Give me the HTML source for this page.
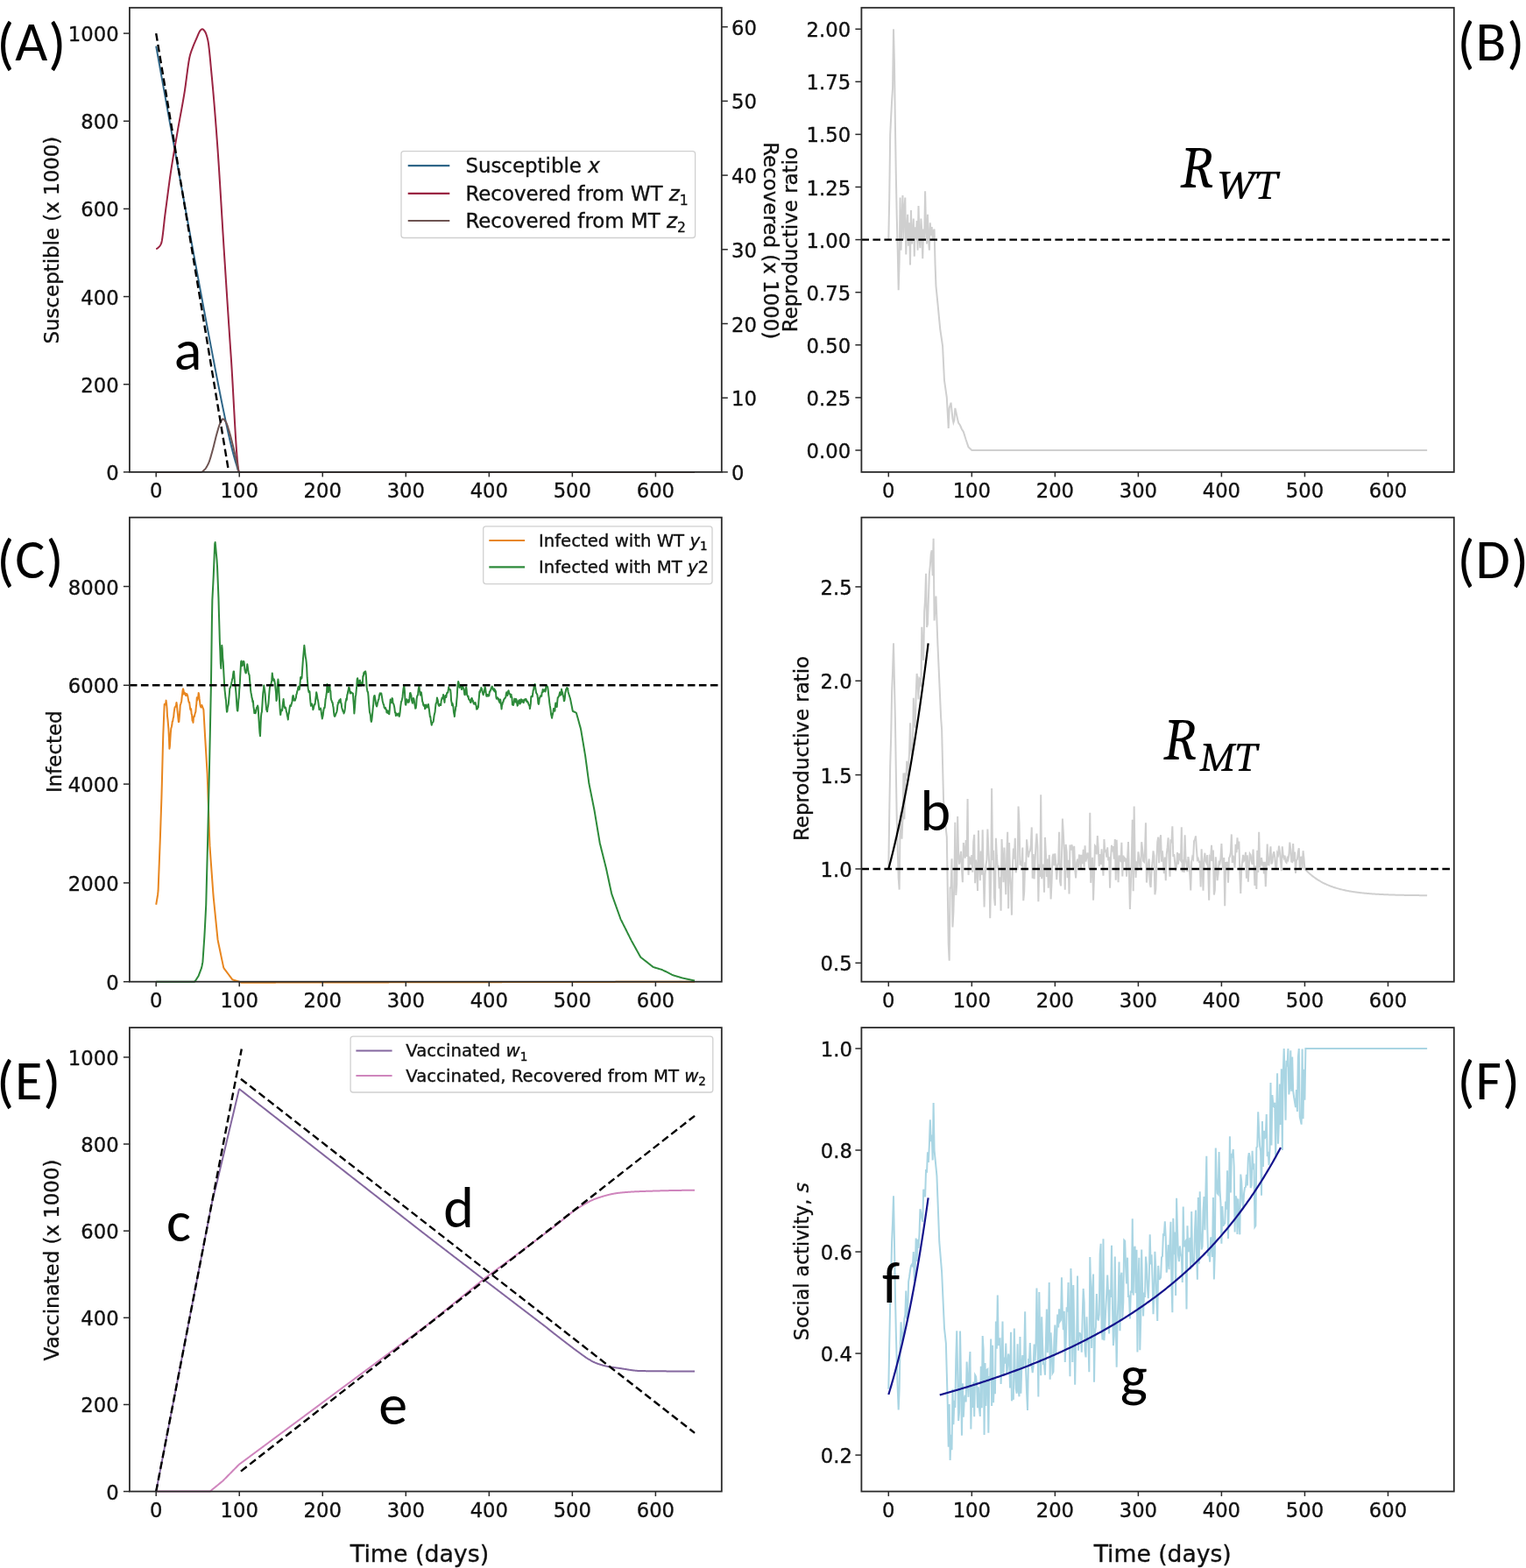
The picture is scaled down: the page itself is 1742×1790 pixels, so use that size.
<!DOCTYPE html>
<html><head><meta charset="utf-8"><title>Figure</title>
<style>html,body{margin:0;padding:0;background:#fff;}svg{display:block;}</style>
</head><body>
<svg width="1742" height="1790" viewBox="0 0 1742 1790">
<rect width="100%" height="100%" fill="#fff"/>
<polyline points="178.2,52.62 178.44,53.95 178.68,55.27 178.91,56.6 179.15,57.92 179.39,59.25 179.63,60.57 179.86,61.9 180.1,63.22 180.34,64.55 180.58,65.87 180.81,67.19 181.05,68.52 181.29,69.84 181.53,71.17 181.76,72.49 182,73.81 182.24,75.14 182.48,76.46 182.71,77.78 182.95,79.11 183.19,80.43 183.43,81.75 183.66,83.08 183.9,84.4 184.14,85.72 184.38,87.04 184.61,88.37 184.85,89.69 185.09,91.01 185.33,92.33 185.56,93.66 185.8,94.98 186.04,96.3 186.28,97.62 186.52,98.94 186.75,100.26 186.99,101.58 187.23,102.91 187.47,104.23 187.7,105.55 187.94,106.87 188.18,108.19 188.42,109.51 188.65,110.83 188.89,112.15 189.13,113.47 189.37,114.79 189.6,116.11 189.84,117.43 190.08,118.75 190.32,120.07 190.55,121.39 190.79,122.71 191.03,124.03 191.27,125.35 191.5,126.67 191.74,127.99 191.98,129.31 192.22,130.62 192.45,131.94 192.69,133.26 192.93,134.58 193.17,135.9 193.4,137.22 193.64,138.54 193.88,139.85 194.12,141.17 194.36,142.49 194.59,143.81 194.83,145.12 195.07,146.44 195.31,147.76 195.54,149.08 195.78,150.39 196.02,151.71 196.26,153.03 196.49,154.34 196.73,155.66 196.97,156.98 197.21,158.29 197.44,159.61 197.68,160.92 197.92,162.24 198.16,163.56 198.39,164.88 198.63,166.19 198.87,167.51 199.11,168.83 199.34,170.14 199.58,171.46 199.82,172.78 200.06,174.1 200.29,175.42 200.53,176.73 200.77,178.05 201.01,179.37 201.24,180.69 201.48,182.01 201.72,183.33 201.96,184.64 202.2,185.96 202.43,187.28 202.67,188.6 202.91,189.92 203.15,191.24 203.38,192.55 203.62,193.87 203.86,195.19 204.1,196.51 204.33,197.83 204.57,199.14 204.81,200.46 205.05,201.78 205.28,203.1 205.52,204.41 205.76,205.73 206,207.05 206.23,208.36 206.47,209.68 206.71,211 206.95,212.31 207.18,213.63 207.42,214.95 207.66,216.26 207.9,217.58 208.13,218.89 208.37,220.21 208.61,221.52 208.85,222.84 209.08,224.15 209.32,225.46 209.56,226.78 209.8,228.09 210.04,229.4 210.27,230.72 210.51,232.03 210.75,233.34 210.99,234.65 211.22,235.96 211.46,237.27 211.7,238.58 211.94,239.89 212.17,241.2 212.41,242.51 212.65,243.82 212.89,245.13 213.12,246.44 213.36,247.74 213.6,249.05 213.84,250.36 214.07,251.66 214.31,252.97 214.55,254.27 214.79,255.58 215.02,256.88 215.26,258.18 215.5,259.49 215.74,260.79 215.97,262.09 216.21,263.39 216.45,264.69 216.69,265.99 216.92,267.29 217.16,268.59 217.4,269.89 217.64,271.18 217.88,272.48 218.11,273.78 218.35,275.07 218.59,276.37 218.83,277.66 219.06,278.95 219.3,280.24 219.54,281.54 219.78,282.83 220.01,284.12 220.25,285.41 220.49,286.71 220.73,288 220.96,289.29 221.2,290.58 221.44,291.87 221.68,293.16 221.91,294.46 222.15,295.75 222.39,297.04 222.63,298.33 222.86,299.62 223.1,300.91 223.34,302.2 223.58,303.49 223.81,304.78 224.05,306.07 224.29,307.36 224.53,308.65 224.76,309.94 225,311.22 225.24,312.51 225.48,313.8 225.71,315.09 225.95,316.37 226.19,317.66 226.43,318.95 226.67,320.23 226.9,321.52 227.14,322.8 227.38,324.09 227.62,325.37 227.85,326.66 228.09,327.94 228.33,329.22 228.57,330.51 228.8,331.79 229.04,333.07 229.28,334.35 229.52,335.63 229.75,336.91 229.99,338.19 230.23,339.47 230.47,340.75 230.7,342.02 230.94,343.3 231.18,344.58 231.42,345.85 231.65,347.13 231.89,348.4 232.13,349.67 232.37,350.95 232.6,352.22 232.84,353.49 233.08,354.76 233.32,356.03 233.55,357.3 233.79,358.57 234.03,359.83 234.27,361.1 234.51,362.37 234.74,363.63 234.98,364.9 235.22,366.16 235.46,367.42 235.69,368.68 235.93,369.94 236.17,371.2 236.41,372.46 236.64,373.72 236.88,374.98 237.12,376.23 237.36,377.49 237.59,378.74 237.83,380 238.07,381.25 238.31,382.5 238.54,383.75 238.78,385 239.02,386.25 239.26,387.5 239.49,388.74 239.73,389.99 239.97,391.23 240.21,392.47 240.44,393.71 240.68,394.96 240.92,396.19 241.16,397.43 241.39,398.67 241.63,399.91 241.87,401.15 242.11,402.38 242.35,403.62 242.58,404.86 242.82,406.1 243.06,407.34 243.3,408.58 243.53,409.82 243.77,411.06 244.01,412.3 244.25,413.54 244.48,414.78 244.72,416.02 244.96,417.26 245.2,418.5 245.43,419.74 245.67,420.97 245.91,422.21 246.15,423.45 246.38,424.68 246.62,425.91 246.86,427.15 247.1,428.38 247.33,429.61 247.57,430.84 247.81,432.07 248.05,433.29 248.28,434.52 248.52,435.74 248.76,436.97 249,438.19 249.23,439.41 249.47,440.62 249.71,441.84 249.95,443.05 250.19,444.26 250.42,445.47 250.66,446.68 250.9,447.88 251.14,449.08 251.37,450.28 251.61,451.48 251.85,452.67 252.09,453.87 252.32,455.06 252.56,456.24 252.8,457.43 253.04,458.61 253.27,459.78 253.51,460.96 253.75,462.13 253.99,463.3 254.22,464.46 254.46,465.62 254.7,466.78 254.94,467.93 255.17,469.08 255.41,470.23 255.65,471.37 255.89,472.51 256.12,473.65 256.36,474.78 256.6,475.9 256.84,477.03 257.07,478.15 257.31,479.27 257.55,480.38 257.79,481.5 258.03,482.61 258.26,483.73 258.5,484.83 258.74,485.94 258.98,487.04 259.21,488.14 259.45,489.24 259.69,490.33 259.93,491.41 260.16,492.49 260.4,493.57 260.64,494.63 260.88,495.7 261.11,496.75 261.35,497.8 261.59,498.85 261.83,499.88 262.06,500.91 262.3,501.93 262.54,502.94 262.78,503.94 263.01,504.93 263.25,505.91 263.49,506.89 263.73,507.85 263.96,508.81 264.2,509.76 264.44,510.72 264.68,511.67 264.91,512.61 265.15,513.56 265.39,514.49 265.63,515.43 265.87,516.35 266.1,517.27 266.34,518.17 266.58,519.07 266.82,519.96 267.05,520.84 267.29,521.71 267.53,522.57 267.77,523.41 268,524.24 268.24,525.05 268.48,525.85 268.72,526.64 268.95,527.4 269.19,528.15 269.43,528.88 269.67,529.63 269.9,530.42 270.14,531.24 270.38,532.07 270.62,532.91 270.85,533.75 271.09,534.56 271.33,535.34 271.57,536.07 271.8,536.75 272.04,537.35 272.28,537.88 272.52,538.31 272.75,538.63 272.99,538.83 273.23,538.9" fill="none" stroke="#2f6688" stroke-width="2.0" stroke-linejoin="round" stroke-linecap="butt"/>
<polyline points="178.2,284.21 178.44,284.12 178.68,284.01 178.91,283.89 179.15,283.76 179.39,283.61 179.63,283.45 179.86,283.28 180.1,283.11 180.34,282.92 180.58,282.73 180.81,282.52 181.05,282.31 181.29,282.08 181.53,281.84 181.76,281.58 182,281.31 182.24,281.01 182.48,280.69 182.71,280.35 182.95,279.98 183.19,279.59 183.43,279.17 183.66,278.71 183.9,278.23 184.14,277.67 184.38,276.88 184.61,275.87 184.85,274.65 185.09,273.25 185.33,271.68 185.56,269.97 185.8,268.13 186.04,266.18 186.28,264.14 186.52,262.04 186.75,259.89 186.99,257.71 187.23,255.52 187.47,253.34 187.7,251.19 187.94,249.09 188.18,247.07 188.42,245.13 188.65,243.3 188.89,241.52 189.13,239.74 189.37,237.94 189.6,236.14 189.84,234.33 190.08,232.51 190.32,230.69 190.55,228.87 190.79,227.04 191.03,225.22 191.27,223.4 191.5,221.58 191.74,219.77 191.98,217.96 192.22,216.17 192.45,214.38 192.69,212.6 192.93,210.84 193.17,209.09 193.4,207.35 193.64,205.63 193.88,203.93 194.12,202.25 194.36,200.6 194.59,198.96 194.83,197.35 195.07,195.76 195.31,194.19 195.54,192.64 195.78,191.09 196.02,189.56 196.26,188.05 196.49,186.55 196.73,185.05 196.97,183.57 197.21,182.11 197.44,180.65 197.68,179.2 197.92,177.76 198.16,176.32 198.39,174.9 198.63,173.48 198.87,172.07 199.11,170.67 199.34,169.27 199.58,167.88 199.82,166.49 200.06,165.11 200.29,163.72 200.53,162.35 200.77,160.97 201.01,159.6 201.24,158.22 201.48,156.85 201.72,155.48 201.96,154.11 202.2,152.73 202.43,151.36 202.67,149.98 202.91,148.6 203.15,147.24 203.38,145.89 203.62,144.55 203.86,143.22 204.1,141.9 204.33,140.59 204.57,139.29 204.81,137.99 205.05,136.7 205.28,135.41 205.52,134.12 205.76,132.84 206,131.56 206.23,130.27 206.47,128.99 206.71,127.71 206.95,126.42 207.18,125.13 207.42,123.83 207.66,122.53 207.9,121.22 208.13,119.9 208.37,118.58 208.61,117.24 208.85,115.89 209.08,114.54 209.32,113.16 209.56,111.78 209.8,110.38 210.04,108.96 210.27,107.53 210.51,106.08 210.75,104.59 210.99,103.03 211.22,101.41 211.46,99.74 211.7,98.03 211.94,96.28 212.17,94.5 212.41,92.69 212.65,90.87 212.89,89.04 213.12,87.2 213.36,85.37 213.6,83.56 213.84,81.76 214.07,79.98 214.31,78.24 214.55,76.53 214.79,74.88 215.02,73.27 215.26,71.73 215.5,70.25 215.74,68.85 215.97,67.53 216.21,66.29 216.45,65.15 216.69,64.12 216.92,63.18 217.16,62.3 217.4,61.48 217.64,60.69 217.88,59.95 218.11,59.25 218.35,58.57 218.59,57.91 218.83,57.27 219.06,56.65 219.3,56.03 219.54,55.41 219.78,54.79 220.01,54.16 220.25,53.54 220.49,52.93 220.73,52.32 220.96,51.72 221.2,51.14 221.44,50.55 221.68,49.98 221.91,49.41 222.15,48.86 222.39,48.3 222.63,47.76 222.86,47.21 223.1,46.68 223.34,46.15 223.58,45.62 223.81,45.1 224.05,44.57 224.29,44.03 224.53,43.47 224.76,42.91 225,42.34 225.24,41.76 225.48,41.19 225.71,40.61 225.95,40.04 226.19,39.48 226.43,38.93 226.67,38.39 226.9,37.87 227.14,37.36 227.38,36.88 227.62,36.42 227.85,35.99 228.09,35.59 228.33,35.22 228.57,34.88 228.8,34.59 229.04,34.34 229.28,34.12 229.52,33.94 229.75,33.77 229.99,33.6 230.23,33.46 230.47,33.34 230.7,33.27 230.94,33.24 231.18,33.27 231.42,33.34 231.65,33.46 231.89,33.62 232.13,33.81 232.37,34.04 232.6,34.29 232.84,34.56 233.08,34.85 233.32,35.15 233.55,35.47 233.79,35.78 234.03,36.13 234.27,36.52 234.51,36.97 234.74,37.47 234.98,38.02 235.22,38.62 235.46,39.27 235.69,39.96 235.93,40.7 236.17,41.49 236.41,42.33 236.64,43.21 236.88,44.13 237.12,45.1 237.36,46.19 237.59,47.48 237.83,48.94 238.07,50.58 238.31,52.37 238.54,54.3 238.78,56.35 239.02,58.52 239.26,60.79 239.49,63.15 239.73,65.57 239.97,68.06 240.21,70.59 240.44,73.15 240.68,75.73 240.92,78.32 241.16,80.89 241.39,83.45 241.63,85.96 241.87,88.44 242.11,90.93 242.35,93.47 242.58,96.04 242.82,98.65 243.06,101.3 243.3,103.98 243.53,106.7 243.77,109.45 244.01,112.23 244.25,115.05 244.48,117.91 244.72,120.79 244.96,123.7 245.2,126.65 245.43,129.62 245.67,132.62 245.91,135.65 246.15,138.71 246.38,141.79 246.62,144.9 246.86,148.04 247.1,151.2 247.33,154.38 247.57,157.59 247.81,160.82 248.05,164.07 248.28,167.35 248.52,170.69 248.76,174.09 249,177.54 249.23,181.06 249.47,184.62 249.71,188.23 249.95,191.89 250.19,195.58 250.42,199.32 250.66,203.09 250.9,206.89 251.14,210.72 251.37,214.57 251.61,218.45 251.85,222.35 252.09,226.26 252.32,230.18 252.56,234.11 252.8,238.05 253.04,241.99 253.27,245.93 253.51,249.87 253.75,253.8 253.99,257.71 254.22,261.62 254.46,265.51 254.7,269.37 254.94,273.22 255.17,277.04 255.41,280.82 255.65,284.58 255.89,288.3 256.12,291.99 256.36,295.68 256.6,299.37 256.84,303.06 257.07,306.75 257.31,310.44 257.55,314.13 257.79,317.82 258.03,321.5 258.26,325.18 258.5,328.85 258.74,332.52 258.98,336.19 259.21,339.85 259.45,343.5 259.69,347.14 259.93,350.78 260.16,354.42 260.4,358.04 260.64,361.65 260.88,365.26 261.11,368.86 261.35,372.44 261.59,376.02 261.83,379.58 262.06,383.13 262.3,386.67 262.54,390.2 262.78,393.71 263.01,397.21 263.25,400.69 263.49,404.16 263.73,407.62 263.96,411.13 264.2,414.79 264.44,418.57 264.68,422.46 264.91,426.45 265.15,430.53 265.39,434.69 265.63,438.91 265.87,443.19 266.1,447.51 266.34,451.86 266.58,456.24 266.82,460.61 267.05,464.99 267.29,469.35 267.53,473.68 267.77,477.97 268,482.21 268.24,486.39 268.48,490.49 268.72,494.5 268.95,498.42 269.19,502.23 269.43,505.92 269.67,509.48 269.9,512.89 270.14,516.14 270.38,519.23 270.62,522.13 270.85,524.85 271.09,527.36 271.33,529.66 271.57,531.73 271.8,533.56 272.04,535.14 272.28,536.46 272.52,537.51 272.75,538.28 272.99,538.74 273.23,538.9" fill="none" stroke="#9a2442" stroke-width="2.0" stroke-linejoin="round" stroke-linecap="butt"/>
<polyline points="178.2,538.9 178.44,538.9 178.68,538.9 178.91,538.9 179.15,538.9 179.39,538.9 179.63,538.9 179.86,538.9 180.1,538.9 180.34,538.9 180.58,538.9 180.81,538.9 181.05,538.9 181.29,538.9 181.53,538.9 181.76,538.9 182,538.9 182.24,538.9 182.48,538.9 182.71,538.9 182.95,538.9 183.19,538.9 183.43,538.9 183.66,538.9 183.9,538.9 184.14,538.9 184.38,538.9 184.61,538.9 184.85,538.9 185.09,538.9 185.33,538.9 185.56,538.9 185.8,538.9 186.04,538.9 186.28,538.9 186.52,538.9 186.75,538.9 186.99,538.9 187.23,538.9 187.47,538.9 187.7,538.9 187.94,538.9 188.18,538.9 188.42,538.9 188.65,538.9 188.89,538.9 189.13,538.9 189.37,538.9 189.6,538.9 189.84,538.9 190.08,538.9 190.32,538.9 190.55,538.9 190.79,538.9 191.03,538.9 191.27,538.9 191.5,538.9 191.74,538.9 191.98,538.9 192.22,538.9 192.45,538.9 192.69,538.9 192.93,538.9 193.17,538.9 193.4,538.9 193.64,538.9 193.88,538.9 194.12,538.9 194.36,538.9 194.59,538.9 194.83,538.9 195.07,538.9 195.31,538.9 195.54,538.9 195.78,538.9 196.02,538.9 196.26,538.9 196.49,538.9 196.73,538.9 196.97,538.9 197.21,538.9 197.44,538.9 197.68,538.9 197.92,538.9 198.16,538.9 198.39,538.9 198.63,538.9 198.87,538.9 199.11,538.9 199.34,538.9 199.58,538.9 199.82,538.9 200.06,538.9 200.29,538.9 200.53,538.9 200.77,538.9 201.01,538.9 201.24,538.9 201.48,538.9 201.72,538.9 201.96,538.9 202.2,538.9 202.43,538.9 202.67,538.9 202.91,538.9 203.15,538.9 203.38,538.9 203.62,538.9 203.86,538.9 204.1,538.9 204.33,538.9 204.57,538.9 204.81,538.9 205.05,538.9 205.28,538.9 205.52,538.9 205.76,538.9 206,538.9 206.23,538.9 206.47,538.9 206.71,538.9 206.95,538.9 207.18,538.9 207.42,538.9 207.66,538.9 207.9,538.9 208.13,538.9 208.37,538.9 208.61,538.9 208.85,538.9 209.08,538.9 209.32,538.9 209.56,538.9 209.8,538.9 210.04,538.9 210.27,538.9 210.51,538.9 210.75,538.9 210.99,538.9 211.22,538.9 211.46,538.9 211.7,538.9 211.94,538.9 212.17,538.9 212.41,538.9 212.65,538.9 212.89,538.9 213.12,538.9 213.36,538.9 213.6,538.9 213.84,538.9 214.07,538.9 214.31,538.9 214.55,538.9 214.79,538.9 215.02,538.9 215.26,538.9 215.5,538.9 215.74,538.9 215.97,538.9 216.21,538.9 216.45,538.9 216.69,538.9 216.92,538.9 217.16,538.9 217.4,538.9 217.64,538.9 217.88,538.9 218.11,538.9 218.35,538.9 218.59,538.9 218.83,538.9 219.06,538.9 219.3,538.9 219.54,538.9 219.78,538.9 220.01,538.9 220.25,538.9 220.49,538.9 220.73,538.9 220.96,538.9 221.2,538.9 221.44,538.9 221.68,538.9 221.91,538.9 222.15,538.9 222.39,538.9 222.63,538.9 222.86,538.9 223.1,538.9 223.34,538.9 223.58,538.9 223.81,538.9 224.05,538.9 224.29,538.9 224.53,538.9 224.76,538.9 225,538.9 225.24,538.9 225.48,538.9 225.71,538.9 225.95,538.9 226.19,538.9 226.43,538.9 226.67,538.9 226.9,538.9 227.14,538.9 227.38,538.9 227.62,538.9 227.85,538.9 228.09,538.9 228.33,538.9 228.57,538.9 228.8,538.9 229.04,538.9 229.28,538.9 229.52,538.9 229.75,538.88 229.99,538.84 230.23,538.77 230.47,538.67 230.7,538.55 230.94,538.41 231.18,538.25 231.42,538.07 231.65,537.88 231.89,537.68 232.13,537.47 232.37,537.25 232.6,537.03 232.84,536.81 233.08,536.58 233.32,536.36 233.55,536.13 233.79,535.88 234.03,535.61 234.27,535.33 234.51,535.02 234.74,534.7 234.98,534.37 235.22,534.02 235.46,533.65 235.69,533.27 235.93,532.87 236.17,532.46 236.41,532.04 236.64,531.6 236.88,531.15 237.12,530.69 237.36,530.22 237.59,529.73 237.83,529.24 238.07,528.74 238.31,528.21 238.54,527.64 238.78,527.03 239.02,526.39 239.26,525.71 239.49,525.01 239.73,524.27 239.97,523.52 240.21,522.74 240.44,521.94 240.68,521.12 240.92,520.3 241.16,519.46 241.39,518.61 241.63,517.75 241.87,516.9 242.11,516.04 242.35,515.18 242.58,514.33 242.82,513.49 243.06,512.64 243.3,511.76 243.53,510.85 243.77,509.93 244.01,508.99 244.25,508.04 244.48,507.07 244.72,506.09 244.96,505.11 245.2,504.13 245.43,503.15 245.67,502.17 245.91,501.2 246.15,500.24 246.38,499.29 246.62,498.36 246.86,497.45 247.1,496.56 247.33,495.69 247.57,494.86 247.81,494.03 248.05,493.19 248.28,492.35 248.52,491.5 248.76,490.66 249,489.83 249.23,489.01 249.47,488.21 249.71,487.43 249.95,486.68 250.19,485.96 250.42,485.28 250.66,484.64 250.9,484.04 251.14,483.49 251.37,483 251.61,482.53 251.85,482.05 252.09,481.57 252.32,481.1 252.56,480.64 252.8,480.21 253.04,479.8 253.27,479.43 253.51,479.1 253.75,478.82 253.99,478.6 254.22,478.44 254.46,478.35 254.7,478.34 254.94,478.39 255.17,478.5 255.41,478.64 255.65,478.84 255.89,479.07 256.12,479.33 256.36,479.62 256.6,479.94 256.84,480.28 257.07,480.64 257.31,481.01 257.55,481.39 257.79,481.77 258.03,482.15 258.26,482.56 258.5,483.03 258.74,483.56 258.98,484.14 259.21,484.76 259.45,485.43 259.69,486.13 259.93,486.86 260.16,487.61 260.4,488.38 260.64,489.17 260.88,489.97 261.11,490.77 261.35,491.58 261.59,492.38 261.83,493.16 262.06,493.95 262.3,494.77 262.54,495.6 262.78,496.45 263.01,497.32 263.25,498.21 263.49,499.11 263.73,500.02 263.96,500.94 264.2,501.88 264.44,502.81 264.68,503.76 264.91,504.71 265.15,505.66 265.39,506.61 265.63,507.56 265.87,508.52 266.1,509.49 266.34,510.48 266.58,511.48 266.82,512.49 267.05,513.5 267.29,514.52 267.53,515.55 267.77,516.58 268,517.6 268.24,518.63 268.48,519.65 268.72,520.66 268.95,521.67 269.19,522.67 269.43,523.65 269.67,524.69 269.9,525.81 270.14,527 270.38,528.24 270.62,529.5 270.85,530.77 271.09,532.02 271.33,533.23 271.57,534.38 271.8,535.45 272.04,536.42 272.28,537.25 272.52,537.94 272.75,538.46 272.99,538.79 273.23,538.9" fill="none" stroke="#6e5452" stroke-width="2.0" stroke-linejoin="round" stroke-linecap="butt"/>
<polyline points="273.23,538.9 793.04,538.9" fill="none" stroke="#6e4a48" stroke-width="2.0" stroke-linejoin="round" stroke-linecap="butt"/>
<polyline points="178.2,538.9 229.52,538.9" fill="none" stroke="#6e4a48" stroke-width="2.0" stroke-linejoin="round" stroke-linecap="butt"/>
<polyline points="178.2,38.1 261.16,538.9" fill="none" stroke="#000" stroke-width="2.4" stroke-linejoin="round" stroke-linecap="butt" stroke-dasharray="8.6,4.4"/>
<polyline points="1014.3,273.6 1015.25,225.52 1016.2,153.4 1017.15,134.17 1018.1,114.94 1019.05,100.51 1020,33.2 1020.95,71.66 1021.9,141.38 1022.85,201.48 1023.8,249.56 1024.75,285.62 1025.7,331.3 1026.65,297.64 1027.6,225.52 1028.55,285.62 1029.5,249.56 1030.46,223.12 1031.41,273.6 1032.36,237.54 1033.31,225.52 1034.26,290.43 1035.21,261.58 1036.16,244.75 1037.11,280.81 1038.06,254.37 1039.01,302.45 1039.96,239.94 1040.91,278.41 1041.86,266.39 1042.81,249.56 1043.76,292.83 1044.71,259.18 1045.66,273.6 1046.61,251.96 1047.56,285.62 1048.51,235.14 1049.46,271.2 1050.41,283.22 1051.36,249.56 1052.31,263.98 1053.26,295.24 1054.21,261.58 1055.16,273.6 1056.11,218.31 1057.06,261.58 1058.01,278.41 1058.96,244.75 1059.91,273.6 1060.86,285.62 1061.82,254.37 1062.77,268.79 1063.72,259.18 1064.67,273.6 1065.62,263.98 1066.57,261.58 1067.52,301.25 1068.47,326.49 1069.42,336.1 1070.37,345.72 1071.32,355.66 1072.27,365.59 1073.22,375.53 1074.17,382.02 1075.12,388.51 1076.07,395 1077.02,414.59 1077.97,434.19 1078.92,440.76 1079.87,447.33 1080.82,453.9 1081.77,471.45 1082.72,489 1083.67,465.92 1084.62,462.79 1085.57,459.67 1086.52,468.8 1087.47,477.94 1088.42,482.45 1089.37,479.66 1090.32,465.92 1091.27,470.3 1092.22,474.6 1093.17,478.67 1094.13,482.75 1095.08,484.08 1096.03,485.59 1096.98,487.77 1097.93,489.96 1098.88,491.4 1099.83,492.84 1100.78,495.89 1101.73,498.93 1102.68,501.98 1103.63,504.78 1104.58,507.59 1105.53,510.39 1106.48,511.3 1107.43,512.2 1108.38,513.1 1109.33,514 1110.28,514 1111.23,514 1112.18,514 1113.13,514 1114.08,514 1115.03,514 1115.98,514 1116.93,514 1117.88,514 1118.83,514 1119.78,514 1120.73,514 1121.68,514 1122.63,514 1123.58,514 1124.53,514 1125.49,514 1126.44,514 1127.39,514 1128.34,514 1129.29,514 1130.24,514 1131.19,514 1132.14,514 1133.09,514 1134.04,514 1134.99,514 1135.94,514 1136.89,514 1137.84,514 1138.79,514 1139.74,514 1140.69,514 1141.64,514 1142.59,514 1143.54,514 1144.49,514 1145.44,514 1146.39,514 1147.34,514 1148.29,514 1149.24,514 1150.19,514 1151.14,514 1152.09,514 1153.04,514 1153.99,514 1154.94,514 1155.89,514 1156.85,514 1157.8,514 1158.75,514 1159.7,514 1160.65,514 1161.6,514 1162.55,514 1163.5,514 1164.45,514 1165.4,514 1166.35,514 1167.3,514 1168.25,514 1169.2,514 1170.15,514 1171.1,514 1172.05,514 1173,514 1173.95,514 1174.9,514 1175.85,514 1176.8,514 1177.75,514 1178.7,514 1179.65,514 1180.6,514 1181.55,514 1182.5,514 1183.45,514 1184.4,514 1185.35,514 1186.3,514 1187.25,514 1188.2,514 1189.16,514 1190.11,514 1191.06,514 1192.01,514 1192.96,514 1193.91,514 1194.86,514 1195.81,514 1196.76,514 1197.71,514 1198.66,514 1199.61,514 1200.56,514 1201.51,514 1202.46,514 1203.41,514 1204.36,514 1205.31,514 1206.26,514 1207.21,514 1208.16,514 1209.11,514 1210.06,514 1211.01,514 1211.96,514 1212.91,514 1213.86,514 1214.81,514 1215.76,514 1216.71,514 1217.66,514 1218.61,514 1219.56,514 1220.52,514 1221.47,514 1222.42,514 1223.37,514 1224.32,514 1225.27,514 1226.22,514 1227.17,514 1228.12,514 1229.07,514 1230.02,514 1230.97,514 1231.92,514 1232.87,514 1233.82,514 1234.77,514 1235.72,514 1236.67,514 1237.62,514 1238.57,514 1239.52,514 1240.47,514 1241.42,514 1242.37,514 1243.32,514 1244.27,514 1245.22,514 1246.17,514 1247.12,514 1248.07,514 1249.02,514 1249.97,514 1250.92,514 1251.88,514 1252.83,514 1253.78,514 1254.73,514 1255.68,514 1256.63,514 1257.58,514 1258.53,514 1259.48,514 1260.43,514 1261.38,514 1262.33,514 1263.28,514 1264.23,514 1265.18,514 1266.13,514 1267.08,514 1268.03,514 1268.98,514 1269.93,514 1270.88,514 1271.83,514 1272.78,514 1273.73,514 1274.68,514 1275.63,514 1276.58,514 1277.53,514 1278.48,514 1279.43,514 1280.38,514 1281.33,514 1282.28,514 1283.23,514 1284.19,514 1285.14,514 1286.09,514 1287.04,514 1287.99,514 1288.94,514 1289.89,514 1290.84,514 1291.79,514 1292.74,514 1293.69,514 1294.64,514 1295.59,514 1296.54,514 1297.49,514 1298.44,514 1299.39,514 1300.34,514 1301.29,514 1302.24,514 1303.19,514 1304.14,514 1305.09,514 1306.04,514 1306.99,514 1307.94,514 1308.89,514 1309.84,514 1310.79,514 1311.74,514 1312.69,514 1313.64,514 1314.59,514 1315.55,514 1316.5,514 1317.45,514 1318.4,514 1319.35,514 1320.3,514 1321.25,514 1322.2,514 1323.15,514 1324.1,514 1325.05,514 1326,514 1326.95,514 1327.9,514 1328.85,514 1329.8,514 1330.75,514 1331.7,514 1332.65,514 1333.6,514 1334.55,514 1335.5,514 1336.45,514 1337.4,514 1338.35,514 1339.3,514 1340.25,514 1341.2,514 1342.15,514 1343.1,514 1344.05,514 1345,514 1345.95,514 1346.9,514 1347.86,514 1348.81,514 1349.76,514 1350.71,514 1351.66,514 1352.61,514 1353.56,514 1354.51,514 1355.46,514 1356.41,514 1357.36,514 1358.31,514 1359.26,514 1360.21,514 1361.16,514 1362.11,514 1363.06,514 1364.01,514 1364.96,514 1365.91,514 1366.86,514 1367.81,514 1368.76,514 1369.71,514 1370.66,514 1371.61,514 1372.56,514 1373.51,514 1374.46,514 1375.41,514 1376.36,514 1377.31,514 1378.26,514 1379.22,514 1380.17,514 1381.12,514 1382.07,514 1383.02,514 1383.97,514 1384.92,514 1385.87,514 1386.82,514 1387.77,514 1388.72,514 1389.67,514 1390.62,514 1391.57,514 1392.52,514 1393.47,514 1394.42,514 1395.37,514 1396.32,514 1397.27,514 1398.22,514 1399.17,514 1400.12,514 1401.07,514 1402.02,514 1402.97,514 1403.92,514 1404.87,514 1405.82,514 1406.77,514 1407.72,514 1408.67,514 1409.62,514 1410.58,514 1411.53,514 1412.48,514 1413.43,514 1414.38,514 1415.33,514 1416.28,514 1417.23,514 1418.18,514 1419.13,514 1420.08,514 1421.03,514 1421.98,514 1422.93,514 1423.88,514 1424.83,514 1425.78,514 1426.73,514 1427.68,514 1428.63,514 1429.58,514 1430.53,514 1431.48,514 1432.43,514 1433.38,514 1434.33,514 1435.28,514 1436.23,514 1437.18,514 1438.13,514 1439.08,514 1440.03,514 1440.98,514 1441.93,514 1442.89,514 1443.84,514 1444.79,514 1445.74,514 1446.69,514 1447.64,514 1448.59,514 1449.54,514 1450.49,514 1451.44,514 1452.39,514 1453.34,514 1454.29,514 1455.24,514 1456.19,514 1457.14,514 1458.09,514 1459.04,514 1459.99,514 1460.94,514 1461.89,514 1462.84,514 1463.79,514 1464.74,514 1465.69,514 1466.64,514 1467.59,514 1468.54,514 1469.49,514 1470.44,514 1471.39,514 1472.34,514 1473.29,514 1474.25,514 1475.2,514 1476.15,514 1477.1,514 1478.05,514 1479,514 1479.95,514 1480.9,514 1481.85,514 1482.8,514 1483.75,514 1484.7,514 1485.65,514 1486.6,514 1487.55,514 1488.5,514 1489.45,514 1490.4,514 1491.35,514 1492.3,514 1493.25,514 1494.2,514 1495.15,514 1496.1,514 1497.05,514 1498,514 1498.95,514 1499.9,514 1500.85,514 1501.8,514 1502.75,514 1503.7,514 1504.65,514 1505.61,514 1506.56,514 1507.51,514 1508.46,514 1509.41,514 1510.36,514 1511.31,514 1512.26,514 1513.21,514 1514.16,514 1515.11,514 1516.06,514 1517.01,514 1517.96,514 1518.91,514 1519.86,514 1520.81,514 1521.76,514 1522.71,514 1523.66,514 1524.61,514 1525.56,514 1526.51,514 1527.46,514 1528.41,514 1529.36,514 1530.31,514 1531.26,514 1532.21,514 1533.16,514 1534.11,514 1535.06,514 1536.01,514 1536.96,514 1537.92,514 1538.87,514 1539.82,514 1540.77,514 1541.72,514 1542.67,514 1543.62,514 1544.57,514 1545.52,514 1546.47,514 1547.42,514 1548.37,514 1549.32,514 1550.27,514 1551.22,514 1552.17,514 1553.12,514 1554.07,514 1555.02,514 1555.97,514 1556.92,514 1557.87,514 1558.82,514 1559.77,514 1560.72,514 1561.67,514 1562.62,514 1563.57,514 1564.52,514 1565.47,514 1566.42,514 1567.37,514 1568.32,514 1569.28,514 1570.23,514 1571.18,514 1572.13,514 1573.08,514 1574.03,514 1574.98,514 1575.93,514 1576.88,514 1577.83,514 1578.78,514 1579.73,514 1580.68,514 1581.63,514 1582.58,514 1583.53,514 1584.48,514 1585.43,514 1586.38,514 1587.33,514 1588.28,514 1589.23,514 1590.18,514 1591.13,514 1592.08,514 1593.03,514 1593.98,514 1594.93,514 1595.88,514 1596.83,514 1597.78,514 1598.73,514 1599.68,514 1600.64,514 1601.59,514 1602.54,514 1603.49,514 1604.44,514 1605.39,514 1606.34,514 1607.29,514 1608.24,514 1609.19,514 1610.14,514 1611.09,514 1612.04,514 1612.99,514 1613.94,514 1614.89,514 1615.84,514 1616.79,514 1617.74,514 1618.69,514 1619.64,514 1620.59,514 1621.54,514 1622.49,514 1623.44,514 1624.39,514 1625.34,514 1626.29,514 1627.24,514 1628.19,514 1629.14,514" fill="none" stroke="#cfcfcf" stroke-width="2.0" stroke-linejoin="miter" stroke-linecap="butt"/>
<polyline points="983.4,273.6 1659.8,273.6" fill="none" stroke="#000" stroke-width="2.4" stroke-linejoin="round" stroke-linecap="butt" stroke-dasharray="8.6,4.4"/>
<polyline points="178.2,1032.72 178.68,1029.9 179.15,1027.08 179.63,1024.26 180.1,1021.44 180.58,1016.69 181.05,1004.21 181.53,991.74 182,979.27 182.48,966.79 182.95,954.32 183.43,940.05 183.9,925.79 184.38,911.52 184.85,894.37 185.33,875.29 185.8,856.22 186.28,838.67 186.75,827.22 187.23,814.29 187.7,804.06 188.18,803.64 188.65,804.53 189.13,803.55 189.6,799.62 190.08,803.45 190.55,808.61 191.03,817.72 191.5,821.42 191.98,827.03 192.45,832.79 192.93,842.62 193.4,854.78 193.88,851.76 194.36,843.64 194.83,836.28 195.31,831.5 195.78,830.06 196.26,828.03 196.73,823.65 197.21,823.44 197.68,819.88 198.16,818.73 198.63,813.4 199.11,810.03 199.58,807.35 200.06,806.97 200.53,806.67 201.01,804.55 201.48,801.94 201.96,804.85 202.43,810.84 202.91,814.79 203.38,819.75 203.86,824.1 204.33,823.94 204.81,818.13 205.28,812.69 205.76,804.76 206.23,803.83 206.71,802.13 207.18,800.44 207.66,795.62 208.13,792.02 208.61,787.84 209.08,786.34 209.56,787.99 210.04,792.54 210.51,792.22 210.99,790.85 211.46,791.49 211.94,793.79 212.41,794.05 212.89,792.05 213.36,792.16 213.84,793.33 214.31,794.77 214.79,797.69 215.26,800.35 215.74,801.98 216.21,801.81 216.69,805.64 217.16,809.1 217.64,810.69 218.11,809.12 218.59,814.95 219.06,815.83 219.54,822.72 220.01,821.9 220.49,824.94 220.96,819.31 221.44,817.52 221.91,817.83 222.39,815.44 222.86,813.73 223.34,812.67 223.81,807.04 224.29,803.58 224.76,796.29 225.24,799.62 225.71,797.04 226.19,795.76 226.67,790.93 227.14,792.84 227.62,797.63 228.09,801.03 228.57,805.02 229.04,806.79 229.52,807.56 229.99,807.14 230.47,804.99 230.94,806.25 231.42,807.52 231.89,808.79 232.37,810.05 232.84,818.4 233.32,826.95 233.79,835.5 234.27,843.83 234.74,851.75 235.22,859.67 235.69,867.59 236.17,875.51 236.64,883.43 237.12,897.05 237.59,911.22 238.07,925.4 238.54,939.58 239.02,953.76 239.49,965.91 239.97,972.56 240.44,979.21 240.92,985.86 241.39,992.52 241.87,999.17 242.35,1005.82 242.82,1012.47 243.3,1019.13 243.77,1024.92 244.25,1029.68 244.72,1034.43 245.2,1039.18 245.67,1043.93 246.15,1048.68 246.62,1053.43 247.1,1058.18 247.57,1062.94 248.05,1067.69 248.52,1072.44 249,1075.03 249.47,1077.29 249.95,1079.55 250.42,1081.81 250.9,1084.06 251.37,1086.32 251.85,1088.58 252.32,1090.83 252.8,1093.09 253.27,1095.35 253.75,1097.6 254.22,1099.86 254.7,1102.12 255.17,1104.38 255.65,1105.41 256.12,1106.05 256.6,1106.68 257.07,1107.31 257.55,1107.95 258.03,1108.58 258.5,1109.21 258.98,1109.85 259.45,1110.48 259.93,1111.11 260.4,1111.75 260.88,1112.38 261.35,1113.02 261.83,1113.65 262.3,1114.28 262.78,1114.92 263.25,1115.55 263.73,1116.18 264.2,1116.82 264.68,1117.45 265.15,1118.08 265.63,1118.43 266.1,1118.57 266.58,1118.71 267.05,1118.86 267.53,1119 268,1119.14 268.48,1119.28 268.95,1119.42 269.43,1119.57 269.9,1119.71 270.38,1119.85 270.85,1119.99 271.33,1120.13 271.8,1120.27 272.28,1120.42 272.75,1120.56 273.23,1120.7 273.71,1120.92 274.18,1121.14 274.66,1121.35 275.13,1121.57 275.61,1121.7 276.08,1121.7 276.56,1121.7 277.03,1121.7 277.51,1121.7 277.98,1121.7 278.46,1121.7 278.93,1121.69 279.41,1121.69 279.88,1121.69 280.36,1121.69 280.83,1121.69 281.31,1121.69 281.78,1121.69 282.26,1121.69 282.73,1121.69 283.21,1121.69 283.68,1121.69 284.16,1121.68 284.63,1121.68 285.11,1121.68 285.58,1121.68 286.06,1121.68 286.53,1121.68 287.01,1121.68 287.48,1121.68 287.96,1121.68 288.43,1121.68 288.91,1121.68 289.39,1121.67 289.86,1121.67 290.34,1121.67 290.81,1121.67 291.29,1121.67 291.76,1121.67 292.24,1121.67 292.71,1121.67 293.19,1121.67 293.66,1121.67 294.14,1121.67 294.61,1121.66 295.09,1121.66 295.56,1121.66 296.04,1121.66 296.51,1121.66 296.99,1121.66 297.46,1121.66 297.94,1121.66 298.41,1121.66 298.89,1121.66 299.36,1121.66 299.84,1121.65 300.31,1121.65 300.79,1121.65 301.26,1121.65 301.74,1121.65 302.21,1121.65 302.69,1121.65 303.16,1121.65 303.64,1121.65 304.11,1121.65 304.59,1121.65 305.07,1121.64 305.54,1121.64 306.02,1121.64 306.49,1121.64 306.97,1121.64 307.44,1121.64 307.92,1121.64 308.39,1121.64 308.87,1121.64 309.34,1121.64 309.82,1121.64 310.29,1121.63 310.77,1121.63 311.24,1121.63 311.72,1121.63 312.19,1121.63 312.67,1121.63 313.14,1121.63 313.62,1121.63 314.09,1121.63 314.57,1121.63 315.04,1121.62 315.52,1121.62 315.99,1121.62 316.47,1121.62 316.94,1121.62 317.42,1121.62 317.89,1121.62 318.37,1121.62 318.84,1121.62 319.32,1121.62 319.79,1121.62 320.27,1121.61 320.75,1121.61 321.22,1121.61 321.7,1121.61 322.17,1121.61 322.65,1121.61 323.12,1121.61 323.6,1121.61 324.07,1121.61 324.55,1121.61 325.02,1121.61 325.5,1121.6 325.97,1121.6 326.45,1121.6 326.92,1121.6 327.4,1121.6 327.87,1121.6 328.35,1121.6 328.82,1121.6 329.3,1121.6 329.77,1121.6 330.25,1121.6 330.72,1121.59 331.2,1121.59 331.67,1121.59 332.15,1121.59 332.62,1121.59 333.1,1121.59 333.57,1121.59 334.05,1121.59 334.52,1121.59 335,1121.59 335.47,1121.59 335.95,1121.58 336.42,1121.58 336.9,1121.58 337.38,1121.58 337.85,1121.58 338.33,1121.58 338.8,1121.58 339.28,1121.58 339.75,1121.58 340.23,1121.58 340.7,1121.58 341.18,1121.57 341.65,1121.57 342.13,1121.57 342.6,1121.57 343.08,1121.57 343.55,1121.57 344.03,1121.57 344.5,1121.57 344.98,1121.57 345.45,1121.57 345.93,1121.57 346.4,1121.56 346.88,1121.56 347.35,1121.56 347.83,1121.56 348.3,1121.56 348.78,1121.56 349.25,1121.56 349.73,1121.56 350.2,1121.56 350.68,1121.56 351.15,1121.56 351.63,1121.55 352.1,1121.55 352.58,1121.55 353.06,1121.55 353.53,1121.55 354.01,1121.55 354.48,1121.55 354.96,1121.55 355.43,1121.55 355.91,1121.55 356.38,1121.54 356.86,1121.54 357.33,1121.54 357.81,1121.54 358.28,1121.54 358.76,1121.54 359.23,1121.54 359.71,1121.54 360.18,1121.54 360.66,1121.54 361.13,1121.54 361.61,1121.53 362.08,1121.53 362.56,1121.53 363.03,1121.53 363.51,1121.53 363.98,1121.53 364.46,1121.53 364.93,1121.53 365.41,1121.53 365.88,1121.53 366.36,1121.53 366.83,1121.52 367.31,1121.52 367.78,1121.52 368.26,1121.52 368.74,1121.52 369.21,1121.52 369.69,1121.52 370.16,1121.52 370.64,1121.52 371.11,1121.52 371.59,1121.52 372.06,1121.51 372.54,1121.51 373.01,1121.51 373.49,1121.51 373.96,1121.51 374.44,1121.51 374.91,1121.51 375.39,1121.51 375.86,1121.51 376.34,1121.51 376.81,1121.51 377.29,1121.5 377.76,1121.5 378.24,1121.5 378.71,1121.5 379.19,1121.5 379.66,1121.5 380.14,1121.5 380.61,1121.5 381.09,1121.5 381.56,1121.5 382.04,1121.5 382.51,1121.49 382.99,1121.49 383.46,1121.49 383.94,1121.49 384.42,1121.49 384.89,1121.49 385.37,1121.49 385.84,1121.49 386.32,1121.49 386.79,1121.49 387.27,1121.49 387.74,1121.48 388.22,1121.48 388.69,1121.48 389.17,1121.48 389.64,1121.48 390.12,1121.48 390.59,1121.48 391.07,1121.48 391.54,1121.48 392.02,1121.48 392.49,1121.48 392.97,1121.47 393.44,1121.47 393.92,1121.47 394.39,1121.47 394.87,1121.47 395.34,1121.47 395.82,1121.47 396.29,1121.47 396.77,1121.47 397.24,1121.47 397.72,1121.46 398.19,1121.46 398.67,1121.46 399.14,1121.46 399.62,1121.46 400.1,1121.46 400.57,1121.46 401.05,1121.46 401.52,1121.46 402,1121.46 402.47,1121.46 402.95,1121.45 403.42,1121.45 403.9,1121.45 404.37,1121.45 404.85,1121.45 405.32,1121.45 405.8,1121.45 406.27,1121.45 406.75,1121.45 407.22,1121.45 407.7,1121.45 408.17,1121.44 408.65,1121.44 409.12,1121.44 409.6,1121.44 410.07,1121.44 410.55,1121.44 411.02,1121.44 411.5,1121.44 411.97,1121.44 412.45,1121.44 412.92,1121.44 413.4,1121.43 413.87,1121.43 414.35,1121.43 414.82,1121.43 415.3,1121.43 415.77,1121.43 416.25,1121.43 416.73,1121.43 417.2,1121.43 417.68,1121.43 418.15,1121.43 418.63,1121.42 419.1,1121.42 419.58,1121.42 420.05,1121.42 420.53,1121.42 421,1121.42 421.48,1121.42 421.95,1121.42 422.43,1121.42 422.9,1121.42 423.38,1121.42 423.85,1121.41 424.33,1121.41 424.8,1121.41 425.28,1121.41 425.75,1121.41 426.23,1121.41 426.7,1121.41 427.18,1121.41 427.65,1121.41 428.13,1121.41 428.6,1121.41 429.08,1121.4 429.55,1121.4 430.03,1121.4 430.5,1121.4 430.98,1121.4 431.45,1121.4 431.93,1121.4 432.41,1121.4 432.88,1121.4 433.36,1121.4 433.83,1121.4 434.31,1121.39 434.78,1121.39 435.26,1121.39 435.73,1121.39 436.21,1121.39 436.68,1121.39 437.16,1121.39 437.63,1121.39 438.11,1121.39 438.58,1121.39 439.06,1121.38 439.53,1121.38 440.01,1121.38 440.48,1121.38 440.96,1121.38 441.43,1121.38 441.91,1121.38 442.38,1121.38 442.86,1121.38 443.33,1121.38 443.81,1121.38 444.28,1121.37 444.76,1121.37 445.23,1121.37 445.71,1121.37 446.18,1121.37 446.66,1121.37 447.13,1121.37 447.61,1121.37 448.09,1121.37 448.56,1121.37 449.04,1121.37 449.51,1121.36 449.99,1121.36 450.46,1121.36 450.94,1121.36 451.41,1121.36 451.89,1121.36 452.36,1121.36 452.84,1121.36 453.31,1121.36 453.79,1121.36 454.26,1121.36 454.74,1121.35 455.21,1121.35 455.69,1121.35 456.16,1121.35 456.64,1121.35 457.11,1121.35 457.59,1121.35 458.06,1121.35 458.54,1121.35 459.01,1121.35 459.49,1121.35 459.96,1121.34 460.44,1121.34 460.91,1121.34 461.39,1121.34 461.86,1121.34 462.34,1121.34 462.81,1121.34 463.29,1121.34 463.77,1121.34 464.24,1121.34 464.72,1121.34 465.19,1121.33 465.67,1121.33 466.14,1121.33 466.62,1121.33 467.09,1121.33 467.57,1121.33 468.04,1121.33 468.52,1121.33 468.99,1121.33 469.47,1121.33 469.94,1121.33 470.42,1121.32 470.89,1121.32 471.37,1121.32 471.84,1121.32 472.32,1121.32 472.79,1121.32 473.27,1121.32 473.74,1121.32 474.22,1121.32 474.69,1121.32 475.17,1121.32 475.64,1121.31 476.12,1121.31 476.59,1121.31 477.07,1121.31 477.54,1121.31 478.02,1121.31 478.49,1121.31 478.97,1121.31 479.45,1121.31 479.92,1121.31 480.4,1121.3 480.87,1121.3 481.35,1121.3 481.82,1121.3 482.3,1121.3 482.77,1121.3 483.25,1121.3 483.72,1121.3 484.2,1121.3 484.67,1121.3 485.15,1121.3 485.62,1121.29 486.1,1121.29 486.57,1121.29 487.05,1121.29 487.52,1121.29 488,1121.29 488.47,1121.29 488.95,1121.29 489.42,1121.29 489.9,1121.29 490.37,1121.29 490.85,1121.28 491.32,1121.28 491.8,1121.28 492.27,1121.28 492.75,1121.28 493.22,1121.28 493.7,1121.28 494.17,1121.28 494.65,1121.28 495.13,1121.28 495.6,1121.28 496.08,1121.27 496.55,1121.27 497.03,1121.27 497.5,1121.27 497.98,1121.27 498.45,1121.27 498.93,1121.27 499.4,1121.27 499.88,1121.27 500.35,1121.27 500.83,1121.27 501.3,1121.26 501.78,1121.26 502.25,1121.26 502.73,1121.26 503.2,1121.26 503.68,1121.26 504.15,1121.26 504.63,1121.26 505.1,1121.26 505.58,1121.26 506.05,1121.26 506.53,1121.25 507,1121.25 507.48,1121.25 507.95,1121.25 508.43,1121.25 508.9,1121.25 509.38,1121.25 509.85,1121.25 510.33,1121.25 510.81,1121.25 511.28,1121.25 511.76,1121.24 512.23,1121.24 512.71,1121.24 513.18,1121.24 513.66,1121.24 514.13,1121.24 514.61,1121.24 515.08,1121.24 515.56,1121.24 516.03,1121.24 516.51,1121.24 516.98,1121.23 517.46,1121.23 517.93,1121.23 518.41,1121.23 518.88,1121.23 519.36,1121.23 519.83,1121.23 520.31,1121.23 520.78,1121.23 521.26,1121.23 521.73,1121.22 522.21,1121.22 522.68,1121.22 523.16,1121.22 523.63,1121.22 524.11,1121.22 524.58,1121.22 525.06,1121.22 525.53,1121.22 526.01,1121.22 526.48,1121.22 526.96,1121.21 527.44,1121.21 527.91,1121.21 528.39,1121.21 528.86,1121.21 529.34,1121.21 529.81,1121.21 530.29,1121.21 530.76,1121.21 531.24,1121.21 531.71,1121.21 532.19,1121.2 532.66,1121.2 533.14,1121.2 533.61,1121.2 534.09,1121.2 534.56,1121.2 535.04,1121.2 535.51,1121.2 535.99,1121.2 536.46,1121.2 536.94,1121.2 537.41,1121.19 537.89,1121.19 538.36,1121.19 538.84,1121.19 539.31,1121.19 539.79,1121.19 540.26,1121.19 540.74,1121.19 541.21,1121.19 541.69,1121.19 542.16,1121.19 542.64,1121.18 543.12,1121.18 543.59,1121.18 544.07,1121.18 544.54,1121.18 545.02,1121.18 545.49,1121.18 545.97,1121.18 546.44,1121.18 546.92,1121.18 547.39,1121.18 547.87,1121.17 548.34,1121.17 548.82,1121.17 549.29,1121.17 549.77,1121.17 550.24,1121.17 550.72,1121.17 551.19,1121.17 551.67,1121.17 552.14,1121.17 552.62,1121.17 553.09,1121.16 553.57,1121.16 554.04,1121.16 554.52,1121.16 554.99,1121.16 555.47,1121.16 555.94,1121.16 556.42,1121.16 556.89,1121.16 557.37,1121.16 557.84,1121.16 558.32,1121.15 558.8,1121.15 559.27,1121.15 559.75,1121.15 560.22,1121.15 560.7,1121.15 561.17,1121.15 561.65,1121.15 562.12,1121.15 562.6,1121.15 563.07,1121.14 563.55,1121.14 564.02,1121.14 564.5,1121.14 564.97,1121.14 565.45,1121.14 565.92,1121.14 566.4,1121.14 566.87,1121.14 567.35,1121.14 567.82,1121.14 568.3,1121.13 568.77,1121.13 569.25,1121.13 569.72,1121.13 570.2,1121.13 570.67,1121.13 571.15,1121.13 571.62,1121.13 572.1,1121.13 572.57,1121.13 573.05,1121.13 573.52,1121.12 574,1121.12 574.48,1121.12 574.95,1121.12 575.43,1121.12 575.9,1121.12 576.38,1121.12 576.85,1121.12 577.33,1121.12 577.8,1121.12 578.28,1121.12 578.75,1121.11 579.23,1121.11 579.7,1121.11 580.18,1121.11 580.65,1121.11 581.13,1121.11 581.6,1121.11 582.08,1121.11 582.55,1121.11 583.03,1121.11 583.5,1121.11 583.98,1121.1 584.45,1121.1 584.93,1121.1 585.4,1121.1 585.88,1121.1 586.35,1121.1 586.83,1121.1 587.3,1121.1 587.78,1121.1 588.25,1121.1 588.73,1121.1 589.2,1121.09 589.68,1121.09 590.16,1121.09 590.63,1121.09 591.11,1121.09 591.58,1121.09 592.06,1121.09 592.53,1121.09 593.01,1121.09 593.48,1121.09 593.96,1121.09 594.43,1121.08 594.91,1121.08 595.38,1121.08 595.86,1121.08 596.33,1121.08 596.81,1121.08 597.28,1121.08 597.76,1121.08 598.23,1121.08 598.71,1121.08 599.18,1121.08 599.66,1121.07 600.13,1121.07 600.61,1121.07 601.08,1121.07 601.56,1121.07 602.03,1121.07 602.51,1121.07 602.98,1121.07 603.46,1121.07 603.93,1121.07 604.41,1121.06 604.88,1121.06 605.36,1121.06 605.84,1121.06 606.31,1121.06 606.79,1121.06 607.26,1121.06 607.74,1121.06 608.21,1121.06 608.69,1121.06 609.16,1121.06 609.64,1121.05 610.11,1121.05 610.59,1121.05 611.06,1121.05 611.54,1121.05 612.01,1121.05 612.49,1121.05 612.96,1121.05 613.44,1121.05 613.91,1121.05 614.39,1121.05 614.86,1121.04 615.34,1121.04 615.81,1121.04 616.29,1121.04 616.76,1121.04 617.24,1121.04 617.71,1121.04 618.19,1121.04 618.66,1121.04 619.14,1121.04 619.61,1121.04 620.09,1121.03 620.56,1121.03 621.04,1121.03 621.51,1121.03 621.99,1121.03 622.47,1121.03 622.94,1121.03 623.42,1121.03 623.89,1121.03 624.37,1121.03 624.84,1121.03 625.32,1121.02 625.79,1121.02 626.27,1121.02 626.74,1121.02 627.22,1121.02 627.69,1121.02 628.17,1121.02 628.64,1121.02 629.12,1121.02 629.59,1121.02 630.07,1121.02 630.54,1121.01 631.02,1121.01 631.49,1121.01 631.97,1121.01 632.44,1121.01 632.92,1121.01 633.39,1121.01 633.87,1121.01 634.34,1121.01 634.82,1121.01 635.29,1121.01 635.77,1121 636.24,1121 636.72,1121 637.19,1121 637.67,1121 638.15,1121 638.62,1121 639.1,1121 639.57,1121 640.05,1121 640.52,1121 641,1120.99 641.47,1120.99 641.95,1120.99 642.42,1120.99 642.9,1120.99 643.37,1120.99 643.85,1120.99 644.32,1120.99 644.8,1120.99 645.27,1120.99 645.75,1120.99 646.22,1120.98 646.7,1120.98 647.17,1120.98 647.65,1120.98 648.12,1120.98 648.6,1120.98 649.07,1120.98 649.55,1120.98 650.02,1120.98 650.5,1120.98 650.97,1120.97 651.45,1120.97 651.92,1120.97 652.4,1120.97 652.87,1120.97 653.35,1120.97 653.83,1120.97 654.3,1120.97 654.78,1120.97 655.25,1120.97 655.73,1120.97 656.2,1120.96 656.68,1120.96 657.15,1120.96 657.63,1120.96 658.1,1120.96 658.58,1120.96 659.05,1120.96 659.53,1120.96 660,1120.96 660.48,1120.96 660.95,1120.96 661.43,1120.95 661.9,1120.95 662.38,1120.95 662.85,1120.95 663.33,1120.95 663.8,1120.95 664.28,1120.95 664.75,1120.95 665.23,1120.95 665.7,1120.95 666.18,1120.95 666.65,1120.94 667.13,1120.94 667.6,1120.94 668.08,1120.94 668.55,1120.94 669.03,1120.94 669.51,1120.94 669.98,1120.94 670.46,1120.94 670.93,1120.94 671.41,1120.94 671.88,1120.93 672.36,1120.93 672.83,1120.93 673.31,1120.93 673.78,1120.93 674.26,1120.93 674.73,1120.93 675.21,1120.93 675.68,1120.93 676.16,1120.93 676.63,1120.93 677.11,1120.92 677.58,1120.92 678.06,1120.92 678.53,1120.92 679.01,1120.92 679.48,1120.92 679.96,1120.92 680.43,1120.92 680.91,1120.92 681.38,1120.92 681.86,1120.92 682.33,1120.91 682.81,1120.91 683.28,1120.91 683.76,1120.91 684.23,1120.91 684.71,1120.91 685.19,1120.91 685.66,1120.91 686.14,1120.91 686.61,1120.91 687.09,1120.91 687.56,1120.9 688.04,1120.9 688.51,1120.9 688.99,1120.9 689.46,1120.9 689.94,1120.9 690.41,1120.9 690.89,1120.9 691.36,1120.9 691.84,1120.9 692.31,1120.89 692.79,1120.89 693.26,1120.89 693.74,1120.89 694.21,1120.89 694.69,1120.89 695.16,1120.89 695.64,1120.89 696.11,1120.89 696.59,1120.89 697.06,1120.89 697.54,1120.88 698.01,1120.88 698.49,1120.88 698.96,1120.88 699.44,1120.88 699.91,1120.88 700.39,1120.88 700.87,1120.88 701.34,1120.88 701.82,1120.88 702.29,1120.88 702.77,1120.87 703.24,1120.87 703.72,1120.87 704.19,1120.87 704.67,1120.87 705.14,1120.87 705.62,1120.87 706.09,1120.87 706.57,1120.87 707.04,1120.87 707.52,1120.87 707.99,1120.86 708.47,1120.86 708.94,1120.86 709.42,1120.86 709.89,1120.86 710.37,1120.86 710.84,1120.86 711.32,1120.86 711.79,1120.86 712.27,1120.86 712.74,1120.86 713.22,1120.85 713.69,1120.85 714.17,1120.85 714.64,1120.85 715.12,1120.85 715.59,1120.85 716.07,1120.85 716.54,1120.85 717.02,1120.85 717.5,1120.85 717.97,1120.85 718.45,1120.84 718.92,1120.84 719.4,1120.84 719.87,1120.84 720.35,1120.84 720.82,1120.84 721.3,1120.84 721.77,1120.84 722.25,1120.84 722.72,1120.84 723.2,1120.84 723.67,1120.83 724.15,1120.83 724.62,1120.83 725.1,1120.83 725.57,1120.83 726.05,1120.83 726.52,1120.83 727,1120.83 727.47,1120.83 727.95,1120.83 728.42,1120.83 728.9,1120.82 729.37,1120.82 729.85,1120.82 730.32,1120.82 730.8,1120.82 731.27,1120.82 731.75,1120.82 732.22,1120.82 732.7,1120.82 733.18,1120.82 733.65,1120.81 734.13,1120.81 734.6,1120.81 735.08,1120.81 735.55,1120.81 736.03,1120.81 736.5,1120.81 736.98,1120.81 737.45,1120.81 737.93,1120.81 738.4,1120.81 738.88,1120.8 739.35,1120.8 739.83,1120.8 740.3,1120.8 740.78,1120.8 741.25,1120.8 741.73,1120.8 742.2,1120.8 742.68,1120.8 743.15,1120.8 743.63,1120.8 744.1,1120.79 744.58,1120.79 745.05,1120.79 745.53,1120.79 746,1120.79 746.48,1120.79 746.95,1120.79 747.43,1120.79 747.9,1120.79 748.38,1120.79 748.86,1120.79 749.33,1120.78 749.81,1120.78 750.28,1120.78 750.76,1120.78 751.23,1120.78 751.71,1120.78 752.18,1120.78 752.66,1120.78 753.13,1120.78 753.61,1120.78 754.08,1120.78 754.56,1120.77 755.03,1120.77 755.51,1120.77 755.98,1120.77 756.46,1120.77 756.93,1120.77 757.41,1120.77 757.88,1120.77 758.36,1120.77 758.83,1120.77 759.31,1120.77 759.78,1120.76 760.26,1120.76 760.73,1120.76 761.21,1120.76 761.68,1120.76 762.16,1120.76 762.63,1120.76 763.11,1120.76 763.58,1120.76 764.06,1120.76 764.54,1120.76 765.01,1120.75 765.49,1120.75 765.96,1120.75 766.44,1120.75 766.91,1120.75 767.39,1120.75 767.86,1120.75 768.34,1120.75 768.81,1120.75 769.29,1120.75 769.76,1120.75 770.24,1120.74 770.71,1120.74 771.19,1120.74 771.66,1120.74 772.14,1120.74 772.61,1120.74 773.09,1120.74 773.56,1120.74 774.04,1120.74 774.51,1120.74 774.99,1120.73 775.46,1120.73 775.94,1120.73 776.41,1120.73 776.89,1120.73 777.36,1120.73 777.84,1120.73 778.31,1120.73 778.79,1120.73 779.26,1120.73 779.74,1120.73 780.22,1120.72 780.69,1120.72 781.17,1120.72 781.64,1120.72 782.12,1120.72 782.59,1120.72 783.07,1120.72 783.54,1120.72 784.02,1120.72 784.49,1120.72 784.97,1120.72 785.44,1120.71 785.92,1120.71 786.39,1120.71 786.87,1120.71 787.34,1120.71 787.82,1120.71 788.29,1120.71 788.77,1120.71 789.24,1120.71 789.72,1120.71 790.19,1120.71 790.67,1120.7 791.14,1120.7 791.62,1120.7 792.09,1120.7 792.57,1120.7 793.04,1120.7" fill="none" stroke="#e8861f" stroke-width="2.0" stroke-linejoin="round" stroke-linecap="butt"/>
<polyline points="178.2,1120.7 178.68,1120.7 179.15,1120.7 179.63,1120.7 180.1,1120.7 180.58,1120.7 181.05,1120.7 181.53,1120.7 182,1120.7 182.48,1120.7 182.95,1120.7 183.43,1120.7 183.9,1120.7 184.38,1120.7 184.85,1120.7 185.33,1120.7 185.8,1120.7 186.28,1120.7 186.75,1120.7 187.23,1120.7 187.7,1120.7 188.18,1120.7 188.65,1120.7 189.13,1120.7 189.6,1120.7 190.08,1120.7 190.55,1120.7 191.03,1120.7 191.5,1120.7 191.98,1120.7 192.45,1120.7 192.93,1120.7 193.4,1120.7 193.88,1120.7 194.36,1120.7 194.83,1120.7 195.31,1120.7 195.78,1120.7 196.26,1120.7 196.73,1120.7 197.21,1120.7 197.68,1120.7 198.16,1120.7 198.63,1120.7 199.11,1120.7 199.58,1120.7 200.06,1120.7 200.53,1120.7 201.01,1120.7 201.48,1120.7 201.96,1120.7 202.43,1120.7 202.91,1120.7 203.38,1120.7 203.86,1120.7 204.33,1120.7 204.81,1120.7 205.28,1120.7 205.76,1120.7 206.23,1120.7 206.71,1120.7 207.18,1120.7 207.66,1120.7 208.13,1120.7 208.61,1120.7 209.08,1120.7 209.56,1120.7 210.04,1120.7 210.51,1120.7 210.99,1120.7 211.46,1120.7 211.94,1120.7 212.41,1120.7 212.89,1120.7 213.36,1120.7 213.84,1120.7 214.31,1120.7 214.79,1120.7 215.26,1120.7 215.74,1120.7 216.21,1120.7 216.69,1120.7 217.16,1120.7 217.64,1120.7 218.11,1120.7 218.59,1120.7 219.06,1120.7 219.54,1120.7 220.01,1120.7 220.49,1120.7 220.96,1120.7 221.44,1120.7 221.91,1120.7 222.39,1120.22 222.86,1119.75 223.34,1119.27 223.81,1118.56 224.29,1117.79 224.76,1117.02 225.24,1116.25 225.71,1115.47 226.19,1114.7 226.67,1113.93 227.14,1112.68 227.62,1111.43 228.09,1110.17 228.57,1108.92 229.04,1107.67 229.52,1106.41 229.99,1105.16 230.47,1102.97 230.94,1100.56 231.42,1098.14 231.89,1091.09 232.37,1084.04 232.84,1076.99 233.32,1069.94 233.79,1061.48 234.27,1052.08 234.74,1042.68 235.22,1033.28 235.69,1014.71 236.17,996.14 236.64,977.56 237.12,958.99 237.59,938.37 238.07,917.23 238.54,896.1 239.02,874.96 239.49,852.48 239.97,829.1 240.44,805.73 240.92,782.35 241.39,748.07 241.87,711.05 242.35,685.14 242.82,675.89 243.3,666.64 243.77,656.83 244.25,644.8 244.72,632.76 245.2,620.73 245.67,619.02 246.15,624.19 246.62,629.36 247.1,634.53 247.57,639.7 248.05,647.24 248.52,659.12 249,671 249.47,682.88 249.95,700.89 250.42,716.34 250.9,733.05 251.37,744.45 251.85,757.66 252.32,762.91 252.8,748.74 253.27,736.68 253.75,740.51 254.22,750.78 254.7,755.31 255.17,764.02 255.65,772.89 256.12,782.04 256.6,788.26 257.07,792.37 257.55,797.04 258.03,799.64 258.5,807.86 258.98,812.75 259.45,811.93 259.93,807.1 260.4,805.94 260.88,803.28 261.35,796.98 261.83,792.16 262.3,785.81 262.78,785.37 263.25,783.35 263.73,782.81 264.2,779.78 264.68,777.65 265.15,775.14 265.63,774.27 266.1,769.87 266.58,766.56 267.05,766.59 267.53,772.86 268,779.68 268.48,782.04 268.95,785.92 269.43,790.79 269.9,798.45 270.38,805.73 270.85,811.05 271.33,811.58 271.8,807.03 272.28,799.22 272.75,796.23 273.23,787.35 273.71,782.43 274.18,772.19 274.66,763.81 275.13,755.49 275.61,754.42 276.08,759.74 276.56,760.16 277.03,759.22 277.51,755.67 277.98,754.92 278.46,755.27 278.93,758.75 279.41,764.48 279.88,766.38 280.36,767.97 280.83,768.42 281.31,765.2 281.78,762.59 282.26,758.19 282.73,761.05 283.21,765.07 283.68,767.73 284.16,769.99 284.63,770.33 285.11,776.66 285.58,781.47 286.06,787.53 286.53,790.97 287.01,793.14 287.48,796.38 287.96,797.89 288.43,801.26 288.91,800.12 289.39,806.69 289.86,809.37 290.34,814.12 290.81,811.02 291.29,814.22 291.76,814.09 292.24,812.04 292.71,808.97 293.19,807.29 293.66,808.28 294.14,805.43 294.61,807.43 295.09,815.1 295.56,822.66 296.04,830.39 296.51,836.6 296.99,840.16 297.46,829.25 297.94,818.34 298.41,814.11 298.89,812.64 299.36,805.48 299.84,797.91 300.31,790.91 300.79,787.6 301.26,782.49 301.74,785.48 302.21,788.73 302.69,792.71 303.16,800.11 303.64,804.46 304.11,810.26 304.59,810.92 305.07,812.34 305.54,807.88 306.02,806.22 306.49,802.78 306.97,796.1 307.44,790.09 307.92,785.1 308.39,783.18 308.87,781.48 309.34,781.59 309.82,778.94 310.29,776.15 310.77,768.43 311.24,772.58 311.72,774.83 312.19,777.17 312.67,775.24 313.14,776.12 313.62,778.73 314.09,781.64 314.57,786.63 315.04,790.76 315.52,799.9 315.99,798 316.47,790.01 316.94,779.68 317.42,775.5 317.89,778.84 318.37,787.63 318.84,796.79 319.32,804.93 319.79,812.8 320.27,816.08 320.75,812.42 321.22,810.23 321.7,811.39 322.17,811.03 322.65,805.85 323.12,801.63 323.6,798.07 324.07,802.36 324.55,806.52 325.02,808.17 325.5,807.53 325.97,807.74 326.45,809.44 326.92,812.72 327.4,813.3 327.87,817.03 328.35,818.48 328.82,821.5 329.3,815.56 329.77,814.72 330.25,810.56 330.72,807.74 331.2,805.22 331.67,805.47 332.15,805.99 332.62,803.72 333.1,802.64 333.57,800.44 334.05,795.48 334.52,793.92 335,794.73 335.47,799.59 335.95,798.3 336.42,799.75 336.9,799.53 337.38,797.59 337.85,796.7 338.33,792.68 338.8,791.95 339.28,789.19 339.75,788.03 340.23,785.25 340.7,783.96 341.18,783.84 341.65,787.37 342.13,784.91 342.6,779.34 343.08,773.37 343.55,772.98 344.03,774.87 344.5,773.91 344.98,766.28 345.45,759.64 345.93,752.88 346.4,747.32 346.88,741.94 347.35,736.83 347.83,740.78 348.3,745.6 348.78,749.87 349.25,752.23 349.73,756.27 350.2,762.22 350.68,773.42 351.15,778.95 351.63,785.56 352.1,788.11 352.58,790.33 353.06,788.85 353.53,789.72 354.01,797.07 354.48,801.91 354.96,805.81 355.43,804.85 355.91,803.41 356.38,804.79 356.86,805.76 357.33,810.14 357.81,809.17 358.28,806.73 358.76,805.27 359.23,803.55 359.71,803.78 360.18,798.52 360.66,795.49 361.13,790.29 361.61,792.02 362.08,794.61 362.56,798.33 363.03,799.85 363.51,802.95 363.98,806.59 364.46,810.04 364.93,809.79 365.41,809.57 365.88,808.43 366.36,809.74 366.83,814.01 367.31,817.37 367.78,820.43 368.26,818.5 368.74,816.41 369.21,811.95 369.69,809.25 370.16,807.66 370.64,807.96 371.11,803.95 371.59,798.1 372.06,796.73 372.54,792.8 373.01,789.57 373.49,781.07 373.96,783.72 374.44,785.71 374.91,790.36 375.39,785.89 375.86,786.17 376.34,782.05 376.81,787.91 377.29,788.91 377.76,796.96 378.24,799.05 378.71,800.19 379.19,802.02 379.66,802.09 380.14,805.72 380.61,807.9 381.09,813.1 381.56,816.98 382.04,817.83 382.51,817.49 382.99,816.21 383.46,814.74 383.94,813.67 384.42,812.55 384.89,810.22 385.37,805.09 385.84,803.59 386.32,801.61 386.79,802.3 387.27,799.46 387.74,799 388.22,800.52 388.69,798.07 389.17,802.58 389.64,802.79 390.12,807.45 390.59,809.15 391.07,810.55 391.54,812.17 392.02,811.62 392.49,814.43 392.97,813.4 393.44,811.58 393.92,808.4 394.39,801.94 394.87,800.29 395.34,797.43 395.82,798.96 396.29,793.31 396.77,792.07 397.24,789.2 397.72,787.56 398.19,784.65 398.67,784.97 399.14,787.5 399.62,791.42 400.1,791.54 400.57,789.85 401.05,790.75 401.52,790.85 402,791.3 402.47,792 402.95,791.6 403.42,799.46 403.9,805.46 404.37,814.52 404.85,809.5 405.32,803.24 405.8,794.97 406.27,793.42 406.75,787.86 407.22,783.43 407.7,775.4 408.17,774.19 408.65,777.23 409.12,782.48 409.6,783.3 410.07,779.72 410.55,776.93 411.02,776.62 411.5,780.55 411.97,782.86 412.45,779.19 412.92,781.93 413.4,779.5 413.87,781.03 414.35,771.86 414.82,771.94 415.3,767.96 415.77,769.63 416.25,766.82 416.73,766.85 417.2,766.37 417.68,768.85 418.15,776.12 418.63,784.17 419.1,787.61 419.58,789.65 420.05,790.04 420.53,794.85 421,802.16 421.48,807.6 421.95,812.97 422.43,814.35 422.9,816.54 423.38,822.17 423.85,824.01 424.33,822.29 424.8,818.1 425.28,813.07 425.75,808.07 426.23,803.82 426.7,796.55 427.18,794.5 427.65,793.98 428.13,796.98 428.6,799.69 429.08,803.38 429.55,805.14 430.03,806.5 430.5,805.38 430.98,802.37 431.45,801.14 431.93,798.81 432.41,798.46 432.88,794.58 433.36,792.58 433.83,791.21 434.31,791.61 434.78,792.76 435.26,791.42 435.73,794.19 436.21,796.98 436.68,800.26 437.16,801.9 437.63,804.11 438.11,804.2 438.58,807.68 439.06,808.18 439.53,808.88 440.01,807.88 440.48,809.81 440.96,809.91 441.43,813.28 441.91,812.55 442.38,813.87 442.86,811.36 443.33,812.28 443.81,814.59 444.28,815.29 444.76,810.28 445.23,803.87 445.71,798.51 446.18,802.15 446.66,802.28 447.13,800.97 447.61,797.02 448.09,797.85 448.56,802.78 449.04,803.21 449.51,804.17 449.99,806.14 450.46,808.93 450.94,813.27 451.41,813.23 451.89,817.01 452.36,814.39 452.84,814.88 453.31,815.41 453.79,816.66 454.26,815.39 454.74,814.48 455.21,815.48 455.69,817.93 456.16,816.55 456.64,813.05 457.11,807.87 457.59,804.13 458.06,800.79 458.54,800.4 459.01,798.12 459.49,795.96 459.96,791.05 460.44,786.53 460.91,784.48 461.39,783.38 461.86,787.87 462.34,795.94 462.81,803.89 463.29,804.72 463.77,802.28 464.24,798.15 464.72,801.18 465.19,800.87 465.67,801.58 466.14,799.33 466.62,801.7 467.09,800.42 467.57,796.61 468.04,791.32 468.52,790.94 468.99,793.09 469.47,794 469.94,799.2 470.42,800.93 470.89,802.84 471.37,798.56 471.84,797.01 472.32,797.55 472.79,799.72 473.27,803.63 473.74,805.77 474.22,808.75 474.69,808.46 475.17,805.22 475.64,797.95 476.12,795.11 476.59,793.69 477.07,793.62 477.54,788.04 478.02,784.97 478.49,783.67 478.97,788.53 479.45,789.74 479.92,793.52 480.4,791.5 480.87,790.37 481.35,793.54 481.82,797.85 482.3,801.14 482.77,801.79 483.25,804.91 483.72,805.81 484.2,805.95 484.67,804.63 485.15,809.28 485.62,807.81 486.1,808.1 486.57,804.49 487.05,806.83 487.52,806.91 488,807.47 488.47,806.17 488.95,803.9 489.42,806.8 489.9,810.16 490.37,814.16 490.85,818.18 491.32,818.06 491.8,822.24 492.27,825.37 492.75,827.86 493.22,825.99 493.7,824.85 494.17,824.47 494.65,823.82 495.13,820.53 495.6,816.78 496.08,814.73 496.55,813.05 497.03,808 497.5,803.68 497.98,802.59 498.45,801.71 498.93,796.48 499.4,798.46 499.88,799.75 500.35,804 500.83,805.16 501.3,805.82 501.78,803.98 502.25,805.17 502.73,803.86 503.2,805.08 503.68,800.3 504.15,798.38 504.63,796.54 505.1,797.69 505.58,796.66 506.05,793.07 506.53,796.36 507,798.93 507.48,801.94 507.95,796.15 508.43,793.96 508.9,794.59 509.38,795.96 509.85,792.38 510.33,790.88 510.81,790.99 511.28,790.71 511.76,787.77 512.23,784.31 512.71,787.32 513.18,786.9 513.66,787.15 514.13,787.34 514.61,791.45 515.08,799.77 515.56,801.66 516.03,805.15 516.51,802.99 516.98,804.92 517.46,807.18 517.93,812.78 518.41,815.32 518.88,818 519.36,812.75 519.83,810.86 520.31,806.66 520.78,806.48 521.26,799.87 521.73,795.33 522.21,786.01 522.68,781.19 523.16,778.05 523.63,779.45 524.11,782.15 524.58,784.91 525.06,783.39 525.53,782.42 526.01,784.44 526.48,783.69 526.96,787.06 527.44,783.85 527.91,785.29 528.39,783.95 528.86,785.25 529.34,787.1 529.81,788.87 530.29,792.87 530.76,793.27 531.24,790.38 531.71,785.45 532.19,784.43 532.66,787.62 533.14,793.39 533.61,793.83 534.09,795.5 534.56,794.86 535.04,798.17 535.51,798.3 535.99,799.3 536.46,799.33 536.94,801.7 537.41,801.97 537.89,798.35 538.36,797.02 538.84,797.17 539.31,800.51 539.79,799.57 540.26,801.43 540.74,803.31 541.21,803.74 541.69,802.19 542.16,802.43 542.64,802.14 543.12,804.54 543.59,805.4 544.07,809.7 544.54,806.82 545.02,809.22 545.49,806.78 545.97,807.5 546.44,800.38 546.92,795.53 547.39,789.58 547.87,790.68 548.34,787.74 548.82,787.9 549.29,785.1 549.77,785.81 550.24,787.23 550.72,789.97 551.19,791.87 551.67,793.2 552.14,791.14 552.62,790.25 553.09,787.54 553.57,784.11 554.04,785.44 554.52,788.91 554.99,793.24 555.47,794.84 555.94,794.69 556.42,793.05 556.89,792.97 557.37,794.63 557.84,794.57 558.32,794.05 558.8,789.6 559.27,789.92 559.75,787.98 560.22,787.84 560.7,785.25 561.17,784.92 561.65,783.64 562.12,784.36 562.6,786.87 563.07,787.13 563.55,788.04 564.02,786.3 564.5,789.39 564.97,787.25 565.45,788.5 565.92,789.32 566.4,796.04 566.87,797.76 567.35,796.93 567.82,796.33 568.3,796.76 568.77,798.77 569.25,797.8 569.72,800.84 570.2,801.48 570.67,802.42 571.15,798.51 571.62,801.81 572.1,805.43 572.57,809.44 573.05,804.64 573.52,804.04 574,801.67 574.48,801.28 574.95,799.23 575.43,798.27 575.9,797.26 576.38,797.39 576.85,796.45 577.33,795.71 577.8,792.11 578.28,790.19 578.75,792.71 579.23,793.95 579.7,792.5 580.18,788.77 580.65,788.33 581.13,791.39 581.6,791.47 582.08,792.53 582.55,793.22 583.03,795.86 583.5,792.64 583.98,794.94 584.45,796.37 584.93,804.39 585.4,802.76 585.88,805.11 586.35,803.93 586.83,800.68 587.3,797.73 587.78,797.68 588.25,801.39 588.73,801.51 589.2,797.98 589.68,798.91 590.16,802.77 590.63,805.65 591.11,805.15 591.58,802.37 592.06,800.03 592.53,799.88 593.01,799.04 593.48,803.49 593.96,802.91 594.43,801.1 594.91,798.28 595.38,798.9 595.86,801.6 596.33,799.29 596.81,800.69 597.28,800.55 597.76,802.2 598.23,798.78 598.71,798.73 599.18,798.4 599.66,799.53 600.13,798 600.61,798.15 601.08,800.15 601.56,801.34 602.03,800.58 602.51,801.23 602.98,802.56 603.46,803.87 603.93,804.99 604.41,805.22 604.88,809.09 605.36,806.31 605.84,803.07 606.31,795.16 606.79,794.76 607.26,794.72 607.74,795.25 608.21,792.01 608.69,787.95 609.16,787.7 609.64,783.39 610.11,783.85 610.59,781 611.06,784.24 611.54,787.06 612.01,790.74 612.49,791.57 612.96,792.14 613.44,793.55 613.91,797.44 614.39,802.88 614.86,803.94 615.34,801.95 615.81,796.66 616.29,796.65 616.76,794.65 617.24,794.25 617.71,794.14 618.19,794.78 618.66,790.57 619.14,790.3 619.61,787.04 620.09,789.77 620.56,788.93 621.04,788.46 621.51,787.19 621.99,787.17 622.47,789.55 622.94,787.46 623.42,782.88 623.89,782.64 624.37,783.17 624.84,783.63 625.32,785.14 625.79,788.76 626.27,793.55 626.74,796.9 627.22,801.86 627.69,805.22 628.17,807.8 628.64,811.45 629.12,815.81 629.59,817.51 630.07,819.72 630.54,816.86 631.02,815.12 631.49,812.91 631.97,808.98 632.44,810.82 632.92,808.87 633.39,811.67 633.87,805.55 634.34,802.45 634.82,803.64 635.29,806.83 635.77,807 636.24,800.77 636.72,796.34 637.19,796.16 637.67,795.3 638.15,794.02 638.62,792.6 639.1,790.21 639.57,793.71 640.05,791.08 640.52,793.14 641,786.69 641.47,789.29 641.95,790.19 642.42,792.32 642.9,794.61 643.37,795.79 643.85,800.22 644.32,799.86 644.8,796.9 645.27,790.85 645.75,789.39 646.22,786.79 646.7,786.83 647.17,785.08 647.65,786.04 648.12,785.8 648.6,789.93 649.07,791.45 649.55,792.97 650.02,794.49 650.5,796.01 650.97,797.55 651.45,799.92 651.92,802.3 652.4,804.67 652.87,807.05 653.35,809.43 653.83,811.8 654.3,812.06 654.78,812.28 655.25,812.5 655.73,812.72 656.2,812.94 656.68,813.16 657.15,813.38 657.63,813.6 658.1,814.47 658.58,816.18 659.05,817.89 659.53,819.6 660,821.31 660.48,823.02 660.95,824.73 661.43,826.44 661.9,828.16 662.38,829.87 662.85,831.58 663.33,833.94 663.8,836.79 664.28,839.64 664.75,842.49 665.23,845.34 665.7,848.19 666.18,851.04 666.65,853.89 667.13,856.74 667.6,859.59 668.08,862.44 668.55,865.79 669.03,869.36 669.51,872.92 669.98,876.48 670.46,880.05 670.93,883.61 671.41,887.17 671.88,890.74 672.36,894.3 672.83,896.68 673.31,899.05 673.78,901.43 674.26,903.8 674.73,906.18 675.21,908.56 675.68,910.93 676.16,913.31 676.63,915.68 677.11,918.06 677.58,920.43 678.06,922.81 678.53,925.19 679.01,928.02 679.48,930.87 679.96,933.72 680.43,936.57 680.91,939.42 681.38,942.27 681.86,945.12 682.33,947.97 682.81,950.82 683.28,953.67 683.76,956.52 684.23,959.38 684.71,962.23 685.19,964.21 685.66,966.11 686.14,968.01 686.61,969.91 687.09,971.81 687.56,973.71 688.04,975.61 688.51,977.52 688.99,979.42 689.46,981.32 689.94,983.22 690.41,985.12 690.89,987.02 691.36,988.92 691.84,990.82 692.31,992.94 692.79,995.16 693.26,997.37 693.74,999.59 694.21,1001.81 694.69,1004.03 695.16,1006.24 695.64,1008.46 696.11,1010.68 696.59,1012.9 697.06,1015.11 697.54,1017.33 698.01,1019.55 698.49,1021.19 698.96,1022.52 699.44,1023.85 699.91,1025.18 700.39,1026.51 700.87,1027.84 701.34,1029.17 701.82,1030.5 702.29,1031.83 702.77,1033.17 703.24,1034.5 703.72,1035.83 704.19,1037.16 704.67,1038.49 705.14,1039.82 705.62,1041.15 706.09,1042.48 706.57,1043.81 707.04,1045.14 707.52,1046.47 707.99,1047.8 708.47,1049.13 708.94,1050.12 709.42,1051.07 709.89,1052.02 710.37,1052.97 710.84,1053.92 711.32,1054.87 711.79,1055.82 712.27,1056.77 712.74,1057.72 713.22,1058.67 713.69,1059.62 714.17,1060.57 714.64,1061.52 715.12,1062.47 715.59,1063.42 716.07,1064.37 716.54,1065.32 717.02,1066.27 717.5,1067.22 717.97,1068.17 718.45,1069.12 718.92,1070.07 719.4,1071.02 719.87,1071.97 720.35,1072.92 720.82,1073.87 721.3,1074.75 721.77,1075.6 722.25,1076.46 722.72,1077.31 723.2,1078.17 723.67,1079.02 724.15,1079.88 724.62,1080.73 725.1,1081.59 725.57,1082.44 726.05,1083.3 726.52,1084.15 727,1085.01 727.47,1085.87 727.95,1086.72 728.42,1087.58 728.9,1088.43 729.37,1089.29 729.85,1090.14 730.32,1091 730.8,1091.85 731.27,1092.67 731.75,1093.05 732.22,1093.42 732.7,1093.79 733.18,1094.17 733.65,1094.54 734.13,1094.91 734.6,1095.29 735.08,1095.66 735.55,1096.03 736.03,1096.41 736.5,1096.78 736.98,1097.15 737.45,1097.53 737.93,1097.9 738.4,1098.27 738.88,1098.65 739.35,1099.02 739.83,1099.39 740.3,1099.77 740.78,1100.14 741.25,1100.51 741.73,1100.89 742.2,1101.26 742.68,1101.63 743.15,1102.01 743.63,1102.38 744.1,1102.75 744.58,1103.13 745.05,1103.5 745.53,1103.87 746,1104.1 746.48,1104.24 746.95,1104.38 747.43,1104.53 747.9,1104.67 748.38,1104.81 748.86,1104.95 749.33,1105.1 749.81,1105.24 750.28,1105.38 750.76,1105.52 751.23,1105.67 751.71,1105.81 752.18,1105.95 752.66,1106.09 753.13,1106.24 753.61,1106.38 754.08,1106.52 754.56,1106.66 755.03,1106.81 755.51,1106.95 755.98,1107.09 756.46,1107.32 756.93,1107.56 757.41,1107.79 757.88,1108.03 758.36,1108.27 758.83,1108.51 759.31,1108.75 759.78,1108.98 760.26,1109.22 760.73,1109.46 761.21,1109.7 761.68,1109.93 762.16,1110.17 762.63,1110.41 763.11,1110.65 763.58,1110.88 764.06,1111.12 764.54,1111.36 765.01,1111.6 765.49,1111.83 765.96,1112.07 766.44,1112.31 766.91,1112.55 767.39,1112.78 767.86,1113.02 768.34,1113.26 768.81,1113.42 769.29,1113.56 769.76,1113.71 770.24,1113.85 770.71,1113.99 771.19,1114.13 771.66,1114.28 772.14,1114.42 772.61,1114.56 773.09,1114.7 773.56,1114.85 774.04,1114.99 774.51,1115.13 774.99,1115.27 775.46,1115.42 775.94,1115.56 776.41,1115.7 776.89,1115.84 777.36,1115.99 777.84,1116.13 778.31,1116.27 778.79,1116.41 779.26,1116.52 779.74,1116.62 780.22,1116.72 780.69,1116.83 781.17,1116.93 781.64,1117.04 782.12,1117.14 782.59,1117.24 783.07,1117.35 783.54,1117.45 784.02,1117.56 784.49,1117.66 784.97,1117.76 785.44,1117.87 785.92,1117.97 786.39,1118.08 786.87,1118.18 787.34,1118.28 787.82,1118.39 788.29,1118.49 788.77,1118.6 789.24,1118.7 789.72,1118.8 790.19,1118.91 790.67,1119.01 791.14,1119.12 791.62,1119.22 792.09,1119.32 792.57,1119.43 793.04,1119.53" fill="none" stroke="#2d8a3a" stroke-width="2.0" stroke-linejoin="round" stroke-linecap="butt"/>
<polyline points="147.9,782.3 823.8,782.3" fill="none" stroke="#000" stroke-width="2.4" stroke-linejoin="round" stroke-linecap="butt" stroke-dasharray="8.6,4.4"/>
<polyline points="1014.3,991.95 1015.25,927.54 1016.2,873.87 1017.15,841.66 1018.1,790.13 1019.05,766.52 1020,734.31 1020.95,777.25 1021.9,820.19 1022.85,882.45 1023.8,938.28 1024.75,970.48 1025.7,1002.69 1026.65,1015.57 1027.6,940.42 1028.55,927.54 1029.5,957.63 1030.46,934.97 1031.41,882.63 1032.36,935.25 1033.31,882.15 1034.26,891.17 1035.21,868.75 1036.16,885.29 1037.11,875.28 1038.06,858.26 1039.01,825.38 1039.96,855.24 1040.91,863.28 1041.86,858.77 1042.81,796.88 1043.76,825.87 1044.71,830.8 1045.66,792.51 1046.61,768.93 1047.56,777.15 1048.51,798.42 1049.46,774.48 1050.41,775.87 1051.36,784.39 1052.31,715.68 1053.26,740.73 1054.21,754.05 1055.16,698.15 1056.11,684.12 1057.06,654.87 1058.01,716.08 1058.96,712.57 1059.91,683.44 1060.86,654.87 1061.82,645.53 1062.77,632.23 1063.72,628.31 1064.67,657.34 1065.62,614.72 1066.57,708.55 1067.52,694.59 1068.47,680.63 1069.42,707.47 1070.37,734.31 1071.32,755.78 1072.27,777.25 1073.22,798.72 1074.17,820.19 1075.12,833.07 1076.07,872.79 1077.02,912.51 1077.97,925.39 1078.92,938.28 1079.87,946.86 1080.82,955.45 1081.77,1016.64 1082.72,1077.83 1083.67,1096.72 1084.62,1013.42 1085.57,1013.42 1086.52,980.18 1087.47,1058.51 1088.42,1041.26 1089.37,1006.16 1090.32,938.77 1091.27,1021.9 1092.22,1008.84 1093.17,931.96 1094.13,974.24 1095.08,986.6 1096.03,979.68 1096.98,971.85 1097.93,992.76 1098.88,1007.29 1099.83,962.13 1100.78,971.43 1101.73,979.66 1102.68,959.17 1103.63,978.03 1104.58,911.99 1105.53,998.84 1106.48,977.83 1107.43,980.89 1108.38,987.42 1109.33,976.01 1110.28,995.82 1111.23,961.03 1112.18,952.81 1113.13,1008.19 1114.08,981.62 1115.03,992.35 1115.98,1017.06 1116.93,948.04 1117.88,983.32 1118.83,1005.16 1119.78,971.54 1120.73,998.69 1121.68,947.18 1122.63,997.19 1123.58,1035.37 1124.53,998.74 1125.49,987.71 1126.44,981.55 1127.39,946.5 1128.34,970.14 1129.29,988.06 1130.24,1048.35 1131.19,1003.15 1132.14,900.13 1133.09,981.95 1134.04,970.65 1134.99,1024.42 1135.94,1033.79 1136.89,956.87 1137.84,976.44 1138.79,989.84 1139.74,989.28 1140.69,1014.36 1141.64,1001.28 1142.59,1039.67 1143.54,957.98 1144.49,981.67 1145.44,1007.16 1146.39,967.55 1147.34,998.66 1148.29,1021.11 1149.24,976.04 1150.19,949.77 1151.14,1037.12 1152.09,962.02 1153.04,999.06 1153.99,1012.91 1154.94,1044.63 1155.89,990.65 1156.85,968.66 1157.8,980.6 1158.75,956.83 1159.7,996.33 1160.65,989.18 1161.6,992.99 1162.55,920.43 1163.5,939.6 1164.45,987.66 1165.4,982.96 1166.35,989.17 1167.3,967.49 1168.25,1028.14 1169.2,1018.21 1170.15,984.39 1171.1,993.8 1172.05,958.32 1173,967.97 1173.95,978.58 1174.9,973.08 1175.85,971.31 1176.8,964.98 1177.75,944.42 1178.7,1002.81 1179.65,974.99 1180.6,1003.52 1181.55,982.63 1182.5,964.69 1183.45,951.66 1184.4,966.94 1185.35,1029.11 1186.3,986.47 1187.25,1000.96 1188.2,907.19 1189.16,1003.17 1190.11,993.49 1191.06,986.55 1192.01,1018.72 1192.96,955.91 1193.91,974.66 1194.86,1001.08 1195.81,980.5 1196.76,1013.8 1197.71,975.92 1198.66,994.28 1199.61,1026.41 1200.56,1006.75 1201.51,978.35 1202.46,974.73 1203.41,988.15 1204.36,974.44 1205.31,986.7 1206.26,1004.28 1207.21,988.64 1208.16,984.63 1209.11,949.66 1210.06,1006.28 1211.01,1011.43 1211.96,978.17 1212.91,934.61 1213.86,950.97 1214.81,971.54 1215.76,1015.64 1216.71,963.96 1217.66,972.54 1218.61,1002.12 1219.56,981.76 1220.52,1020.59 1221.47,964.51 1222.42,970.59 1223.37,964.32 1224.32,967.86 1225.27,991.26 1226.22,965.67 1227.17,992.43 1228.12,1002.51 1229.07,984.74 1230.02,980.6 1230.97,990.03 1231.92,976.5 1232.87,976.65 1233.82,992.95 1234.77,975.79 1235.72,986.2 1236.67,969.89 1237.62,989.66 1238.57,965.3 1239.52,983.66 1240.47,978.67 1241.42,973.46 1242.37,979.94 1243.32,991.57 1244.27,927.71 1245.22,1007.86 1246.17,987.69 1247.12,978.87 1248.07,1027.61 1249.02,999.83 1249.97,965.61 1250.92,966.85 1251.88,975.35 1252.83,954.03 1253.78,968.94 1254.73,988.96 1255.68,975.04 1256.63,986.84 1257.58,969.4 1258.53,984.83 1259.48,999.65 1260.43,958.13 1261.38,972.92 1262.33,969.84 1263.28,978.58 1264.23,967.3 1265.18,982.37 1266.13,978.38 1267.08,1013.62 1268.03,978.78 1268.98,964.94 1269.93,972.27 1270.88,965.95 1271.83,980.76 1272.78,958.06 1273.73,1004.61 1274.68,958.88 1275.63,985.29 1276.58,1007.2 1277.53,976.41 1278.48,982.12 1279.43,983.05 1280.38,961.83 1281.33,1000.55 1282.28,976.56 1283.23,983.58 1284.19,979.78 1285.14,980.69 1286.09,1000.79 1287.04,980.31 1287.99,961.06 1288.94,996.97 1289.89,1037.95 1290.84,1010.99 1291.79,981.96 1292.74,935.84 1293.69,1017.2 1294.64,920.6 1295.59,979.58 1296.54,1002.04 1297.49,983.36 1298.44,993.83 1299.39,972.39 1300.34,979.43 1301.29,988.89 1302.24,990.65 1303.19,961.18 1304.14,969.52 1305.09,982.73 1306.04,983.8 1306.99,971.3 1307.94,939.26 1308.89,1007.54 1309.84,997.41 1310.79,985.42 1311.74,980.52 1312.69,1008.9 1313.64,1013.02 1314.59,992.61 1315.55,984.48 1316.5,971.41 1317.45,977.2 1318.4,1021.35 1319.35,1015.1 1320.3,982.2 1321.25,961.09 1322.2,955.65 1323.15,985.22 1324.1,959.74 1325.05,953.26 1326,983.69 1326.95,971.28 1327.9,985.18 1328.85,997.28 1329.8,978.52 1330.75,1005.21 1331.7,975.3 1332.65,967.45 1333.6,956.24 1334.55,982.32 1335.5,1000.75 1336.45,958.36 1337.4,962.31 1338.35,943.39 1339.3,977.97 1340.25,975.02 1341.2,984.79 1342.15,994.44 1343.1,988.12 1344.05,972.97 1345,986.63 1345.95,974.34 1346.9,980.78 1347.86,982.28 1348.81,944.29 1349.76,995.53 1350.71,981.19 1351.66,995.99 1352.61,953.34 1353.56,981.16 1354.51,986.25 1355.46,995.17 1356.41,978.13 1357.36,983.82 1358.31,998.75 1359.26,1016.54 1360.21,984.06 1361.16,978.51 1362.11,980.38 1363.06,960.09 1364.01,958.55 1364.96,954.4 1365.91,969.15 1366.86,981.48 1367.81,980.27 1368.76,983.82 1369.71,983.75 1370.66,1012.43 1371.61,969.38 1372.56,989.86 1373.51,1016.61 1374.46,981.78 1375.41,973.74 1376.36,982.63 1377.31,984.87 1378.26,976.17 1379.22,994.85 1380.17,1027.83 1381.12,978.4 1382.07,980.15 1383.02,964.75 1383.97,983.2 1384.92,970.54 1385.87,1021.58 1386.82,1016.37 1387.77,978.28 1388.72,990.56 1389.67,1005.21 1390.62,997.41 1391.57,984.43 1392.52,985.69 1393.47,979.33 1394.42,963.13 1395.37,984.69 1396.32,992.84 1397.27,978.96 1398.22,1034.21 1399.17,984.06 1400.12,986.33 1401.07,983.98 1402.02,1007.77 1402.97,979.64 1403.92,977.66 1404.87,972.96 1405.82,952.42 1406.77,984.97 1407.72,976.67 1408.67,982.42 1409.62,990.69 1410.58,963.74 1411.53,973.28 1412.48,956.32 1413.43,969.31 1414.38,960.6 1415.33,996.41 1416.28,1020.03 1417.23,991.41 1418.18,983.19 1419.13,975.77 1420.08,982.5 1421.03,980.73 1421.98,972.84 1422.93,1002.7 1423.88,976.17 1424.83,1006.68 1425.78,988.72 1426.73,974.61 1427.68,976.07 1428.63,983.34 1429.58,986.8 1430.53,969.49 1431.48,987.53 1432.43,1010.95 1433.38,988.63 1434.33,1014.94 1435.28,970.69 1436.23,996.08 1437.18,949.66 1438.13,990.12 1439.08,986.27 1440.03,979.11 1440.98,986.17 1441.93,983.98 1442.89,997.48 1443.84,983.71 1444.79,1012.14 1445.74,989.42 1446.69,963.44 1447.64,987.05 1448.59,987.4 1449.54,976.56 1450.49,966.28 1451.44,986.46 1452.39,984 1453.34,975.44 1454.29,972.25 1455.24,978.52 1456.19,991.44 1457.14,991.32 1458.09,973.89 1459.04,975.82 1459.99,965.52 1460.94,973.02 1461.89,982.83 1462.84,994.15 1463.79,966.25 1464.74,976.3 1465.69,979.54 1466.64,976.76 1467.59,983.69 1468.54,984.79 1469.49,979.59 1470.44,981.5 1471.39,975.99 1472.34,961.53 1473.29,969.89 1474.25,983.59 1475.2,983.96 1476.15,963.06 1477.1,983.41 1478.05,972.59 1479,996.92 1479.95,982.15 1480.9,980.89 1481.85,972.3 1482.8,968.22 1483.75,992.11 1484.7,978.76 1485.65,978.48 1486.6,992.08 1487.55,971.23 1488.5,980.19 1489.45,991.95 1490.4,992.95 1491.35,993.92 1492.3,994.85 1493.25,995.76 1494.2,996.63 1495.15,997.48 1496.1,998.29 1497.05,999.09 1498,999.85 1498.95,1000.59 1499.9,1001.31 1500.85,1002 1501.8,1002.67 1502.75,1003.32 1503.7,1003.95 1504.65,1004.55 1505.61,1005.14 1506.56,1005.71 1507.51,1006.25 1508.46,1006.78 1509.41,1007.3 1510.36,1007.79 1511.31,1008.27 1512.26,1008.74 1513.21,1009.19 1514.16,1009.62 1515.11,1010.04 1516.06,1010.45 1517.01,1010.84 1517.96,1011.22 1518.91,1011.59 1519.86,1011.95 1520.81,1012.29 1521.76,1012.62 1522.71,1012.94 1523.66,1013.25 1524.61,1013.56 1525.56,1013.85 1526.51,1014.13 1527.46,1014.4 1528.41,1014.66 1529.36,1014.92 1530.31,1015.17 1531.26,1015.4 1532.21,1015.63 1533.16,1015.86 1534.11,1016.07 1535.06,1016.28 1536.01,1016.48 1536.96,1016.68 1537.92,1016.87 1538.87,1017.05 1539.82,1017.23 1540.77,1017.4 1541.72,1017.56 1542.67,1017.72 1543.62,1017.88 1544.57,1018.03 1545.52,1018.17 1546.47,1018.31 1547.42,1018.45 1548.37,1018.58 1549.32,1018.7 1550.27,1018.83 1551.22,1018.94 1552.17,1019.06 1553.12,1019.17 1554.07,1019.28 1555.02,1019.38 1555.97,1019.48 1556.92,1019.58 1557.87,1019.67 1558.82,1019.76 1559.77,1019.85 1560.72,1019.93 1561.67,1020.02 1562.62,1020.1 1563.57,1020.17 1564.52,1020.25 1565.47,1020.32 1566.42,1020.39 1567.37,1020.46 1568.32,1020.52 1569.28,1020.58 1570.23,1020.64 1571.18,1020.7 1572.13,1020.76 1573.08,1020.81 1574.03,1020.87 1574.98,1020.92 1575.93,1020.97 1576.88,1021.02 1577.83,1021.06 1578.78,1021.11 1579.73,1021.15 1580.68,1021.19 1581.63,1021.24 1582.58,1021.27 1583.53,1021.31 1584.48,1021.35 1585.43,1021.39 1586.38,1021.42 1587.33,1021.45 1588.28,1021.49 1589.23,1021.52 1590.18,1021.55 1591.13,1021.58 1592.08,1021.6 1593.03,1021.63 1593.98,1021.66 1594.93,1021.68 1595.88,1021.71 1596.83,1021.73 1597.78,1021.76 1598.73,1021.78 1599.68,1021.8 1600.64,1021.82 1601.59,1021.84 1602.54,1021.86 1603.49,1021.88 1604.44,1021.9 1605.39,1021.92 1606.34,1021.93 1607.29,1021.95 1608.24,1021.96 1609.19,1021.98 1610.14,1022 1611.09,1022.01 1612.04,1022.02 1612.99,1022.04 1613.94,1022.05 1614.89,1022.06 1615.84,1022.08 1616.79,1022.09 1617.74,1022.1 1618.69,1022.11 1619.64,1022.12 1620.59,1022.13 1621.54,1022.14 1622.49,1022.15 1623.44,1022.16 1624.39,1022.17 1625.34,1022.18 1626.29,1022.19 1627.24,1022.19 1628.19,1022.2 1629.14,1022.21" fill="none" stroke="#cfcfcf" stroke-width="2.0" stroke-linejoin="miter" stroke-linecap="butt"/>
<polyline points="1014.3,991.95 1014.76,990.23 1015.22,988.5 1015.67,986.76 1016.13,985 1016.59,983.23 1017.05,981.44 1017.51,979.64 1017.96,977.83 1018.42,976 1018.88,974.15 1019.34,972.29 1019.79,970.42 1020.25,968.53 1020.71,966.62 1021.17,964.71 1021.63,962.77 1022.08,960.82 1022.54,958.85 1023,956.87 1023.46,954.88 1023.92,952.86 1024.37,950.83 1024.83,948.79 1025.29,946.73 1025.75,944.65 1026.2,942.55 1026.66,940.44 1027.12,938.31 1027.58,936.17 1028.04,934 1028.49,931.82 1028.95,929.63 1029.41,927.41 1029.87,925.18 1030.33,922.93 1030.78,920.66 1031.24,918.37 1031.7,916.07 1032.16,913.74 1032.61,911.4 1033.07,909.04 1033.53,906.66 1033.99,904.26 1034.45,901.84 1034.9,899.41 1035.36,896.95 1035.82,894.47 1036.28,891.98 1036.74,889.46 1037.19,886.92 1037.65,884.37 1038.11,881.79 1038.57,879.19 1039.03,876.57 1039.48,873.93 1039.94,871.27 1040.4,868.59 1040.86,865.89 1041.31,863.16 1041.77,860.42 1042.23,857.65 1042.69,854.86 1043.15,852.05 1043.6,849.21 1044.06,846.35 1044.52,843.47 1044.98,840.57 1045.44,837.64 1045.89,834.69 1046.35,831.71 1046.81,828.72 1047.27,825.69 1047.72,822.65 1048.18,819.58 1048.64,816.48 1049.1,813.36 1049.56,810.22 1050.01,807.05 1050.47,803.85 1050.93,800.63 1051.39,797.39 1051.85,794.11 1052.3,790.81 1052.76,787.49 1053.22,784.14 1053.68,780.76 1054.13,777.35 1054.59,773.92 1055.05,770.46 1055.51,766.97 1055.97,763.46 1056.42,759.91 1056.88,756.34 1057.34,752.74 1057.8,749.11 1058.26,745.45 1058.71,741.76 1059.17,738.05 1059.63,734.3" fill="none" stroke="#000" stroke-width="2.2" stroke-linejoin="round" stroke-linecap="butt"/>
<polyline points="983.4,991.95 1659.8,991.95" fill="none" stroke="#000" stroke-width="2.4" stroke-linejoin="round" stroke-linecap="butt" stroke-dasharray="8.6,4.4"/>
<polyline points="178.2,1702.6 178.67,1700.15 179.15,1697.7 179.62,1695.25 180.09,1692.8 180.57,1690.35 181.04,1687.9 181.51,1685.45 181.99,1683 182.46,1680.55 182.93,1678.1 183.41,1675.65 183.88,1673.2 184.35,1670.75 184.83,1668.3 185.3,1665.85 185.77,1663.4 186.25,1660.95 186.72,1658.5 187.19,1656.05 187.67,1653.59 188.14,1651.14 188.61,1648.69 189.09,1646.24 189.56,1643.79 190.03,1641.34 190.51,1638.89 190.98,1636.44 191.45,1633.99 191.93,1631.54 192.4,1629.09 192.87,1626.64 193.35,1624.19 193.82,1621.74 194.29,1619.29 194.77,1616.84 195.24,1614.39 195.71,1611.94 196.19,1609.49 196.66,1607.04 197.13,1604.59 197.61,1602.14 198.08,1599.69 198.55,1597.24 199.03,1594.79 199.5,1592.34 199.97,1589.89 200.45,1587.44 200.92,1584.99 201.39,1582.54 201.87,1580.09 202.34,1577.64 202.81,1575.19 203.29,1572.74 203.76,1570.29 204.23,1567.84 204.71,1565.39 205.18,1562.94 205.65,1560.49 206.13,1558.03 206.6,1555.58 207.07,1553.13 207.55,1550.68 208.02,1548.23 208.49,1545.78 208.97,1543.33 209.44,1540.88 209.91,1538.43 210.39,1535.98 210.86,1533.53 211.33,1531.08 211.81,1528.63 212.28,1526.18 212.75,1523.73 213.23,1521.28 213.7,1518.83 214.17,1516.38 214.65,1513.93 215.12,1511.48 215.59,1509.03 216.07,1506.58 216.54,1504.13 217.01,1501.68 217.49,1499.23 217.96,1496.78 218.43,1494.33 218.91,1491.88 219.38,1489.43 219.85,1486.98 220.33,1484.53 220.8,1482.08 221.27,1479.63 221.75,1477.18 222.22,1474.73 222.69,1472.28 223.17,1469.83 223.64,1467.38 224.11,1464.93 224.59,1462.47 225.06,1460.02 225.53,1457.57 226.01,1455.12 226.48,1452.67 226.95,1450.22 227.43,1447.77 227.9,1445.32 228.37,1442.87 228.85,1440.42 229.32,1437.97 229.79,1435.52 230.27,1433.07 230.74,1430.62 231.21,1428.17 231.69,1425.72 232.16,1423.27 232.63,1420.82 233.11,1418.37 233.58,1415.92 234.05,1413.47 234.53,1411.02 235,1408.57 235.47,1406.12 235.95,1403.67 236.42,1401.22 236.89,1398.77 237.37,1396.32 237.84,1393.87 238.31,1391.42 238.79,1388.97 239.26,1386.52 239.73,1384.07 240.21,1381.62 240.68,1379.17 241.15,1376.85 241.63,1374.66 242.1,1372.48 242.57,1370.29 243.04,1368.11 243.52,1366.03 243.99,1364.21 244.46,1362.39 244.94,1360.58 245.41,1358.76 245.88,1356.95 246.36,1355.13 246.83,1353.24 247.3,1351.25 247.78,1349.26 248.25,1347.27 248.72,1345.28 249.2,1343.29 249.67,1341.3 250.14,1339.31 250.62,1337.33 251.09,1335.34 251.56,1333.35 252.04,1331.36 252.51,1329.37 252.98,1327.38 253.46,1325.39 253.93,1323.4 254.4,1321.41 254.88,1319.42 255.35,1317.43 255.82,1315.44 256.3,1313.45 256.77,1311.46 257.24,1309.47 257.72,1307.48 258.19,1305.5 258.66,1303.51 259.14,1301.52 259.61,1299.53 260.08,1297.54 260.56,1295.55 261.03,1293.56 261.5,1291.57 261.98,1289.58 262.45,1287.59 262.92,1285.6 263.4,1283.61 263.87,1281.62 264.34,1279.63 264.82,1277.64 265.29,1275.65 265.76,1273.67 266.24,1271.68 266.71,1269.69 267.18,1267.7 267.66,1265.71 268.13,1263.72 268.6,1261.73 269.08,1259.74 269.55,1257.75 270.02,1255.76 270.5,1253.77 270.97,1251.78 271.44,1249.79 271.92,1247.8 272.39,1245.81 272.86,1243.82 273.34,1243.32 273.81,1243.69 274.28,1244.06 274.76,1244.43 275.23,1244.8 275.7,1245.17 276.18,1245.54 276.65,1245.91 277.12,1246.28 277.6,1246.65 278.07,1247.02 278.54,1247.39 279.02,1247.76 279.49,1248.13 279.96,1248.5 280.44,1248.87 280.91,1249.24 281.38,1249.61 281.86,1249.99 282.33,1250.36 282.8,1250.73 283.28,1251.1 283.75,1251.47 284.22,1251.84 284.7,1252.21 285.17,1252.58 285.64,1252.95 286.12,1253.32 286.59,1253.69 287.06,1254.06 287.54,1254.43 288.01,1254.8 288.48,1255.17 288.96,1255.54 289.43,1255.91 289.9,1256.28 290.38,1256.65 290.85,1257.02 291.32,1257.39 291.8,1257.76 292.27,1258.13 292.74,1258.5 293.22,1258.87 293.69,1259.24 294.16,1259.61 294.64,1259.98 295.11,1260.35 295.58,1260.73 296.06,1261.1 296.53,1261.47 297,1261.84 297.48,1262.21 297.95,1262.58 298.42,1262.95 298.9,1263.32 299.37,1263.69 299.84,1264.06 300.32,1264.43 300.79,1264.8 301.26,1265.17 301.74,1265.54 302.21,1265.91 302.68,1266.28 303.16,1266.65 303.63,1267.02 304.1,1267.39 304.58,1267.76 305.05,1268.13 305.52,1268.5 306,1268.87 306.47,1269.24 306.94,1269.61 307.42,1269.98 307.89,1270.35 308.36,1270.72 308.84,1271.09 309.31,1271.47 309.78,1271.84 310.26,1272.21 310.73,1272.58 311.2,1272.95 311.68,1273.32 312.15,1273.69 312.62,1274.06 313.1,1274.43 313.57,1274.8 314.04,1275.17 314.52,1275.54 314.99,1275.91 315.46,1276.28 315.94,1276.65 316.41,1277.02 316.88,1277.39 317.36,1277.76 317.83,1278.13 318.3,1278.5 318.78,1278.87 319.25,1279.24 319.72,1279.61 320.2,1279.98 320.67,1280.35 321.14,1280.72 321.62,1281.09 322.09,1281.46 322.56,1281.83 323.04,1282.21 323.51,1282.58 323.98,1282.95 324.46,1283.32 324.93,1283.69 325.4,1284.06 325.88,1284.43 326.35,1284.8 326.82,1285.17 327.3,1285.54 327.77,1285.91 328.24,1286.28 328.72,1286.65 329.19,1287.02 329.66,1287.39 330.14,1287.76 330.61,1288.13 331.08,1288.5 331.56,1288.87 332.03,1289.24 332.5,1289.61 332.98,1289.98 333.45,1290.35 333.92,1290.72 334.4,1291.09 334.87,1291.46 335.34,1291.83 335.82,1292.2 336.29,1292.57 336.76,1292.95 337.24,1293.32 337.71,1293.69 338.18,1294.06 338.66,1294.43 339.13,1294.8 339.6,1295.17 340.08,1295.54 340.55,1295.91 341.02,1296.28 341.5,1296.65 341.97,1297.02 342.44,1297.39 342.92,1297.76 343.39,1298.13 343.86,1298.5 344.34,1298.87 344.81,1299.24 345.28,1299.61 345.76,1299.98 346.23,1300.35 346.7,1300.72 347.18,1301.09 347.65,1301.46 348.12,1301.83 348.6,1302.2 349.07,1302.57 349.54,1302.94 350.02,1303.31 350.49,1303.69 350.96,1304.06 351.44,1304.43 351.91,1304.8 352.38,1305.17 352.86,1305.54 353.33,1305.91 353.8,1306.28 354.28,1306.65 354.75,1307.02 355.22,1307.39 355.7,1307.76 356.17,1308.13 356.64,1308.5 357.12,1308.87 357.59,1309.24 358.06,1309.61 358.54,1309.98 359.01,1310.35 359.48,1310.72 359.96,1311.09 360.43,1311.46 360.9,1311.83 361.38,1312.2 361.85,1312.57 362.32,1312.94 362.8,1313.31 363.27,1313.68 363.74,1314.05 364.22,1314.43 364.69,1314.8 365.16,1315.17 365.64,1315.54 366.11,1315.91 366.58,1316.28 367.06,1316.65 367.53,1317.02 368,1317.39 368.48,1317.76 368.95,1318.13 369.42,1318.5 369.9,1318.87 370.37,1319.24 370.84,1319.61 371.32,1319.98 371.79,1320.35 372.26,1320.72 372.73,1321.09 373.21,1321.46 373.68,1321.83 374.15,1322.2 374.63,1322.57 375.1,1322.94 375.57,1323.31 376.05,1323.68 376.52,1324.05 376.99,1324.42 377.47,1324.79 377.94,1325.16 378.41,1325.54 378.89,1325.91 379.36,1326.28 379.83,1326.65 380.31,1327.02 380.78,1327.39 381.25,1327.76 381.73,1328.13 382.2,1328.5 382.67,1328.87 383.15,1329.24 383.62,1329.61 384.09,1329.98 384.57,1330.35 385.04,1330.72 385.51,1331.09 385.99,1331.46 386.46,1331.83 386.93,1332.2 387.41,1332.57 387.88,1332.94 388.35,1333.31 388.83,1333.68 389.3,1334.05 389.77,1334.42 390.25,1334.79 390.72,1335.16 391.19,1335.53 391.67,1335.9 392.14,1336.28 392.61,1336.65 393.09,1337.02 393.56,1337.39 394.03,1337.76 394.51,1338.13 394.98,1338.5 395.45,1338.87 395.93,1339.24 396.4,1339.61 396.87,1339.98 397.35,1340.35 397.82,1340.72 398.29,1341.09 398.77,1341.46 399.24,1341.83 399.71,1342.2 400.19,1342.57 400.66,1342.94 401.13,1343.31 401.61,1343.68 402.08,1344.05 402.55,1344.42 403.03,1344.79 403.5,1345.16 403.97,1345.53 404.45,1345.9 404.92,1346.27 405.39,1346.64 405.87,1347.02 406.34,1347.39 406.81,1347.76 407.29,1348.13 407.76,1348.5 408.23,1348.87 408.71,1349.24 409.18,1349.61 409.65,1349.98 410.13,1350.35 410.6,1350.72 411.07,1351.09 411.55,1351.46 412.02,1351.83 412.49,1352.2 412.97,1352.57 413.44,1352.94 413.91,1353.31 414.39,1353.68 414.86,1354.05 415.33,1354.42 415.81,1354.79 416.28,1355.16 416.75,1355.53 417.23,1355.9 417.7,1356.27 418.17,1356.64 418.65,1357.01 419.12,1357.38 419.59,1357.76 420.07,1358.13 420.54,1358.5 421.01,1358.87 421.49,1359.24 421.96,1359.61 422.43,1359.98 422.91,1360.35 423.38,1360.72 423.85,1361.09 424.33,1361.46 424.8,1361.83 425.27,1362.2 425.75,1362.57 426.22,1362.94 426.69,1363.31 427.17,1363.68 427.64,1364.05 428.11,1364.42 428.59,1364.79 429.06,1365.16 429.53,1365.53 430.01,1365.9 430.48,1366.27 430.95,1366.64 431.43,1367.01 431.9,1367.38 432.37,1367.75 432.85,1368.12 433.32,1368.5 433.79,1368.87 434.27,1369.24 434.74,1369.61 435.21,1369.98 435.69,1370.35 436.16,1370.72 436.63,1371.09 437.11,1371.46 437.58,1371.83 438.05,1372.2 438.53,1372.57 439,1372.94 439.47,1373.31 439.95,1373.68 440.42,1374.05 440.89,1374.42 441.37,1374.79 441.84,1375.16 442.31,1375.53 442.79,1375.9 443.26,1376.27 443.73,1376.64 444.21,1377.01 444.68,1377.38 445.15,1377.75 445.63,1378.12 446.1,1378.49 446.57,1378.86 447.05,1379.24 447.52,1379.61 447.99,1379.98 448.47,1380.35 448.94,1380.72 449.41,1381.09 449.89,1381.46 450.36,1381.83 450.83,1382.2 451.31,1382.57 451.78,1382.94 452.25,1383.31 452.73,1383.68 453.2,1384.05 453.67,1384.42 454.15,1384.79 454.62,1385.16 455.09,1385.53 455.57,1385.9 456.04,1386.27 456.51,1386.64 456.99,1387.01 457.46,1387.38 457.93,1387.75 458.41,1388.12 458.88,1388.49 459.35,1388.86 459.83,1389.23 460.3,1389.6 460.77,1389.98 461.25,1390.35 461.72,1390.72 462.19,1391.09 462.67,1391.46 463.14,1391.83 463.61,1392.2 464.09,1392.57 464.56,1392.94 465.03,1393.31 465.51,1393.68 465.98,1394.05 466.45,1394.42 466.93,1394.79 467.4,1395.16 467.87,1395.53 468.35,1395.9 468.82,1396.27 469.29,1396.64 469.77,1397.01 470.24,1397.38 470.71,1397.75 471.19,1398.12 471.66,1398.49 472.13,1398.86 472.61,1399.23 473.08,1399.6 473.55,1399.97 474.03,1400.34 474.5,1400.72 474.97,1401.09 475.45,1401.46 475.92,1401.83 476.39,1402.2 476.87,1402.57 477.34,1402.94 477.81,1403.31 478.29,1403.68 478.76,1404.05 479.23,1404.42 479.71,1404.79 480.18,1405.16 480.65,1405.52 481.13,1405.89 481.6,1406.25 482.07,1406.62 482.55,1406.98 483.02,1407.35 483.49,1407.71 483.97,1408.08 484.44,1408.44 484.91,1408.81 485.39,1409.17 485.86,1409.54 486.33,1409.9 486.81,1410.27 487.28,1410.63 487.75,1410.99 488.23,1411.36 488.7,1411.72 489.17,1412.09 489.65,1412.45 490.12,1412.82 490.59,1413.18 491.07,1413.55 491.54,1413.91 492.01,1414.28 492.49,1414.64 492.96,1415.01 493.43,1415.37 493.91,1415.74 494.38,1416.1 494.85,1416.47 495.33,1416.83 495.8,1417.19 496.27,1417.56 496.75,1417.92 497.22,1418.29 497.69,1418.65 498.17,1419.02 498.64,1419.38 499.11,1419.75 499.59,1420.11 500.06,1420.48 500.53,1420.84 501,1421.21 501.48,1421.57 501.95,1421.94 502.42,1422.3 502.9,1422.67 503.37,1423.03 503.84,1423.39 504.32,1423.76 504.79,1424.12 505.26,1424.49 505.74,1424.85 506.21,1425.22 506.68,1425.58 507.16,1425.95 507.63,1426.31 508.1,1426.68 508.58,1427.04 509.05,1427.41 509.52,1427.77 510,1428.14 510.47,1428.5 510.94,1428.86 511.42,1429.23 511.89,1429.59 512.36,1429.96 512.84,1430.32 513.31,1430.69 513.78,1431.05 514.26,1431.42 514.73,1431.78 515.2,1432.15 515.68,1432.51 516.15,1432.88 516.62,1433.24 517.1,1433.61 517.57,1433.97 518.04,1434.34 518.52,1434.7 518.99,1435.06 519.46,1435.43 519.94,1435.79 520.41,1436.16 520.88,1436.52 521.36,1436.89 521.83,1437.25 522.3,1437.62 522.78,1437.98 523.25,1438.35 523.72,1438.71 524.2,1439.08 524.67,1439.44 525.14,1439.81 525.62,1440.17 526.09,1440.54 526.56,1440.9 527.04,1441.26 527.51,1441.63 527.98,1441.99 528.46,1442.36 528.93,1442.72 529.4,1443.09 529.88,1443.45 530.35,1443.82 530.82,1444.18 531.3,1444.55 531.77,1444.91 532.24,1445.28 532.72,1445.64 533.19,1446.01 533.66,1446.37 534.14,1446.73 534.61,1447.1 535.08,1447.46 535.56,1447.83 536.03,1448.19 536.5,1448.56 536.98,1448.92 537.45,1449.29 537.92,1449.65 538.4,1450.02 538.87,1450.38 539.34,1450.75 539.82,1451.11 540.29,1451.48 540.76,1451.84 541.24,1452.21 541.71,1452.57 542.18,1452.93 542.66,1453.3 543.13,1453.66 543.6,1454.03 544.08,1454.39 544.55,1454.76 545.02,1455.12 545.5,1455.49 545.97,1455.85 546.44,1456.22 546.92,1456.58 547.39,1456.95 547.86,1457.31 548.34,1457.68 548.81,1458.04 549.28,1458.41 549.76,1458.77 550.23,1459.13 550.7,1459.5 551.18,1459.86 551.65,1460.23 552.12,1460.59 552.6,1460.96 553.07,1461.32 553.54,1461.68 554.02,1462.04 554.49,1462.41 554.96,1462.77 555.44,1463.13 555.91,1463.49 556.38,1463.85 556.86,1464.21 557.33,1464.57 557.8,1464.93 558.28,1465.3 558.75,1465.66 559.22,1466.02 559.7,1466.38 560.17,1466.74 560.64,1467.1 561.12,1467.46 561.59,1467.83 562.06,1468.19 562.54,1468.55 563.01,1468.91 563.48,1469.27 563.96,1469.63 564.43,1469.99 564.9,1470.35 565.38,1470.72 565.85,1471.08 566.32,1471.44 566.8,1471.8 567.27,1472.16 567.74,1472.52 568.22,1472.88 568.69,1473.24 569.16,1473.61 569.64,1473.97 570.11,1474.33 570.58,1474.69 571.06,1475.05 571.53,1475.41 572,1475.77 572.48,1476.14 572.95,1476.5 573.42,1476.86 573.9,1477.22 574.37,1477.58 574.84,1477.94 575.32,1478.3 575.79,1478.66 576.26,1479.03 576.74,1479.39 577.21,1479.75 577.68,1480.11 578.16,1480.47 578.63,1480.83 579.1,1481.19 579.58,1481.56 580.05,1481.92 580.52,1482.28 581,1482.64 581.47,1483 581.94,1483.36 582.42,1483.72 582.89,1484.08 583.36,1484.45 583.84,1484.81 584.31,1485.17 584.78,1485.53 585.26,1485.89 585.73,1486.25 586.2,1486.61 586.68,1486.97 587.15,1487.34 587.62,1487.7 588.1,1488.06 588.57,1488.42 589.04,1488.78 589.52,1489.14 589.99,1489.5 590.46,1489.87 590.94,1490.23 591.41,1490.59 591.88,1490.95 592.36,1491.31 592.83,1491.67 593.3,1492.03 593.78,1492.39 594.25,1492.76 594.72,1493.12 595.2,1493.48 595.67,1493.84 596.14,1494.2 596.62,1494.56 597.09,1494.92 597.56,1495.28 598.04,1495.65 598.51,1496.01 598.98,1496.37 599.46,1496.73 599.93,1497.09 600.4,1497.45 600.88,1497.81 601.35,1498.18 601.82,1498.54 602.3,1498.9 602.77,1499.26 603.24,1499.62 603.72,1499.98 604.19,1500.34 604.66,1500.7 605.14,1501.07 605.61,1501.43 606.08,1501.79 606.56,1502.15 607.03,1502.51 607.5,1502.87 607.98,1503.23 608.45,1503.6 608.92,1503.96 609.4,1504.32 609.87,1504.68 610.34,1505.04 610.82,1505.4 611.29,1505.76 611.76,1506.12 612.24,1506.49 612.71,1506.85 613.18,1507.21 613.66,1507.57 614.13,1507.93 614.6,1508.29 615.08,1508.65 615.55,1509.01 616.02,1509.38 616.5,1509.74 616.97,1510.1 617.44,1510.46 617.92,1510.82 618.39,1511.18 618.86,1511.54 619.34,1511.91 619.81,1512.27 620.28,1512.63 620.76,1512.99 621.23,1513.35 621.7,1513.71 622.18,1514.07 622.65,1514.43 623.12,1514.8 623.6,1515.16 624.07,1515.52 624.54,1515.88 625.02,1516.36 625.49,1516.73 625.96,1517.11 626.44,1517.49 626.91,1517.86 627.38,1518.24 627.86,1518.61 628.33,1518.99 628.8,1519.36 629.28,1519.74 629.75,1520.11 630.22,1520.49 630.69,1520.86 631.17,1521.23 631.64,1521.6 632.11,1521.98 632.59,1522.35 633.06,1522.72 633.53,1523.09 634.01,1523.46 634.48,1523.83 634.95,1524.2 635.43,1524.57 635.9,1524.94 636.37,1525.31 636.85,1525.68 637.32,1526.05 637.79,1526.41 638.27,1526.78 638.74,1527.15 639.21,1527.52 639.69,1527.88 640.16,1528.25 640.63,1528.61 641.11,1528.98 641.58,1529.35 642.05,1529.71 642.53,1530.07 643,1530.44 643.47,1530.8 643.95,1531.17 644.42,1531.53 644.89,1531.89 645.37,1532.26 645.84,1532.62 646.31,1532.98 646.79,1533.35 647.26,1533.71 647.73,1534.07 648.21,1534.43 648.68,1534.8 649.15,1535.16 649.63,1535.52 650.1,1535.88 650.57,1536.24 651.05,1536.6 651.52,1536.96 651.99,1537.32 652.47,1537.68 652.94,1538.04 653.41,1538.4 653.89,1538.76 654.36,1539.11 654.83,1539.47 655.31,1539.82 655.78,1540.18 656.25,1540.53 656.73,1540.88 657.2,1541.23 657.67,1541.58 658.15,1541.93 658.62,1542.28 659.09,1542.63 659.57,1542.97 660.04,1543.32 660.51,1543.66 660.99,1544 661.46,1544.34 661.93,1544.69 662.41,1545.04 662.88,1545.38 663.35,1545.73 663.83,1546.08 664.3,1546.43 664.77,1546.78 665.25,1547.12 665.72,1547.47 666.19,1547.81 666.67,1548.15 667.14,1548.49 667.61,1548.82 668.09,1549.16 668.56,1549.48 669.03,1549.81 669.51,1550.12 669.98,1550.44 670.45,1550.74 670.93,1551.04 671.4,1551.34 671.87,1551.62 672.35,1551.9 672.82,1552.18 673.29,1552.45 673.77,1552.72 674.24,1552.99 674.71,1553.26 675.19,1553.52 675.66,1553.78 676.13,1554.03 676.61,1554.28 677.08,1554.53 677.55,1554.77 678.03,1555 678.5,1555.23 678.97,1555.45 679.45,1555.66 679.92,1555.86 680.39,1556.06 680.87,1556.24 681.34,1556.42 681.81,1556.6 682.29,1556.77 682.76,1556.93 683.23,1557.1 683.71,1557.26 684.18,1557.42 684.65,1557.57 685.13,1557.73 685.6,1557.88 686.07,1558.02 686.55,1558.16 687.02,1558.3 687.49,1558.44 687.97,1558.57 688.44,1558.7 688.91,1558.83 689.39,1558.95 689.86,1559.07 690.33,1559.19 690.81,1559.3 691.28,1559.41 691.75,1559.52 692.23,1559.62 692.7,1559.72 693.17,1559.82 693.65,1559.91 694.12,1560 694.59,1560.09 695.07,1560.18 695.54,1560.26 696.01,1560.34 696.49,1560.42 696.96,1560.5 697.43,1560.57 697.91,1560.64 698.38,1560.72 698.85,1560.79 699.33,1560.86 699.8,1560.92 700.27,1560.99 700.75,1561.06 701.22,1561.12 701.69,1561.19 702.17,1561.25 702.64,1561.31 703.11,1561.38 703.59,1561.44 704.06,1561.5 704.53,1561.57 705.01,1561.63 705.48,1561.7 705.95,1561.76 706.43,1561.83 706.9,1561.9 707.37,1561.96 707.85,1562.04 708.32,1562.11 708.79,1562.18 709.27,1562.25 709.74,1562.33 710.21,1562.41 710.69,1562.48 711.16,1562.56 711.63,1562.64 712.11,1562.72 712.58,1562.79 713.05,1562.87 713.53,1562.95 714,1563.03 714.47,1563.11 714.95,1563.19 715.42,1563.27 715.89,1563.35 716.37,1563.43 716.84,1563.5 717.31,1563.58 717.79,1563.66 718.26,1563.73 718.73,1563.81 719.21,1563.88 719.68,1563.95 720.15,1564.02 720.63,1564.09 721.1,1564.16 721.57,1564.22 722.05,1564.29 722.52,1564.35 722.99,1564.41 723.47,1564.47 723.94,1564.53 724.41,1564.58 724.89,1564.63 725.36,1564.68 725.83,1564.73 726.31,1564.77 726.78,1564.81 727.25,1564.85 727.73,1564.89 728.2,1564.92 728.67,1564.95 729.15,1564.97 729.62,1564.99 730.09,1565.01 730.57,1565.03 731.04,1565.04 731.51,1565.05 731.99,1565.05 732.46,1565.06 732.93,1565.07 733.41,1565.08 733.88,1565.08 734.35,1565.09 734.83,1565.1 735.3,1565.1 735.77,1565.11 736.25,1565.12 736.72,1565.12 737.19,1565.13 737.67,1565.14 738.14,1565.14 738.61,1565.15 739.09,1565.16 739.56,1565.16 740.03,1565.17 740.51,1565.17 740.98,1565.18 741.45,1565.19 741.93,1565.19 742.4,1565.2 742.87,1565.2 743.35,1565.21 743.82,1565.22 744.29,1565.22 744.77,1565.23 745.24,1565.23 745.71,1565.24 746.19,1565.24 746.66,1565.25 747.13,1565.25 747.61,1565.26 748.08,1565.26 748.55,1565.27 749.03,1565.27 749.5,1565.28 749.97,1565.28 750.45,1565.29 750.92,1565.29 751.39,1565.3 751.87,1565.3 752.34,1565.31 752.81,1565.31 753.29,1565.32 753.76,1565.32 754.23,1565.32 754.71,1565.33 755.18,1565.33 755.65,1565.34 756.13,1565.34 756.6,1565.34 757.07,1565.35 757.55,1565.35 758.02,1565.36 758.49,1565.36 758.96,1565.36 759.44,1565.37 759.91,1565.37 760.38,1565.37 760.86,1565.38 761.33,1565.38 761.8,1565.38 762.28,1565.39 762.75,1565.39 763.22,1565.39 763.7,1565.4 764.17,1565.4 764.64,1565.4 765.12,1565.41 765.59,1565.41 766.06,1565.41 766.54,1565.42 767.01,1565.42 767.48,1565.42 767.96,1565.42 768.43,1565.43 768.9,1565.43 769.38,1565.43 769.85,1565.43 770.32,1565.44 770.8,1565.44 771.27,1565.44 771.74,1565.44 772.22,1565.44 772.69,1565.45 773.16,1565.45 773.64,1565.45 774.11,1565.45 774.58,1565.45 775.06,1565.46 775.53,1565.46 776,1565.46 776.48,1565.46 776.95,1565.46 777.42,1565.46 777.9,1565.47 778.37,1565.47 778.84,1565.47 779.32,1565.47 779.79,1565.47 780.26,1565.47 780.74,1565.47 781.21,1565.48 781.68,1565.48 782.16,1565.48 782.63,1565.48 783.1,1565.48 783.58,1565.48 784.05,1565.48 784.52,1565.48 785,1565.48 785.47,1565.48 785.94,1565.48 786.42,1565.49 786.89,1565.49 787.36,1565.49 787.84,1565.49 788.31,1565.49 788.78,1565.49 789.26,1565.49 789.73,1565.49 790.2,1565.49 790.68,1565.49 791.15,1565.49 791.62,1565.49 792.1,1565.49 792.57,1565.49 793.04,1565.49" fill="none" stroke="#84679f" stroke-width="2.0" stroke-linejoin="round" stroke-linecap="butt"/>
<polyline points="178.2,1702.6 178.67,1702.6 179.15,1702.6 179.62,1702.6 180.09,1702.6 180.57,1702.6 181.04,1702.6 181.51,1702.6 181.99,1702.6 182.46,1702.6 182.93,1702.6 183.41,1702.6 183.88,1702.6 184.35,1702.6 184.83,1702.6 185.3,1702.6 185.77,1702.6 186.25,1702.6 186.72,1702.6 187.19,1702.6 187.67,1702.6 188.14,1702.6 188.61,1702.6 189.09,1702.6 189.56,1702.6 190.03,1702.6 190.51,1702.6 190.98,1702.6 191.45,1702.6 191.93,1702.6 192.4,1702.6 192.87,1702.6 193.35,1702.6 193.82,1702.6 194.29,1702.6 194.77,1702.6 195.24,1702.6 195.71,1702.6 196.19,1702.6 196.66,1702.6 197.13,1702.6 197.61,1702.6 198.08,1702.6 198.55,1702.6 199.03,1702.6 199.5,1702.6 199.97,1702.6 200.45,1702.6 200.92,1702.6 201.39,1702.6 201.87,1702.6 202.34,1702.6 202.81,1702.6 203.29,1702.6 203.76,1702.6 204.23,1702.6 204.71,1702.6 205.18,1702.6 205.65,1702.6 206.13,1702.6 206.6,1702.6 207.07,1702.6 207.55,1702.6 208.02,1702.6 208.49,1702.6 208.97,1702.6 209.44,1702.6 209.91,1702.6 210.39,1702.6 210.86,1702.6 211.33,1702.6 211.81,1702.6 212.28,1702.6 212.75,1702.6 213.23,1702.6 213.7,1702.6 214.17,1702.6 214.65,1702.6 215.12,1702.6 215.59,1702.6 216.07,1702.6 216.54,1702.6 217.01,1702.6 217.49,1702.6 217.96,1702.6 218.43,1702.6 218.91,1702.6 219.38,1702.6 219.85,1702.6 220.33,1702.6 220.8,1702.6 221.27,1702.6 221.75,1702.6 222.22,1702.6 222.69,1702.6 223.17,1702.6 223.64,1702.6 224.11,1702.6 224.59,1702.6 225.06,1702.6 225.53,1702.6 226.01,1702.6 226.48,1702.6 226.95,1702.6 227.43,1702.6 227.9,1702.6 228.37,1702.6 228.85,1702.6 229.32,1702.6 229.79,1702.6 230.27,1702.6 230.74,1702.6 231.21,1702.6 231.69,1702.6 232.16,1702.6 232.63,1702.6 233.11,1702.6 233.58,1702.6 234.05,1702.6 234.53,1702.6 235,1702.6 235.47,1702.6 235.95,1702.6 236.42,1702.6 236.89,1702.6 237.37,1702.6 237.84,1702.6 238.31,1702.6 238.79,1702.6 239.26,1702.6 239.73,1702.56 240.21,1702.17 240.68,1701.79 241.15,1701.4 241.63,1701.01 242.1,1700.62 242.57,1700.24 243.04,1699.85 243.52,1699.46 243.99,1699.08 244.46,1698.69 244.94,1698.3 245.41,1697.91 245.88,1697.53 246.36,1697.14 246.83,1696.75 247.3,1696.36 247.78,1695.98 248.25,1695.59 248.72,1695.2 249.2,1694.82 249.67,1694.43 250.14,1694.04 250.62,1693.65 251.09,1693.27 251.56,1692.88 252.04,1692.49 252.51,1692.1 252.98,1691.72 253.46,1691.33 253.93,1690.94 254.4,1690.52 254.88,1690.04 255.35,1689.56 255.82,1689.08 256.3,1688.61 256.77,1688.13 257.24,1687.65 257.72,1687.17 258.19,1686.69 258.66,1686.21 259.14,1685.73 259.61,1685.26 260.08,1684.78 260.56,1684.3 261.03,1683.82 261.5,1683.34 261.98,1682.86 262.45,1682.38 262.92,1681.9 263.4,1681.43 263.87,1680.95 264.34,1680.47 264.82,1679.99 265.29,1679.51 265.76,1679.03 266.24,1678.55 266.71,1678.07 267.18,1677.6 267.66,1677.12 268.13,1676.64 268.6,1676.16 269.08,1675.68 269.55,1675.2 270.02,1674.72 270.5,1674.25 270.97,1673.77 271.44,1673.29 271.92,1672.81 272.39,1672.33 272.86,1671.86 273.34,1671.5 273.81,1671.15 274.28,1670.8 274.76,1670.45 275.23,1670.1 275.7,1669.75 276.18,1669.4 276.65,1669.05 277.12,1668.7 277.6,1668.34 278.07,1667.99 278.54,1667.64 279.02,1667.29 279.49,1666.94 279.96,1666.59 280.44,1666.24 280.91,1665.89 281.38,1665.54 281.86,1665.18 282.33,1664.83 282.8,1664.48 283.28,1664.13 283.75,1663.78 284.22,1663.43 284.7,1663.08 285.17,1662.73 285.64,1662.37 286.12,1662.02 286.59,1661.67 287.06,1661.32 287.54,1660.97 288.01,1660.62 288.48,1660.27 288.96,1659.92 289.43,1659.57 289.9,1659.21 290.38,1658.86 290.85,1658.51 291.32,1658.16 291.8,1657.81 292.27,1657.46 292.74,1657.11 293.22,1656.76 293.69,1656.41 294.16,1656.05 294.64,1655.7 295.11,1655.35 295.58,1655 296.06,1654.65 296.53,1654.3 297,1653.95 297.48,1653.6 297.95,1653.24 298.42,1652.89 298.9,1652.54 299.37,1652.19 299.84,1651.84 300.32,1651.49 300.79,1651.14 301.26,1650.79 301.74,1650.44 302.21,1650.08 302.68,1649.73 303.16,1649.38 303.63,1649.03 304.1,1648.68 304.58,1648.33 305.05,1647.98 305.52,1647.63 306,1647.28 306.47,1646.92 306.94,1646.57 307.42,1646.22 307.89,1645.87 308.36,1645.52 308.84,1645.17 309.31,1644.82 309.78,1644.47 310.26,1644.12 310.73,1643.76 311.2,1643.41 311.68,1643.06 312.15,1642.71 312.62,1642.36 313.1,1642.01 313.57,1641.66 314.04,1641.31 314.52,1640.95 314.99,1640.6 315.46,1640.25 315.94,1639.9 316.41,1639.55 316.88,1639.2 317.36,1638.85 317.83,1638.5 318.3,1638.15 318.78,1637.79 319.25,1637.44 319.72,1637.09 320.2,1636.74 320.67,1636.39 321.14,1636.04 321.62,1635.69 322.09,1635.34 322.56,1634.99 323.04,1634.63 323.51,1634.28 323.98,1633.93 324.46,1633.58 324.93,1633.23 325.4,1632.88 325.88,1632.53 326.35,1632.18 326.82,1631.82 327.3,1631.47 327.77,1631.12 328.24,1630.77 328.72,1630.42 329.19,1630.07 329.66,1629.72 330.14,1629.37 330.61,1629.02 331.08,1628.66 331.56,1628.31 332.03,1627.96 332.5,1627.61 332.98,1627.26 333.45,1626.91 333.92,1626.56 334.4,1626.21 334.87,1625.86 335.34,1625.5 335.82,1625.15 336.29,1624.8 336.76,1624.45 337.24,1624.1 337.71,1623.75 338.18,1623.4 338.66,1623.05 339.13,1622.69 339.6,1622.34 340.08,1621.99 340.55,1621.64 341.02,1621.29 341.5,1620.94 341.97,1620.59 342.44,1620.24 342.92,1619.89 343.39,1619.53 343.86,1619.18 344.34,1618.83 344.81,1618.48 345.28,1618.13 345.76,1617.78 346.23,1617.43 346.7,1617.08 347.18,1616.73 347.65,1616.37 348.12,1616.02 348.6,1615.67 349.07,1615.32 349.54,1614.97 350.02,1614.62 350.49,1614.27 350.96,1613.92 351.44,1613.56 351.91,1613.21 352.38,1612.86 352.86,1612.51 353.33,1612.16 353.8,1611.81 354.28,1611.46 354.75,1611.11 355.22,1610.76 355.7,1610.4 356.17,1610.05 356.64,1609.7 357.12,1609.35 357.59,1609 358.06,1608.65 358.54,1608.3 359.01,1607.95 359.48,1607.6 359.96,1607.24 360.43,1606.89 360.9,1606.54 361.38,1606.19 361.85,1605.84 362.32,1605.49 362.8,1605.14 363.27,1604.79 363.74,1604.44 364.22,1604.08 364.69,1603.73 365.16,1603.38 365.64,1603.03 366.11,1602.68 366.58,1602.33 367.06,1601.98 367.53,1601.63 368,1601.27 368.48,1600.92 368.95,1600.57 369.42,1600.22 369.9,1599.87 370.37,1599.52 370.84,1599.17 371.32,1598.82 371.79,1598.47 372.26,1598.11 372.73,1597.76 373.21,1597.41 373.68,1597.06 374.15,1596.71 374.63,1596.36 375.1,1596.01 375.57,1595.66 376.05,1595.31 376.52,1594.95 376.99,1594.6 377.47,1594.25 377.94,1593.9 378.41,1593.55 378.89,1593.2 379.36,1592.85 379.83,1592.5 380.31,1592.14 380.78,1591.79 381.25,1591.44 381.73,1591.09 382.2,1590.74 382.67,1590.39 383.15,1590.04 383.62,1589.69 384.09,1589.34 384.57,1588.98 385.04,1588.63 385.51,1588.28 385.99,1587.93 386.46,1587.58 386.93,1587.23 387.41,1586.88 387.88,1586.53 388.35,1586.18 388.83,1585.82 389.3,1585.47 389.77,1585.12 390.25,1584.77 390.72,1584.42 391.19,1584.07 391.67,1583.72 392.14,1583.37 392.61,1583.01 393.09,1582.66 393.56,1582.31 394.03,1581.96 394.51,1581.61 394.98,1581.26 395.45,1580.91 395.93,1580.56 396.4,1580.21 396.87,1579.85 397.35,1579.5 397.82,1579.15 398.29,1578.8 398.77,1578.45 399.24,1578.1 399.71,1577.75 400.19,1577.4 400.66,1577.05 401.13,1576.69 401.61,1576.34 402.08,1575.99 402.55,1575.64 403.03,1575.29 403.5,1574.94 403.97,1574.59 404.45,1574.24 404.92,1573.88 405.39,1573.53 405.87,1573.18 406.34,1572.83 406.81,1572.48 407.29,1572.13 407.76,1571.78 408.23,1571.43 408.71,1571.08 409.18,1570.72 409.65,1570.37 410.13,1570.02 410.6,1569.67 411.07,1569.32 411.55,1568.97 412.02,1568.62 412.49,1568.27 412.97,1567.92 413.44,1567.56 413.91,1567.21 414.39,1566.86 414.86,1566.51 415.33,1566.16 415.81,1565.81 416.28,1565.46 416.75,1565.11 417.23,1564.76 417.7,1564.4 418.17,1564.05 418.65,1563.7 419.12,1563.35 419.59,1563 420.07,1562.65 420.54,1562.3 421.01,1561.95 421.49,1561.59 421.96,1561.24 422.43,1560.89 422.91,1560.54 423.38,1560.19 423.85,1559.84 424.33,1559.49 424.8,1559.14 425.27,1558.79 425.75,1558.43 426.22,1558.08 426.69,1557.73 427.17,1557.38 427.64,1557.03 428.11,1556.68 428.59,1556.33 429.06,1555.98 429.53,1555.63 430.01,1555.27 430.48,1554.92 430.95,1554.57 431.43,1554.22 431.9,1553.87 432.37,1553.52 432.85,1553.17 433.32,1552.82 433.79,1552.46 434.27,1552.11 434.74,1551.76 435.21,1551.41 435.69,1551.06 436.16,1550.71 436.63,1550.36 437.11,1550.01 437.58,1549.66 438.05,1549.3 438.53,1548.95 439,1548.6 439.47,1548.25 439.95,1547.9 440.42,1547.55 440.89,1547.2 441.37,1546.85 441.84,1546.5 442.31,1546.14 442.79,1545.79 443.26,1545.44 443.73,1545.09 444.21,1544.74 444.68,1544.39 445.15,1544.04 445.63,1543.69 446.1,1543.33 446.57,1542.98 447.05,1542.63 447.52,1542.28 447.99,1541.93 448.47,1541.58 448.94,1541.23 449.41,1540.88 449.89,1540.53 450.36,1540.17 450.83,1539.82 451.31,1539.47 451.78,1539.12 452.25,1538.77 452.73,1538.42 453.2,1538.07 453.67,1537.72 454.15,1537.37 454.62,1537.01 455.09,1536.66 455.57,1536.31 456.04,1535.96 456.51,1535.61 456.99,1535.26 457.46,1534.91 457.93,1534.56 458.41,1534.2 458.88,1533.85 459.35,1533.5 459.83,1533.15 460.3,1532.8 460.77,1532.45 461.25,1532.1 461.72,1531.75 462.19,1531.4 462.67,1531.04 463.14,1530.69 463.61,1530.34 464.09,1529.99 464.56,1529.64 465.03,1529.29 465.51,1528.94 465.98,1528.59 466.45,1528.24 466.93,1527.88 467.4,1527.53 467.87,1527.18 468.35,1526.83 468.82,1526.48 469.29,1526.13 469.77,1525.78 470.24,1525.43 470.71,1525.07 471.19,1524.72 471.66,1524.37 472.13,1524.02 472.61,1523.67 473.08,1523.32 473.55,1522.97 474.03,1522.62 474.5,1522.27 474.97,1521.91 475.45,1521.56 475.92,1521.21 476.39,1520.86 476.87,1520.51 477.34,1520.16 477.81,1519.81 478.29,1519.46 478.76,1519.11 479.23,1518.75 479.71,1518.4 480.18,1518.05 480.65,1517.7 481.13,1517.35 481.6,1517 482.07,1516.65 482.55,1516.3 483.02,1515.95 483.49,1515.59 483.97,1515.24 484.44,1514.89 484.91,1514.54 485.39,1514.19 485.86,1513.84 486.33,1513.49 486.81,1513.14 487.28,1512.78 487.75,1512.43 488.23,1512.07 488.7,1511.68 489.17,1511.3 489.65,1510.92 490.12,1510.53 490.59,1510.15 491.07,1509.77 491.54,1509.38 492.01,1509 492.49,1508.62 492.96,1508.24 493.43,1507.85 493.91,1507.47 494.38,1507.09 494.85,1506.7 495.33,1506.32 495.8,1505.94 496.27,1505.55 496.75,1505.17 497.22,1504.79 497.69,1504.4 498.17,1504.02 498.64,1503.64 499.11,1503.25 499.59,1502.87 500.06,1502.49 500.53,1502.1 501,1501.72 501.48,1501.34 501.95,1500.95 502.42,1500.57 502.9,1500.19 503.37,1499.81 503.84,1499.42 504.32,1499.04 504.79,1498.66 505.26,1498.27 505.74,1497.89 506.21,1497.51 506.68,1497.12 507.16,1496.74 507.63,1496.36 508.1,1495.97 508.58,1495.59 509.05,1495.21 509.52,1494.82 510,1494.44 510.47,1494.06 510.94,1493.67 511.42,1493.29 511.89,1492.91 512.36,1492.52 512.84,1492.14 513.31,1491.76 513.78,1491.38 514.26,1490.99 514.73,1490.61 515.2,1490.23 515.68,1489.84 516.15,1489.46 516.62,1489.08 517.1,1488.69 517.57,1488.31 518.04,1487.93 518.52,1487.54 518.99,1487.16 519.46,1486.78 519.94,1486.39 520.41,1486.01 520.88,1485.63 521.36,1485.24 521.83,1484.86 522.3,1484.48 522.78,1484.1 523.25,1483.71 523.72,1483.33 524.2,1482.95 524.67,1482.56 525.14,1482.18 525.62,1481.8 526.09,1481.41 526.56,1481.03 527.04,1480.65 527.51,1480.26 527.98,1479.88 528.46,1479.5 528.93,1479.11 529.4,1478.73 529.88,1478.35 530.35,1477.96 530.82,1477.58 531.3,1477.2 531.77,1476.81 532.24,1476.43 532.72,1476.05 533.19,1475.67 533.66,1475.28 534.14,1474.9 534.61,1474.52 535.08,1474.13 535.56,1473.75 536.03,1473.37 536.5,1472.98 536.98,1472.6 537.45,1472.22 537.92,1471.83 538.4,1471.45 538.87,1471.07 539.34,1470.68 539.82,1470.3 540.29,1469.92 540.76,1469.53 541.24,1469.15 541.71,1468.77 542.18,1468.38 542.66,1468 543.13,1467.62 543.6,1467.24 544.08,1466.85 544.55,1466.47 545.02,1466.09 545.5,1465.7 545.97,1465.32 546.44,1464.94 546.92,1464.55 547.39,1464.17 547.86,1463.79 548.34,1463.4 548.81,1463.02 549.28,1462.64 549.76,1462.25 550.23,1461.87 550.7,1461.49 551.18,1461.1 551.65,1460.72 552.12,1460.34 552.6,1459.95 553.07,1459.58 553.54,1459.23 554.02,1458.88 554.49,1458.53 554.96,1458.17 555.44,1457.82 555.91,1457.47 556.38,1457.12 556.86,1456.76 557.33,1456.41 557.8,1456.06 558.28,1455.71 558.75,1455.36 559.22,1455 559.7,1454.65 560.17,1454.3 560.64,1453.95 561.12,1453.59 561.59,1453.24 562.06,1452.89 562.54,1452.54 563.01,1452.18 563.48,1451.83 563.96,1451.48 564.43,1451.13 564.9,1450.78 565.38,1450.42 565.85,1450.07 566.32,1449.72 566.8,1449.37 567.27,1449.01 567.74,1448.66 568.22,1448.31 568.69,1447.96 569.16,1447.61 569.64,1447.25 570.11,1446.9 570.58,1446.55 571.06,1446.2 571.53,1445.84 572,1445.49 572.48,1445.14 572.95,1444.79 573.42,1444.43 573.9,1444.08 574.37,1443.73 574.84,1443.38 575.32,1443.03 575.79,1442.67 576.26,1442.32 576.74,1441.97 577.21,1441.62 577.68,1441.26 578.16,1440.91 578.63,1440.56 579.1,1440.21 579.58,1439.86 580.05,1439.5 580.52,1439.15 581,1438.8 581.47,1438.45 581.94,1438.09 582.42,1437.74 582.89,1437.39 583.36,1437.04 583.84,1436.68 584.31,1436.33 584.78,1435.98 585.26,1435.63 585.73,1435.28 586.2,1434.92 586.68,1434.57 587.15,1434.22 587.62,1433.87 588.1,1433.51 588.57,1433.16 589.04,1432.81 589.52,1432.46 589.99,1432.1 590.46,1431.75 590.94,1431.4 591.41,1431.05 591.88,1430.7 592.36,1430.34 592.83,1429.99 593.3,1429.64 593.78,1429.29 594.25,1428.93 594.72,1428.58 595.2,1428.23 595.67,1427.88 596.14,1427.53 596.62,1427.17 597.09,1426.82 597.56,1426.47 598.04,1426.12 598.51,1425.76 598.98,1425.41 599.46,1425.06 599.93,1424.71 600.4,1424.35 600.88,1424 601.35,1423.65 601.82,1423.3 602.3,1422.95 602.77,1422.59 603.24,1422.24 603.72,1421.89 604.19,1421.54 604.66,1421.18 605.14,1420.83 605.61,1420.48 606.08,1420.13 606.56,1419.78 607.03,1419.42 607.5,1419.07 607.98,1418.72 608.45,1418.37 608.92,1418.01 609.4,1417.66 609.87,1417.31 610.34,1416.96 610.82,1416.6 611.29,1416.25 611.76,1415.9 612.24,1415.55 612.71,1415.2 613.18,1414.84 613.66,1414.49 614.13,1414.14 614.6,1413.79 615.08,1413.43 615.55,1413.08 616.02,1412.73 616.5,1412.38 616.97,1412.03 617.44,1411.67 617.92,1411.32 618.39,1410.97 618.86,1410.62 619.34,1410.26 619.81,1409.91 620.28,1409.56 620.76,1409.21 621.23,1408.85 621.7,1408.5 622.18,1408.15 622.65,1407.8 623.12,1407.45 623.6,1407.09 624.07,1406.74 624.54,1406.39 625.02,1406.04 625.49,1405.69 625.96,1405.34 626.44,1404.99 626.91,1404.64 627.38,1404.29 627.86,1403.94 628.33,1403.58 628.8,1403.23 629.28,1402.88 629.75,1402.52 630.22,1402.17 630.69,1401.81 631.17,1401.45 631.64,1401.09 632.11,1400.73 632.59,1400.36 633.06,1399.99 633.53,1399.62 634.01,1399.25 634.48,1398.87 634.95,1398.49 635.43,1398.11 635.9,1397.73 636.37,1397.35 636.85,1396.96 637.32,1396.58 637.79,1396.19 638.27,1395.8 638.74,1395.41 639.21,1395.02 639.69,1394.63 640.16,1394.24 640.63,1393.85 641.11,1393.46 641.58,1393.07 642.05,1392.68 642.53,1392.28 643,1391.89 643.47,1391.5 643.95,1391.11 644.42,1390.72 644.89,1390.33 645.37,1389.94 645.84,1389.55 646.31,1389.16 646.79,1388.78 647.26,1388.39 647.73,1388.01 648.21,1387.63 648.68,1387.25 649.15,1386.87 649.63,1386.5 650.1,1386.12 650.57,1385.75 651.05,1385.38 651.52,1385.01 651.99,1384.65 652.47,1384.29 652.94,1383.93 653.41,1383.57 653.89,1383.22 654.36,1382.87 654.83,1382.53 655.31,1382.18 655.78,1381.84 656.25,1381.51 656.73,1381.18 657.2,1380.85 657.67,1380.53 658.15,1380.21 658.62,1379.89 659.09,1379.58 659.57,1379.28 660.04,1378.98 660.51,1378.68 660.99,1378.39 661.46,1378.1 661.93,1377.81 662.41,1377.53 662.88,1377.24 663.35,1376.95 663.83,1376.67 664.3,1376.39 664.77,1376.1 665.25,1375.82 665.72,1375.54 666.19,1375.26 666.67,1374.99 667.14,1374.71 667.61,1374.44 668.09,1374.17 668.56,1373.9 669.03,1373.63 669.51,1373.37 669.98,1373.11 670.45,1372.85 670.93,1372.6 671.4,1372.34 671.87,1372.09 672.35,1371.85 672.82,1371.6 673.29,1371.37 673.77,1371.13 674.24,1370.9 674.71,1370.67 675.19,1370.45 675.66,1370.23 676.13,1370.01 676.61,1369.8 677.08,1369.59 677.55,1369.39 678.03,1369.19 678.5,1369 678.97,1368.81 679.45,1368.63 679.92,1368.45 680.39,1368.28 680.87,1368.11 681.34,1367.95 681.81,1367.79 682.29,1367.64 682.76,1367.48 683.23,1367.32 683.71,1367.17 684.18,1367.01 684.65,1366.86 685.13,1366.71 685.6,1366.56 686.07,1366.41 686.55,1366.26 687.02,1366.11 687.49,1365.97 687.97,1365.82 688.44,1365.68 688.91,1365.54 689.39,1365.4 689.86,1365.26 690.33,1365.13 690.81,1364.99 691.28,1364.86 691.75,1364.73 692.23,1364.6 692.7,1364.47 693.17,1364.34 693.65,1364.22 694.12,1364.1 694.59,1363.98 695.07,1363.86 695.54,1363.75 696.01,1363.63 696.49,1363.52 696.96,1363.41 697.43,1363.31 697.91,1363.2 698.38,1363.1 698.85,1363 699.33,1362.91 699.8,1362.82 700.27,1362.72 700.75,1362.64 701.22,1362.55 701.69,1362.47 702.17,1362.39 702.64,1362.31 703.11,1362.24 703.59,1362.16 704.06,1362.1 704.53,1362.03 705.01,1361.97 705.48,1361.91 705.95,1361.85 706.43,1361.8 706.9,1361.75 707.37,1361.7 707.85,1361.65 708.32,1361.6 708.79,1361.55 709.27,1361.51 709.74,1361.46 710.21,1361.41 710.69,1361.37 711.16,1361.33 711.63,1361.28 712.11,1361.24 712.58,1361.2 713.05,1361.16 713.53,1361.12 714,1361.08 714.47,1361.04 714.95,1361 715.42,1360.96 715.89,1360.92 716.37,1360.89 716.84,1360.85 717.31,1360.82 717.79,1360.78 718.26,1360.75 718.73,1360.72 719.21,1360.68 719.68,1360.65 720.15,1360.62 720.63,1360.59 721.1,1360.56 721.57,1360.53 722.05,1360.5 722.52,1360.48 722.99,1360.45 723.47,1360.42 723.94,1360.4 724.41,1360.37 724.89,1360.35 725.36,1360.32 725.83,1360.3 726.31,1360.28 726.78,1360.25 727.25,1360.23 727.73,1360.21 728.2,1360.19 728.67,1360.17 729.15,1360.15 729.62,1360.13 730.09,1360.11 730.57,1360.1 731.04,1360.08 731.51,1360.06 731.99,1360.05 732.46,1360.03 732.93,1360.01 733.41,1360 733.88,1359.98 734.35,1359.97 734.83,1359.95 735.3,1359.93 735.77,1359.92 736.25,1359.9 736.72,1359.89 737.19,1359.87 737.67,1359.85 738.14,1359.84 738.61,1359.82 739.09,1359.81 739.56,1359.79 740.03,1359.78 740.51,1359.76 740.98,1359.75 741.45,1359.73 741.93,1359.72 742.4,1359.7 742.87,1359.69 743.35,1359.67 743.82,1359.66 744.29,1359.64 744.77,1359.63 745.24,1359.61 745.71,1359.6 746.19,1359.58 746.66,1359.57 747.13,1359.56 747.61,1359.54 748.08,1359.53 748.55,1359.51 749.03,1359.5 749.5,1359.49 749.97,1359.47 750.45,1359.46 750.92,1359.45 751.39,1359.43 751.87,1359.42 752.34,1359.41 752.81,1359.39 753.29,1359.38 753.76,1359.37 754.23,1359.35 754.71,1359.34 755.18,1359.33 755.65,1359.32 756.13,1359.3 756.6,1359.29 757.07,1359.28 757.55,1359.27 758.02,1359.26 758.49,1359.25 758.96,1359.23 759.44,1359.22 759.91,1359.21 760.38,1359.2 760.86,1359.19 761.33,1359.18 761.8,1359.17 762.28,1359.16 762.75,1359.15 763.22,1359.13 763.7,1359.12 764.17,1359.11 764.64,1359.1 765.12,1359.09 765.59,1359.08 766.06,1359.07 766.54,1359.06 767.01,1359.06 767.48,1359.05 767.96,1359.04 768.43,1359.03 768.9,1359.02 769.38,1359.01 769.85,1359 770.32,1358.99 770.8,1358.99 771.27,1358.98 771.74,1358.97 772.22,1358.96 772.69,1358.95 773.16,1358.95 773.64,1358.94 774.11,1358.93 774.58,1358.92 775.06,1358.92 775.53,1358.91 776,1358.9 776.48,1358.9 776.95,1358.89 777.42,1358.89 777.9,1358.88 778.37,1358.87 778.84,1358.87 779.32,1358.86 779.79,1358.86 780.26,1358.85 780.74,1358.85 781.21,1358.84 781.68,1358.84 782.16,1358.83 782.63,1358.83 783.1,1358.83 783.58,1358.82 784.05,1358.82 784.52,1358.81 785,1358.81 785.47,1358.81 785.94,1358.8 786.42,1358.8 786.89,1358.8 787.36,1358.8 787.84,1358.79 788.31,1358.79 788.78,1358.79 789.26,1358.79 789.73,1358.79 790.2,1358.79 790.68,1358.78 791.15,1358.78 791.62,1358.78 792.1,1358.78 792.57,1358.78 793.04,1358.78" fill="none" stroke="#cf85bd" stroke-width="2.0" stroke-linejoin="round" stroke-linecap="butt"/>
<polyline points="178.2,1702.6 275.8,1197.48" fill="none" stroke="#000" stroke-width="2.4" stroke-linejoin="round" stroke-linecap="butt" stroke-dasharray="8.6,4.4"/>
<polyline points="274.94,1231.68 793.04,1635.88" fill="none" stroke="#000" stroke-width="2.4" stroke-linejoin="round" stroke-linecap="butt" stroke-dasharray="8.6,4.4"/>
<polyline points="274.94,1679.6 793.04,1273.82" fill="none" stroke="#000" stroke-width="2.4" stroke-linejoin="round" stroke-linecap="butt" stroke-dasharray="8.6,4.4"/>
<polyline points="1014.3,1585.67 1015.25,1533.46 1016.2,1487.05 1017.15,1458.05 1018.1,1417.44 1019.05,1394.23 1020,1365.23 1020.95,1417.44 1021.9,1475.45 1022.85,1521.86 1023.8,1556.66 1024.75,1585.67 1025.7,1609.45 1026.65,1585.67 1027.6,1536.25 1028.55,1509.41 1029.5,1531.42 1030.46,1525.01 1031.41,1520.26 1032.36,1505.65 1033.31,1500.91 1034.26,1473.64 1035.21,1505.71 1036.16,1499.19 1037.11,1463.01 1038.06,1457.41 1039.01,1450.51 1039.96,1445.16 1040.91,1443.6 1041.86,1445.05 1042.81,1429.06 1043.76,1462.21 1044.71,1449.44 1045.66,1413.42 1046.61,1439.87 1047.56,1414.78 1048.51,1424.89 1049.46,1409.31 1050.41,1380.18 1051.36,1384.39 1052.31,1390.94 1053.26,1394.84 1054.21,1357.86 1055.16,1360.18 1056.11,1366.41 1057.06,1335.04 1058.01,1338.71 1058.96,1315.31 1059.91,1326.85 1060.86,1306.27 1061.82,1278.21 1062.77,1303.1 1063.72,1295.62 1064.67,1324.38 1065.62,1259.07 1066.57,1313.02 1067.52,1322.69 1068.47,1332.36 1069.42,1342.03 1070.37,1367.16 1071.32,1392.3 1072.27,1417.44 1073.22,1429.04 1074.17,1440.64 1075.12,1452.24 1076.07,1473.51 1077.02,1494.78 1077.97,1516.06 1078.92,1524.76 1079.87,1533.46 1080.82,1568.26 1081.77,1603.07 1082.72,1651.8 1083.67,1603.07 1084.62,1666.88 1085.57,1637.88 1086.52,1655.28 1087.47,1585.67 1088.42,1626.27 1089.37,1598.88 1090.32,1606.95 1091.27,1551.52 1092.22,1519.37 1093.17,1568.08 1094.13,1621.96 1095.08,1611.79 1096.03,1519.49 1096.98,1569.46 1097.93,1638.77 1098.88,1579.19 1099.83,1617.73 1100.78,1598.16 1101.73,1592.7 1102.68,1600.42 1103.63,1554.49 1104.58,1576.28 1105.53,1594.83 1106.48,1558.52 1107.43,1543.03 1108.38,1631.58 1109.33,1581.34 1110.28,1607 1111.23,1577.56 1112.18,1617.33 1113.13,1569.82 1114.08,1571.54 1115.03,1580.73 1115.98,1607.09 1116.93,1583.25 1117.88,1607.86 1118.83,1616.96 1119.78,1559.74 1120.73,1607.33 1121.68,1524.94 1122.63,1540.86 1123.58,1638.09 1124.53,1556.05 1125.49,1605.06 1126.44,1563.85 1127.39,1563.07 1128.34,1635.75 1129.29,1572.22 1130.24,1572.62 1131.19,1528.42 1132.14,1605.1 1133.09,1535.66 1134.04,1601.32 1134.99,1573.3 1135.94,1591.2 1136.89,1508.45 1137.84,1539.71 1138.79,1478.51 1139.74,1536.22 1140.69,1528.5 1141.64,1528.24 1142.59,1579.87 1143.54,1560.15 1144.49,1508.64 1145.44,1571.05 1146.39,1549.58 1147.34,1556.7 1148.29,1533.6 1149.24,1568.21 1150.19,1560.14 1151.14,1545.51 1152.09,1550.09 1153.04,1584.47 1153.99,1520.71 1154.94,1599.2 1155.89,1595.26 1156.85,1597.75 1157.8,1516.41 1158.75,1563.72 1159.7,1585.23 1160.65,1590.72 1161.6,1534.27 1162.55,1586.91 1163.5,1594.28 1164.45,1526 1165.4,1590.67 1166.35,1558.78 1167.3,1546.98 1168.25,1562.3 1169.2,1547.77 1170.15,1497.22 1171.1,1563.51 1172.05,1589.75 1173,1610.06 1173.95,1550.9 1174.9,1555.75 1175.85,1533.08 1176.8,1558.85 1177.75,1558.9 1178.7,1567.16 1179.65,1559.44 1180.6,1534.52 1181.55,1553.49 1182.5,1535.72 1183.45,1470.48 1184.4,1521.16 1185.35,1594.6 1186.3,1475.08 1187.25,1524.44 1188.2,1570.33 1189.16,1503.37 1190.11,1534.87 1191.06,1557.15 1192.01,1557.32 1192.96,1569.77 1193.91,1531.82 1194.86,1494.62 1195.81,1544.26 1196.76,1516.94 1197.71,1464.12 1198.66,1574.77 1199.61,1521.32 1200.56,1541.1 1201.51,1567.68 1202.46,1565.97 1203.41,1529.12 1204.36,1512.46 1205.31,1546.67 1206.26,1525.09 1207.21,1500.56 1208.16,1515.35 1209.11,1494.26 1210.06,1508.39 1211.01,1506.92 1211.96,1458.25 1212.91,1501.01 1213.86,1518.25 1214.81,1496.84 1215.76,1554.91 1216.71,1533.47 1217.66,1492.26 1218.61,1497.57 1219.56,1464.04 1220.52,1518.81 1221.47,1571.25 1222.42,1448.08 1223.37,1478.26 1224.32,1555.11 1225.27,1467 1226.22,1514.77 1227.17,1580.63 1228.12,1529.96 1229.07,1532.59 1230.02,1456.52 1230.97,1541.66 1231.92,1521.74 1232.87,1522.01 1233.82,1525.13 1234.77,1543.81 1235.72,1502.49 1236.67,1471.07 1237.62,1486.79 1238.57,1542.02 1239.52,1549.44 1240.47,1503.23 1241.42,1532.35 1242.37,1529.02 1243.32,1566.19 1244.27,1435.04 1245.22,1471.64 1246.17,1539.05 1247.12,1470.76 1248.07,1454.55 1249.02,1577.66 1249.97,1521.39 1250.92,1515 1251.88,1477.13 1252.83,1504.22 1253.78,1507.53 1254.73,1500.74 1255.68,1431.37 1256.63,1419.73 1257.58,1515.68 1258.53,1529.5 1259.48,1414.35 1260.43,1530.19 1261.38,1514.95 1262.33,1492.39 1263.28,1475.69 1264.23,1455.43 1265.18,1477.75 1266.13,1522.55 1267.08,1472.33 1268.03,1480.91 1268.98,1421.75 1269.93,1489.16 1270.88,1536.06 1271.83,1524.91 1272.78,1434.51 1273.73,1505.44 1274.68,1560.77 1275.63,1505.59 1276.58,1484.04 1277.53,1440.62 1278.48,1519.2 1279.43,1458.06 1280.38,1452.76 1281.33,1505.85 1282.28,1486.76 1283.23,1415.7 1284.19,1416.77 1285.14,1447.2 1286.09,1465.34 1287.04,1435.65 1287.99,1480.96 1288.94,1478.62 1289.89,1505.45 1290.84,1473.6 1291.79,1476.04 1292.74,1391.17 1293.69,1478.61 1294.64,1425.26 1295.59,1422.75 1296.54,1476.23 1297.49,1426.75 1298.44,1543.49 1299.39,1463.94 1300.34,1435.79 1301.29,1541.3 1302.24,1506.84 1303.19,1426.43 1304.14,1472.91 1305.09,1502.42 1306.04,1475.6 1306.99,1480.93 1307.94,1434.6 1308.89,1443.57 1309.84,1469.22 1310.79,1482.3 1311.74,1459.54 1312.69,1409.17 1313.64,1443.5 1314.59,1432.29 1315.55,1459.91 1316.5,1500.17 1317.45,1478.48 1318.4,1428.7 1319.35,1447.61 1320.3,1483.03 1321.25,1507.91 1322.2,1444.93 1323.15,1460.31 1324.1,1459.89 1325.05,1458.32 1326,1435.44 1326.95,1434.23 1327.9,1409.39 1328.85,1409.77 1329.8,1394.41 1330.75,1412.48 1331.7,1452.71 1332.65,1441.74 1333.6,1421.16 1334.55,1449.24 1335.5,1417.46 1336.45,1394.86 1337.4,1464.3 1338.35,1498.29 1339.3,1390.8 1340.25,1432.22 1341.2,1406.48 1342.15,1479 1343.1,1367.86 1344.05,1402.72 1345,1432.92 1345.95,1440.14 1346.9,1422.47 1347.86,1431.65 1348.81,1434.76 1349.76,1464.08 1350.71,1377.46 1351.66,1423.37 1352.61,1418.33 1353.56,1416.73 1354.51,1494.53 1355.46,1399.21 1356.41,1429.05 1357.36,1426.65 1358.31,1412.77 1359.26,1449.29 1360.21,1383 1361.16,1437.38 1362.11,1443.87 1363.06,1441.39 1364.01,1403.67 1364.96,1381.56 1365.91,1428.78 1366.86,1460.68 1367.81,1367.13 1368.76,1442.63 1369.71,1360.32 1370.66,1404.22 1371.61,1426.34 1372.56,1423.2 1373.51,1382.52 1374.46,1366.09 1375.41,1404.14 1376.36,1361.89 1377.31,1319.82 1378.26,1401.29 1379.22,1434.06 1380.17,1429.55 1381.12,1440.54 1382.07,1412.44 1383.02,1414.36 1383.97,1434.87 1384.92,1367.02 1385.87,1460.47 1386.82,1431.51 1387.77,1310.48 1388.72,1344.57 1389.67,1362.03 1390.62,1363.32 1391.57,1314.99 1392.52,1358.34 1393.47,1373.72 1394.42,1419.66 1395.37,1376.96 1396.32,1399.6 1397.27,1397.48 1398.22,1396.65 1399.17,1371.43 1400.12,1380.55 1401.07,1336.21 1402.02,1414.09 1402.97,1371.32 1403.92,1297.18 1404.87,1361.49 1405.82,1318.59 1406.77,1319.62 1407.72,1311.96 1408.67,1331.56 1409.62,1406.54 1410.58,1365.29 1411.53,1368.12 1412.48,1408.91 1413.43,1368.64 1414.38,1395.66 1415.33,1409.34 1416.28,1340.58 1417.23,1348.46 1418.18,1370.34 1419.13,1378.49 1420.08,1362.47 1421.03,1355.86 1421.98,1355.04 1422.93,1340.93 1423.88,1353.35 1424.83,1322.42 1425.78,1316.17 1426.73,1320.74 1427.68,1356.08 1428.63,1353.02 1429.58,1313.81 1430.53,1335.13 1431.48,1328.17 1432.43,1400.61 1433.38,1399.17 1434.33,1310.18 1435.28,1309 1436.23,1269.27 1437.18,1291.97 1438.13,1308.44 1439.08,1314.33 1440.03,1364.72 1440.98,1280.12 1441.93,1332.06 1442.89,1290.73 1443.84,1300.05 1444.79,1295.9 1445.74,1272 1446.69,1320.13 1447.64,1314.84 1448.59,1330.08 1449.54,1311.23 1450.49,1236.11 1451.44,1307.45 1452.39,1250.07 1453.34,1261.33 1454.29,1263.12 1455.24,1258.77 1456.19,1322.41 1457.14,1270.77 1458.09,1225.33 1459.04,1305.73 1459.99,1280.63 1460.94,1237.61 1461.89,1284.02 1462.84,1220.2 1463.79,1313.02 1464.74,1226.01 1465.69,1197 1466.64,1227.81 1467.59,1278.65 1468.54,1210.76 1469.49,1217.6 1470.44,1197.12 1471.39,1249.48 1472.34,1240.47 1473.29,1199.38 1474.25,1245.82 1475.2,1206.57 1476.15,1244.9 1477.1,1252.67 1478.05,1258.28 1479,1264.2 1479.95,1243.97 1480.9,1269.02 1481.85,1207.16 1482.8,1197 1483.75,1274.97 1484.7,1278.93 1485.65,1283.67 1486.6,1197.5 1487.55,1277.16 1488.5,1220.88 1489.45,1255.81 1490.4,1197 1491.35,1197 1492.3,1197 1493.25,1197 1494.2,1197 1495.15,1197 1496.1,1197 1497.05,1197 1498,1197 1498.95,1197 1499.9,1197 1500.85,1197 1501.8,1197 1502.75,1197 1503.7,1197 1504.65,1197 1505.61,1197 1506.56,1197 1507.51,1197 1508.46,1197 1509.41,1197 1510.36,1197 1511.31,1197 1512.26,1197 1513.21,1197 1514.16,1197 1515.11,1197 1516.06,1197 1517.01,1197 1517.96,1197 1518.91,1197 1519.86,1197 1520.81,1197 1521.76,1197 1522.71,1197 1523.66,1197 1524.61,1197 1525.56,1197 1526.51,1197 1527.46,1197 1528.41,1197 1529.36,1197 1530.31,1197 1531.26,1197 1532.21,1197 1533.16,1197 1534.11,1197 1535.06,1197 1536.01,1197 1536.96,1197 1537.92,1197 1538.87,1197 1539.82,1197 1540.77,1197 1541.72,1197 1542.67,1197 1543.62,1197 1544.57,1197 1545.52,1197 1546.47,1197 1547.42,1197 1548.37,1197 1549.32,1197 1550.27,1197 1551.22,1197 1552.17,1197 1553.12,1197 1554.07,1197 1555.02,1197 1555.97,1197 1556.92,1197 1557.87,1197 1558.82,1197 1559.77,1197 1560.72,1197 1561.67,1197 1562.62,1197 1563.57,1197 1564.52,1197 1565.47,1197 1566.42,1197 1567.37,1197 1568.32,1197 1569.28,1197 1570.23,1197 1571.18,1197 1572.13,1197 1573.08,1197 1574.03,1197 1574.98,1197 1575.93,1197 1576.88,1197 1577.83,1197 1578.78,1197 1579.73,1197 1580.68,1197 1581.63,1197 1582.58,1197 1583.53,1197 1584.48,1197 1585.43,1197 1586.38,1197 1587.33,1197 1588.28,1197 1589.23,1197 1590.18,1197 1591.13,1197 1592.08,1197 1593.03,1197 1593.98,1197 1594.93,1197 1595.88,1197 1596.83,1197 1597.78,1197 1598.73,1197 1599.68,1197 1600.64,1197 1601.59,1197 1602.54,1197 1603.49,1197 1604.44,1197 1605.39,1197 1606.34,1197 1607.29,1197 1608.24,1197 1609.19,1197 1610.14,1197 1611.09,1197 1612.04,1197 1612.99,1197 1613.94,1197 1614.89,1197 1615.84,1197 1616.79,1197 1617.74,1197 1618.69,1197 1619.64,1197 1620.59,1197 1621.54,1197 1622.49,1197 1623.44,1197 1624.39,1197 1625.34,1197 1626.29,1197 1627.24,1197 1628.19,1197 1629.14,1197" fill="none" stroke="#a9d5e3" stroke-width="2.0" stroke-linejoin="miter" stroke-linecap="butt"/>
<polyline points="1014.3,1592.05 1014.76,1590.56 1015.22,1589.05 1015.67,1587.54 1016.13,1586.01 1016.59,1584.47 1017.05,1582.92 1017.51,1581.35 1017.96,1579.77 1018.42,1578.18 1018.88,1576.58 1019.34,1574.97 1019.79,1573.34 1020.25,1571.69 1020.71,1570.04 1021.17,1568.37 1021.63,1566.69 1022.08,1564.99 1022.54,1563.28 1023,1561.56 1023.46,1559.82 1023.92,1558.07 1024.37,1556.31 1024.83,1554.53 1025.29,1552.73 1025.75,1550.92 1026.2,1549.1 1026.66,1547.26 1027.12,1545.41 1027.58,1543.54 1028.04,1541.66 1028.49,1539.76 1028.95,1537.85 1029.41,1535.92 1029.87,1533.98 1030.33,1532.02 1030.78,1530.04 1031.24,1528.05 1031.7,1526.05 1032.16,1524.02 1032.61,1521.98 1033.07,1519.93 1033.53,1517.85 1033.99,1515.77 1034.45,1513.66 1034.9,1511.54 1035.36,1509.4 1035.82,1507.24 1036.28,1505.06 1036.74,1502.87 1037.19,1500.66 1037.65,1498.43 1038.11,1496.19 1038.57,1493.92 1039.03,1491.64 1039.48,1489.34 1039.94,1487.02 1040.4,1484.68 1040.86,1482.33 1041.31,1479.95 1041.77,1477.56 1042.23,1475.14 1042.69,1472.71 1043.15,1470.25 1043.6,1467.78 1044.06,1465.29 1044.52,1462.78 1044.98,1460.24 1045.44,1457.69 1045.89,1455.11 1046.35,1452.52 1046.81,1449.9 1047.27,1447.27 1047.72,1444.61 1048.18,1441.93 1048.64,1439.23 1049.1,1436.5 1049.56,1433.76 1050.01,1430.99 1050.47,1428.2 1050.93,1425.39 1051.39,1422.56 1051.85,1419.7 1052.3,1416.82 1052.76,1413.92 1053.22,1410.99 1053.68,1408.04 1054.13,1405.06 1054.59,1402.06 1055.05,1399.04 1055.51,1396 1055.97,1392.92 1056.42,1389.83 1056.88,1386.71 1057.34,1383.56 1057.8,1380.39 1058.26,1377.19 1058.71,1373.97 1059.17,1370.72 1059.63,1367.44" fill="none" stroke="#14148c" stroke-width="2.2" stroke-linejoin="round" stroke-linecap="butt"/>
<polyline points="1072.74,1592.44 1074.05,1592.08 1075.35,1591.72 1076.65,1591.35 1077.95,1590.99 1079.25,1590.62 1080.55,1590.25 1081.86,1589.88 1083.16,1589.51 1084.46,1589.13 1085.76,1588.76 1087.06,1588.38 1088.37,1588 1089.67,1587.62 1090.97,1587.24 1092.27,1586.86 1093.57,1586.47 1094.87,1586.08 1096.18,1585.7 1097.48,1585.31 1098.78,1584.92 1100.08,1584.52 1101.38,1584.13 1102.69,1583.73 1103.99,1583.33 1105.29,1582.93 1106.59,1582.53 1107.89,1582.13 1109.19,1581.72 1110.5,1581.31 1111.8,1580.9 1113.1,1580.49 1114.4,1580.08 1115.7,1579.67 1117.01,1579.25 1118.31,1578.83 1119.61,1578.41 1120.91,1577.99 1122.21,1577.57 1123.51,1577.14 1124.82,1576.71 1126.12,1576.28 1127.42,1575.85 1128.72,1575.42 1130.02,1574.98 1131.33,1574.54 1132.63,1574.1 1133.93,1573.66 1135.23,1573.22 1136.53,1572.77 1137.83,1572.33 1139.14,1571.88 1140.44,1571.42 1141.74,1570.97 1143.04,1570.51 1144.34,1570.06 1145.65,1569.6 1146.95,1569.13 1148.25,1568.67 1149.55,1568.2 1150.85,1567.73 1152.15,1567.26 1153.46,1566.79 1154.76,1566.31 1156.06,1565.84 1157.36,1565.35 1158.66,1564.87 1159.97,1564.39 1161.27,1563.9 1162.57,1563.41 1163.87,1562.92 1165.17,1562.42 1166.47,1561.93 1167.78,1561.43 1169.08,1560.93 1170.38,1560.42 1171.68,1559.92 1172.98,1559.41 1174.29,1558.9 1175.59,1558.38 1176.89,1557.87 1178.19,1557.35 1179.49,1556.82 1180.79,1556.3 1182.1,1555.77 1183.4,1555.24 1184.7,1554.71 1186,1554.18 1187.3,1553.64 1188.61,1553.1 1189.91,1552.56 1191.21,1552.01 1192.51,1551.46 1193.81,1550.91 1195.11,1550.36 1196.42,1549.8 1197.72,1549.24 1199.02,1548.68 1200.32,1548.11 1201.62,1547.54 1202.93,1546.97 1204.23,1546.39 1205.53,1545.82 1206.83,1545.24 1208.13,1544.65 1209.43,1544.07 1210.74,1543.48 1212.04,1542.88 1213.34,1542.29 1214.64,1541.69 1215.94,1541.08 1217.24,1540.48 1218.55,1539.87 1219.85,1539.26 1221.15,1538.64 1222.45,1538.02 1223.75,1537.4 1225.06,1536.77 1226.36,1536.14 1227.66,1535.51 1228.96,1534.87 1230.26,1534.23 1231.56,1533.59 1232.87,1532.94 1234.17,1532.29 1235.47,1531.64 1236.77,1530.98 1238.07,1530.32 1239.38,1529.66 1240.68,1528.99 1241.98,1528.31 1243.28,1527.64 1244.58,1526.96 1245.88,1526.27 1247.19,1525.58 1248.49,1524.89 1249.79,1524.2 1251.09,1523.5 1252.39,1522.79 1253.7,1522.08 1255,1521.37 1256.3,1520.66 1257.6,1519.93 1258.9,1519.21 1260.2,1518.48 1261.51,1517.75 1262.81,1517.01 1264.11,1516.27 1265.41,1515.52 1266.71,1514.77 1268.02,1514.01 1269.32,1513.25 1270.62,1512.49 1271.92,1511.72 1273.22,1510.95 1274.52,1510.17 1275.83,1509.38 1277.13,1508.59 1278.43,1507.8 1279.73,1507 1281.03,1506.2 1282.34,1505.39 1283.64,1504.58 1284.94,1503.76 1286.24,1502.94 1287.54,1502.11 1288.84,1501.28 1290.15,1500.44 1291.45,1499.59 1292.75,1498.74 1294.05,1497.89 1295.35,1497.03 1296.66,1496.16 1297.96,1495.29 1299.26,1494.41 1300.56,1493.53 1301.86,1492.64 1303.16,1491.75 1304.47,1490.85 1305.77,1489.94 1307.07,1489.03 1308.37,1488.11 1309.67,1487.19 1310.98,1486.26 1312.28,1485.32 1313.58,1484.38 1314.88,1483.43 1316.18,1482.47 1317.48,1481.51 1318.79,1480.54 1320.09,1479.57 1321.39,1478.59 1322.69,1477.6 1323.99,1476.6 1325.3,1475.6 1326.6,1474.59 1327.9,1473.58 1329.2,1472.55 1330.5,1471.52 1331.8,1470.49 1333.11,1469.44 1334.41,1468.39 1335.71,1467.33 1337.01,1466.26 1338.31,1465.19 1339.62,1464.1 1340.92,1463.01 1342.22,1461.91 1343.52,1460.81 1344.82,1459.69 1346.12,1458.57 1347.43,1457.44 1348.73,1456.3 1350.03,1455.15 1351.33,1454 1352.63,1452.83 1353.94,1451.66 1355.24,1450.48 1356.54,1449.29 1357.84,1448.09 1359.14,1446.88 1360.44,1445.66 1361.75,1444.43 1363.05,1443.19 1364.35,1441.95 1365.65,1440.69 1366.95,1439.43 1368.26,1438.15 1369.56,1436.86 1370.86,1435.57 1372.16,1434.26 1373.46,1432.95 1374.76,1431.62 1376.07,1430.28 1377.37,1428.93 1378.67,1427.57 1379.97,1426.2 1381.27,1424.82 1382.58,1423.43 1383.88,1422.03 1385.18,1420.61 1386.48,1419.18 1387.78,1417.75 1389.08,1416.3 1390.39,1414.83 1391.69,1413.36 1392.99,1411.87 1394.29,1410.37 1395.59,1408.86 1396.9,1407.33 1398.2,1405.79 1399.5,1404.24 1400.8,1402.68 1402.1,1401.1 1403.4,1399.5 1404.71,1397.9 1406.01,1396.28 1407.31,1394.64 1408.61,1392.99 1409.91,1391.33 1411.22,1389.65 1412.52,1387.95 1413.82,1386.24 1415.12,1384.52 1416.42,1382.78 1417.72,1381.02 1419.03,1379.25 1420.33,1377.46 1421.63,1375.66 1422.93,1373.83 1424.23,1371.99 1425.54,1370.14 1426.84,1368.26 1428.14,1366.37 1429.44,1364.46 1430.74,1362.53 1432.04,1360.58 1433.35,1358.62 1434.65,1356.63 1435.95,1354.63 1437.25,1352.6 1438.55,1350.56 1439.86,1348.5 1441.16,1346.41 1442.46,1344.3 1443.76,1342.18 1445.06,1340.03 1446.36,1337.86 1447.67,1335.67 1448.97,1333.45 1450.27,1331.21 1451.57,1328.95 1452.87,1326.67 1454.18,1324.36 1455.48,1322.03 1456.78,1319.67 1458.08,1317.28 1459.38,1314.88 1460.68,1312.44 1461.99,1309.98" fill="none" stroke="#14148c" stroke-width="2.2" stroke-linejoin="round" stroke-linecap="butt"/>
<rect x="147.9" y="8.8" width="675.9" height="530.1" fill="none" stroke="#2a2a2a" stroke-width="1.8"/>
<line x1="178.2" y1="538.9" x2="178.2" y2="544.4" stroke="#2a2a2a" stroke-width="1.5"/>
<text x="178.2" y="568.1" font-family='"DejaVu Sans", "Liberation Sans", sans-serif' font-size="22.7" text-anchor="middle" fill="#111" stroke="#111" stroke-width="0.35">0</text>
<line x1="273.23" y1="538.9" x2="273.23" y2="544.4" stroke="#2a2a2a" stroke-width="1.5"/>
<text x="273.23" y="568.1" font-family='"DejaVu Sans", "Liberation Sans", sans-serif' font-size="22.7" text-anchor="middle" fill="#111" stroke="#111" stroke-width="0.35">100</text>
<line x1="368.26" y1="538.9" x2="368.26" y2="544.4" stroke="#2a2a2a" stroke-width="1.5"/>
<text x="368.26" y="568.1" font-family='"DejaVu Sans", "Liberation Sans", sans-serif' font-size="22.7" text-anchor="middle" fill="#111" stroke="#111" stroke-width="0.35">200</text>
<line x1="463.29" y1="538.9" x2="463.29" y2="544.4" stroke="#2a2a2a" stroke-width="1.5"/>
<text x="463.29" y="568.1" font-family='"DejaVu Sans", "Liberation Sans", sans-serif' font-size="22.7" text-anchor="middle" fill="#111" stroke="#111" stroke-width="0.35">300</text>
<line x1="558.32" y1="538.9" x2="558.32" y2="544.4" stroke="#2a2a2a" stroke-width="1.5"/>
<text x="558.32" y="568.1" font-family='"DejaVu Sans", "Liberation Sans", sans-serif' font-size="22.7" text-anchor="middle" fill="#111" stroke="#111" stroke-width="0.35">400</text>
<line x1="653.35" y1="538.9" x2="653.35" y2="544.4" stroke="#2a2a2a" stroke-width="1.5"/>
<text x="653.35" y="568.1" font-family='"DejaVu Sans", "Liberation Sans", sans-serif' font-size="22.7" text-anchor="middle" fill="#111" stroke="#111" stroke-width="0.35">500</text>
<line x1="748.38" y1="538.9" x2="748.38" y2="544.4" stroke="#2a2a2a" stroke-width="1.5"/>
<text x="748.38" y="568.1" font-family='"DejaVu Sans", "Liberation Sans", sans-serif' font-size="22.7" text-anchor="middle" fill="#111" stroke="#111" stroke-width="0.35">600</text>
<rect x="147.9" y="590.7" width="675.9" height="530" fill="none" stroke="#2a2a2a" stroke-width="1.8"/>
<line x1="178.2" y1="1120.7" x2="178.2" y2="1126.2" stroke="#2a2a2a" stroke-width="1.5"/>
<text x="178.2" y="1149.9" font-family='"DejaVu Sans", "Liberation Sans", sans-serif' font-size="22.7" text-anchor="middle" fill="#111" stroke="#111" stroke-width="0.35">0</text>
<line x1="273.23" y1="1120.7" x2="273.23" y2="1126.2" stroke="#2a2a2a" stroke-width="1.5"/>
<text x="273.23" y="1149.9" font-family='"DejaVu Sans", "Liberation Sans", sans-serif' font-size="22.7" text-anchor="middle" fill="#111" stroke="#111" stroke-width="0.35">100</text>
<line x1="368.26" y1="1120.7" x2="368.26" y2="1126.2" stroke="#2a2a2a" stroke-width="1.5"/>
<text x="368.26" y="1149.9" font-family='"DejaVu Sans", "Liberation Sans", sans-serif' font-size="22.7" text-anchor="middle" fill="#111" stroke="#111" stroke-width="0.35">200</text>
<line x1="463.29" y1="1120.7" x2="463.29" y2="1126.2" stroke="#2a2a2a" stroke-width="1.5"/>
<text x="463.29" y="1149.9" font-family='"DejaVu Sans", "Liberation Sans", sans-serif' font-size="22.7" text-anchor="middle" fill="#111" stroke="#111" stroke-width="0.35">300</text>
<line x1="558.32" y1="1120.7" x2="558.32" y2="1126.2" stroke="#2a2a2a" stroke-width="1.5"/>
<text x="558.32" y="1149.9" font-family='"DejaVu Sans", "Liberation Sans", sans-serif' font-size="22.7" text-anchor="middle" fill="#111" stroke="#111" stroke-width="0.35">400</text>
<line x1="653.35" y1="1120.7" x2="653.35" y2="1126.2" stroke="#2a2a2a" stroke-width="1.5"/>
<text x="653.35" y="1149.9" font-family='"DejaVu Sans", "Liberation Sans", sans-serif' font-size="22.7" text-anchor="middle" fill="#111" stroke="#111" stroke-width="0.35">500</text>
<line x1="748.38" y1="1120.7" x2="748.38" y2="1126.2" stroke="#2a2a2a" stroke-width="1.5"/>
<text x="748.38" y="1149.9" font-family='"DejaVu Sans", "Liberation Sans", sans-serif' font-size="22.7" text-anchor="middle" fill="#111" stroke="#111" stroke-width="0.35">600</text>
<rect x="147.9" y="1173.1" width="675.9" height="529.5" fill="none" stroke="#2a2a2a" stroke-width="1.8"/>
<line x1="178.2" y1="1702.6" x2="178.2" y2="1708.1" stroke="#2a2a2a" stroke-width="1.5"/>
<text x="178.2" y="1731.8" font-family='"DejaVu Sans", "Liberation Sans", sans-serif' font-size="22.7" text-anchor="middle" fill="#111" stroke="#111" stroke-width="0.35">0</text>
<line x1="273.23" y1="1702.6" x2="273.23" y2="1708.1" stroke="#2a2a2a" stroke-width="1.5"/>
<text x="273.23" y="1731.8" font-family='"DejaVu Sans", "Liberation Sans", sans-serif' font-size="22.7" text-anchor="middle" fill="#111" stroke="#111" stroke-width="0.35">100</text>
<line x1="368.26" y1="1702.6" x2="368.26" y2="1708.1" stroke="#2a2a2a" stroke-width="1.5"/>
<text x="368.26" y="1731.8" font-family='"DejaVu Sans", "Liberation Sans", sans-serif' font-size="22.7" text-anchor="middle" fill="#111" stroke="#111" stroke-width="0.35">200</text>
<line x1="463.29" y1="1702.6" x2="463.29" y2="1708.1" stroke="#2a2a2a" stroke-width="1.5"/>
<text x="463.29" y="1731.8" font-family='"DejaVu Sans", "Liberation Sans", sans-serif' font-size="22.7" text-anchor="middle" fill="#111" stroke="#111" stroke-width="0.35">300</text>
<line x1="558.32" y1="1702.6" x2="558.32" y2="1708.1" stroke="#2a2a2a" stroke-width="1.5"/>
<text x="558.32" y="1731.8" font-family='"DejaVu Sans", "Liberation Sans", sans-serif' font-size="22.7" text-anchor="middle" fill="#111" stroke="#111" stroke-width="0.35">400</text>
<line x1="653.35" y1="1702.6" x2="653.35" y2="1708.1" stroke="#2a2a2a" stroke-width="1.5"/>
<text x="653.35" y="1731.8" font-family='"DejaVu Sans", "Liberation Sans", sans-serif' font-size="22.7" text-anchor="middle" fill="#111" stroke="#111" stroke-width="0.35">500</text>
<line x1="748.38" y1="1702.6" x2="748.38" y2="1708.1" stroke="#2a2a2a" stroke-width="1.5"/>
<text x="748.38" y="1731.8" font-family='"DejaVu Sans", "Liberation Sans", sans-serif' font-size="22.7" text-anchor="middle" fill="#111" stroke="#111" stroke-width="0.35">600</text>
<rect x="983.4" y="8.8" width="676.4" height="530.1" fill="none" stroke="#2a2a2a" stroke-width="1.8"/>
<line x1="1014.3" y1="538.9" x2="1014.3" y2="544.4" stroke="#2a2a2a" stroke-width="1.5"/>
<text x="1014.3" y="568.1" font-family='"DejaVu Sans", "Liberation Sans", sans-serif' font-size="22.7" text-anchor="middle" fill="#111" stroke="#111" stroke-width="0.35">0</text>
<line x1="1109.33" y1="538.9" x2="1109.33" y2="544.4" stroke="#2a2a2a" stroke-width="1.5"/>
<text x="1109.33" y="568.1" font-family='"DejaVu Sans", "Liberation Sans", sans-serif' font-size="22.7" text-anchor="middle" fill="#111" stroke="#111" stroke-width="0.35">100</text>
<line x1="1204.36" y1="538.9" x2="1204.36" y2="544.4" stroke="#2a2a2a" stroke-width="1.5"/>
<text x="1204.36" y="568.1" font-family='"DejaVu Sans", "Liberation Sans", sans-serif' font-size="22.7" text-anchor="middle" fill="#111" stroke="#111" stroke-width="0.35">200</text>
<line x1="1299.39" y1="538.9" x2="1299.39" y2="544.4" stroke="#2a2a2a" stroke-width="1.5"/>
<text x="1299.39" y="568.1" font-family='"DejaVu Sans", "Liberation Sans", sans-serif' font-size="22.7" text-anchor="middle" fill="#111" stroke="#111" stroke-width="0.35">300</text>
<line x1="1394.42" y1="538.9" x2="1394.42" y2="544.4" stroke="#2a2a2a" stroke-width="1.5"/>
<text x="1394.42" y="568.1" font-family='"DejaVu Sans", "Liberation Sans", sans-serif' font-size="22.7" text-anchor="middle" fill="#111" stroke="#111" stroke-width="0.35">400</text>
<line x1="1489.45" y1="538.9" x2="1489.45" y2="544.4" stroke="#2a2a2a" stroke-width="1.5"/>
<text x="1489.45" y="568.1" font-family='"DejaVu Sans", "Liberation Sans", sans-serif' font-size="22.7" text-anchor="middle" fill="#111" stroke="#111" stroke-width="0.35">500</text>
<line x1="1584.48" y1="538.9" x2="1584.48" y2="544.4" stroke="#2a2a2a" stroke-width="1.5"/>
<text x="1584.48" y="568.1" font-family='"DejaVu Sans", "Liberation Sans", sans-serif' font-size="22.7" text-anchor="middle" fill="#111" stroke="#111" stroke-width="0.35">600</text>
<rect x="983.4" y="590.7" width="676.4" height="530" fill="none" stroke="#2a2a2a" stroke-width="1.8"/>
<line x1="1014.3" y1="1120.7" x2="1014.3" y2="1126.2" stroke="#2a2a2a" stroke-width="1.5"/>
<text x="1014.3" y="1149.9" font-family='"DejaVu Sans", "Liberation Sans", sans-serif' font-size="22.7" text-anchor="middle" fill="#111" stroke="#111" stroke-width="0.35">0</text>
<line x1="1109.33" y1="1120.7" x2="1109.33" y2="1126.2" stroke="#2a2a2a" stroke-width="1.5"/>
<text x="1109.33" y="1149.9" font-family='"DejaVu Sans", "Liberation Sans", sans-serif' font-size="22.7" text-anchor="middle" fill="#111" stroke="#111" stroke-width="0.35">100</text>
<line x1="1204.36" y1="1120.7" x2="1204.36" y2="1126.2" stroke="#2a2a2a" stroke-width="1.5"/>
<text x="1204.36" y="1149.9" font-family='"DejaVu Sans", "Liberation Sans", sans-serif' font-size="22.7" text-anchor="middle" fill="#111" stroke="#111" stroke-width="0.35">200</text>
<line x1="1299.39" y1="1120.7" x2="1299.39" y2="1126.2" stroke="#2a2a2a" stroke-width="1.5"/>
<text x="1299.39" y="1149.9" font-family='"DejaVu Sans", "Liberation Sans", sans-serif' font-size="22.7" text-anchor="middle" fill="#111" stroke="#111" stroke-width="0.35">300</text>
<line x1="1394.42" y1="1120.7" x2="1394.42" y2="1126.2" stroke="#2a2a2a" stroke-width="1.5"/>
<text x="1394.42" y="1149.9" font-family='"DejaVu Sans", "Liberation Sans", sans-serif' font-size="22.7" text-anchor="middle" fill="#111" stroke="#111" stroke-width="0.35">400</text>
<line x1="1489.45" y1="1120.7" x2="1489.45" y2="1126.2" stroke="#2a2a2a" stroke-width="1.5"/>
<text x="1489.45" y="1149.9" font-family='"DejaVu Sans", "Liberation Sans", sans-serif' font-size="22.7" text-anchor="middle" fill="#111" stroke="#111" stroke-width="0.35">500</text>
<line x1="1584.48" y1="1120.7" x2="1584.48" y2="1126.2" stroke="#2a2a2a" stroke-width="1.5"/>
<text x="1584.48" y="1149.9" font-family='"DejaVu Sans", "Liberation Sans", sans-serif' font-size="22.7" text-anchor="middle" fill="#111" stroke="#111" stroke-width="0.35">600</text>
<rect x="983.4" y="1173.1" width="676.4" height="529.5" fill="none" stroke="#2a2a2a" stroke-width="1.8"/>
<line x1="1014.3" y1="1702.6" x2="1014.3" y2="1708.1" stroke="#2a2a2a" stroke-width="1.5"/>
<text x="1014.3" y="1731.8" font-family='"DejaVu Sans", "Liberation Sans", sans-serif' font-size="22.7" text-anchor="middle" fill="#111" stroke="#111" stroke-width="0.35">0</text>
<line x1="1109.33" y1="1702.6" x2="1109.33" y2="1708.1" stroke="#2a2a2a" stroke-width="1.5"/>
<text x="1109.33" y="1731.8" font-family='"DejaVu Sans", "Liberation Sans", sans-serif' font-size="22.7" text-anchor="middle" fill="#111" stroke="#111" stroke-width="0.35">100</text>
<line x1="1204.36" y1="1702.6" x2="1204.36" y2="1708.1" stroke="#2a2a2a" stroke-width="1.5"/>
<text x="1204.36" y="1731.8" font-family='"DejaVu Sans", "Liberation Sans", sans-serif' font-size="22.7" text-anchor="middle" fill="#111" stroke="#111" stroke-width="0.35">200</text>
<line x1="1299.39" y1="1702.6" x2="1299.39" y2="1708.1" stroke="#2a2a2a" stroke-width="1.5"/>
<text x="1299.39" y="1731.8" font-family='"DejaVu Sans", "Liberation Sans", sans-serif' font-size="22.7" text-anchor="middle" fill="#111" stroke="#111" stroke-width="0.35">300</text>
<line x1="1394.42" y1="1702.6" x2="1394.42" y2="1708.1" stroke="#2a2a2a" stroke-width="1.5"/>
<text x="1394.42" y="1731.8" font-family='"DejaVu Sans", "Liberation Sans", sans-serif' font-size="22.7" text-anchor="middle" fill="#111" stroke="#111" stroke-width="0.35">400</text>
<line x1="1489.45" y1="1702.6" x2="1489.45" y2="1708.1" stroke="#2a2a2a" stroke-width="1.5"/>
<text x="1489.45" y="1731.8" font-family='"DejaVu Sans", "Liberation Sans", sans-serif' font-size="22.7" text-anchor="middle" fill="#111" stroke="#111" stroke-width="0.35">500</text>
<line x1="1584.48" y1="1702.6" x2="1584.48" y2="1708.1" stroke="#2a2a2a" stroke-width="1.5"/>
<text x="1584.48" y="1731.8" font-family='"DejaVu Sans", "Liberation Sans", sans-serif' font-size="22.7" text-anchor="middle" fill="#111" stroke="#111" stroke-width="0.35">600</text>
<line x1="140.9" y1="538.9" x2="147.9" y2="538.9" stroke="#2a2a2a" stroke-width="1.5"/>
<text x="135.6" y="547.9" font-family='"DejaVu Sans", "Liberation Sans", sans-serif' font-size="22.7" text-anchor="end" fill="#111" stroke="#111" stroke-width="0.35">0</text>
<line x1="140.9" y1="438.74" x2="147.9" y2="438.74" stroke="#2a2a2a" stroke-width="1.5"/>
<text x="135.6" y="447.74" font-family='"DejaVu Sans", "Liberation Sans", sans-serif' font-size="22.7" text-anchor="end" fill="#111" stroke="#111" stroke-width="0.35">200</text>
<line x1="140.9" y1="338.58" x2="147.9" y2="338.58" stroke="#2a2a2a" stroke-width="1.5"/>
<text x="135.6" y="347.58" font-family='"DejaVu Sans", "Liberation Sans", sans-serif' font-size="22.7" text-anchor="end" fill="#111" stroke="#111" stroke-width="0.35">400</text>
<line x1="140.9" y1="238.42" x2="147.9" y2="238.42" stroke="#2a2a2a" stroke-width="1.5"/>
<text x="135.6" y="247.42" font-family='"DejaVu Sans", "Liberation Sans", sans-serif' font-size="22.7" text-anchor="end" fill="#111" stroke="#111" stroke-width="0.35">600</text>
<line x1="140.9" y1="138.26" x2="147.9" y2="138.26" stroke="#2a2a2a" stroke-width="1.5"/>
<text x="135.6" y="147.26" font-family='"DejaVu Sans", "Liberation Sans", sans-serif' font-size="22.7" text-anchor="end" fill="#111" stroke="#111" stroke-width="0.35">800</text>
<line x1="140.9" y1="38.1" x2="147.9" y2="38.1" stroke="#2a2a2a" stroke-width="1.5"/>
<text x="135.6" y="47.1" font-family='"DejaVu Sans", "Liberation Sans", sans-serif' font-size="22.7" text-anchor="end" fill="#111" stroke="#111" stroke-width="0.35">1000</text>
<line x1="823.8" y1="538.9" x2="830.8" y2="538.9" stroke="#2a2a2a" stroke-width="1.5"/>
<text x="835.1" y="547.9" font-family='"DejaVu Sans", "Liberation Sans", sans-serif' font-size="22.7" text-anchor="start" fill="#111" stroke="#111" stroke-width="0.35">0</text>
<line x1="823.8" y1="454.2" x2="830.8" y2="454.2" stroke="#2a2a2a" stroke-width="1.5"/>
<text x="835.1" y="463.2" font-family='"DejaVu Sans", "Liberation Sans", sans-serif' font-size="22.7" text-anchor="start" fill="#111" stroke="#111" stroke-width="0.35">10</text>
<line x1="823.8" y1="369.5" x2="830.8" y2="369.5" stroke="#2a2a2a" stroke-width="1.5"/>
<text x="835.1" y="378.5" font-family='"DejaVu Sans", "Liberation Sans", sans-serif' font-size="22.7" text-anchor="start" fill="#111" stroke="#111" stroke-width="0.35">20</text>
<line x1="823.8" y1="284.8" x2="830.8" y2="284.8" stroke="#2a2a2a" stroke-width="1.5"/>
<text x="835.1" y="293.8" font-family='"DejaVu Sans", "Liberation Sans", sans-serif' font-size="22.7" text-anchor="start" fill="#111" stroke="#111" stroke-width="0.35">30</text>
<line x1="823.8" y1="200.1" x2="830.8" y2="200.1" stroke="#2a2a2a" stroke-width="1.5"/>
<text x="835.1" y="209.1" font-family='"DejaVu Sans", "Liberation Sans", sans-serif' font-size="22.7" text-anchor="start" fill="#111" stroke="#111" stroke-width="0.35">40</text>
<line x1="823.8" y1="115.4" x2="830.8" y2="115.4" stroke="#2a2a2a" stroke-width="1.5"/>
<text x="835.1" y="124.4" font-family='"DejaVu Sans", "Liberation Sans", sans-serif' font-size="22.7" text-anchor="start" fill="#111" stroke="#111" stroke-width="0.35">50</text>
<line x1="823.8" y1="30.7" x2="830.8" y2="30.7" stroke="#2a2a2a" stroke-width="1.5"/>
<text x="835.1" y="39.7" font-family='"DejaVu Sans", "Liberation Sans", sans-serif' font-size="22.7" text-anchor="start" fill="#111" stroke="#111" stroke-width="0.35">60</text>
<line x1="976.4" y1="514" x2="983.4" y2="514" stroke="#2a2a2a" stroke-width="1.5"/>
<text x="971.1" y="523" font-family='"DejaVu Sans", "Liberation Sans", sans-serif' font-size="22.7" text-anchor="end" fill="#111" stroke="#111" stroke-width="0.35">0.00</text>
<line x1="976.4" y1="453.9" x2="983.4" y2="453.9" stroke="#2a2a2a" stroke-width="1.5"/>
<text x="971.1" y="462.9" font-family='"DejaVu Sans", "Liberation Sans", sans-serif' font-size="22.7" text-anchor="end" fill="#111" stroke="#111" stroke-width="0.35">0.25</text>
<line x1="976.4" y1="393.8" x2="983.4" y2="393.8" stroke="#2a2a2a" stroke-width="1.5"/>
<text x="971.1" y="402.8" font-family='"DejaVu Sans", "Liberation Sans", sans-serif' font-size="22.7" text-anchor="end" fill="#111" stroke="#111" stroke-width="0.35">0.50</text>
<line x1="976.4" y1="333.7" x2="983.4" y2="333.7" stroke="#2a2a2a" stroke-width="1.5"/>
<text x="971.1" y="342.7" font-family='"DejaVu Sans", "Liberation Sans", sans-serif' font-size="22.7" text-anchor="end" fill="#111" stroke="#111" stroke-width="0.35">0.75</text>
<line x1="976.4" y1="273.6" x2="983.4" y2="273.6" stroke="#2a2a2a" stroke-width="1.5"/>
<text x="971.1" y="282.6" font-family='"DejaVu Sans", "Liberation Sans", sans-serif' font-size="22.7" text-anchor="end" fill="#111" stroke="#111" stroke-width="0.35">1.00</text>
<line x1="976.4" y1="213.5" x2="983.4" y2="213.5" stroke="#2a2a2a" stroke-width="1.5"/>
<text x="971.1" y="222.5" font-family='"DejaVu Sans", "Liberation Sans", sans-serif' font-size="22.7" text-anchor="end" fill="#111" stroke="#111" stroke-width="0.35">1.25</text>
<line x1="976.4" y1="153.4" x2="983.4" y2="153.4" stroke="#2a2a2a" stroke-width="1.5"/>
<text x="971.1" y="162.4" font-family='"DejaVu Sans", "Liberation Sans", sans-serif' font-size="22.7" text-anchor="end" fill="#111" stroke="#111" stroke-width="0.35">1.50</text>
<line x1="976.4" y1="93.3" x2="983.4" y2="93.3" stroke="#2a2a2a" stroke-width="1.5"/>
<text x="971.1" y="102.3" font-family='"DejaVu Sans", "Liberation Sans", sans-serif' font-size="22.7" text-anchor="end" fill="#111" stroke="#111" stroke-width="0.35">1.75</text>
<line x1="976.4" y1="33.2" x2="983.4" y2="33.2" stroke="#2a2a2a" stroke-width="1.5"/>
<text x="971.1" y="42.2" font-family='"DejaVu Sans", "Liberation Sans", sans-serif' font-size="22.7" text-anchor="end" fill="#111" stroke="#111" stroke-width="0.35">2.00</text>
<line x1="140.9" y1="1120.7" x2="147.9" y2="1120.7" stroke="#2a2a2a" stroke-width="1.5"/>
<text x="135.6" y="1129.7" font-family='"DejaVu Sans", "Liberation Sans", sans-serif' font-size="22.7" text-anchor="end" fill="#111" stroke="#111" stroke-width="0.35">0</text>
<line x1="140.9" y1="1007.9" x2="147.9" y2="1007.9" stroke="#2a2a2a" stroke-width="1.5"/>
<text x="135.6" y="1016.9" font-family='"DejaVu Sans", "Liberation Sans", sans-serif' font-size="22.7" text-anchor="end" fill="#111" stroke="#111" stroke-width="0.35">2000</text>
<line x1="140.9" y1="895.1" x2="147.9" y2="895.1" stroke="#2a2a2a" stroke-width="1.5"/>
<text x="135.6" y="904.1" font-family='"DejaVu Sans", "Liberation Sans", sans-serif' font-size="22.7" text-anchor="end" fill="#111" stroke="#111" stroke-width="0.35">4000</text>
<line x1="140.9" y1="782.3" x2="147.9" y2="782.3" stroke="#2a2a2a" stroke-width="1.5"/>
<text x="135.6" y="791.3" font-family='"DejaVu Sans", "Liberation Sans", sans-serif' font-size="22.7" text-anchor="end" fill="#111" stroke="#111" stroke-width="0.35">6000</text>
<line x1="140.9" y1="669.5" x2="147.9" y2="669.5" stroke="#2a2a2a" stroke-width="1.5"/>
<text x="135.6" y="678.5" font-family='"DejaVu Sans", "Liberation Sans", sans-serif' font-size="22.7" text-anchor="end" fill="#111" stroke="#111" stroke-width="0.35">8000</text>
<line x1="976.4" y1="1099.3" x2="983.4" y2="1099.3" stroke="#2a2a2a" stroke-width="1.5"/>
<text x="972.7" y="1108.3" font-family='"DejaVu Sans", "Liberation Sans", sans-serif' font-size="22.7" text-anchor="end" fill="#111" stroke="#111" stroke-width="0.35">0.5</text>
<line x1="976.4" y1="991.95" x2="983.4" y2="991.95" stroke="#2a2a2a" stroke-width="1.5"/>
<text x="972.7" y="1000.95" font-family='"DejaVu Sans", "Liberation Sans", sans-serif' font-size="22.7" text-anchor="end" fill="#111" stroke="#111" stroke-width="0.35">1.0</text>
<line x1="976.4" y1="884.6" x2="983.4" y2="884.6" stroke="#2a2a2a" stroke-width="1.5"/>
<text x="972.7" y="893.6" font-family='"DejaVu Sans", "Liberation Sans", sans-serif' font-size="22.7" text-anchor="end" fill="#111" stroke="#111" stroke-width="0.35">1.5</text>
<line x1="976.4" y1="777.25" x2="983.4" y2="777.25" stroke="#2a2a2a" stroke-width="1.5"/>
<text x="972.7" y="786.25" font-family='"DejaVu Sans", "Liberation Sans", sans-serif' font-size="22.7" text-anchor="end" fill="#111" stroke="#111" stroke-width="0.35">2.0</text>
<line x1="976.4" y1="669.9" x2="983.4" y2="669.9" stroke="#2a2a2a" stroke-width="1.5"/>
<text x="972.7" y="678.9" font-family='"DejaVu Sans", "Liberation Sans", sans-serif' font-size="22.7" text-anchor="end" fill="#111" stroke="#111" stroke-width="0.35">2.5</text>
<line x1="140.9" y1="1702.6" x2="147.9" y2="1702.6" stroke="#2a2a2a" stroke-width="1.5"/>
<text x="135.6" y="1711.6" font-family='"DejaVu Sans", "Liberation Sans", sans-serif' font-size="22.7" text-anchor="end" fill="#111" stroke="#111" stroke-width="0.35">0</text>
<line x1="140.9" y1="1603.46" x2="147.9" y2="1603.46" stroke="#2a2a2a" stroke-width="1.5"/>
<text x="135.6" y="1612.46" font-family='"DejaVu Sans", "Liberation Sans", sans-serif' font-size="22.7" text-anchor="end" fill="#111" stroke="#111" stroke-width="0.35">200</text>
<line x1="140.9" y1="1504.32" x2="147.9" y2="1504.32" stroke="#2a2a2a" stroke-width="1.5"/>
<text x="135.6" y="1513.32" font-family='"DejaVu Sans", "Liberation Sans", sans-serif' font-size="22.7" text-anchor="end" fill="#111" stroke="#111" stroke-width="0.35">400</text>
<line x1="140.9" y1="1405.18" x2="147.9" y2="1405.18" stroke="#2a2a2a" stroke-width="1.5"/>
<text x="135.6" y="1414.18" font-family='"DejaVu Sans", "Liberation Sans", sans-serif' font-size="22.7" text-anchor="end" fill="#111" stroke="#111" stroke-width="0.35">600</text>
<line x1="140.9" y1="1306.04" x2="147.9" y2="1306.04" stroke="#2a2a2a" stroke-width="1.5"/>
<text x="135.6" y="1315.04" font-family='"DejaVu Sans", "Liberation Sans", sans-serif' font-size="22.7" text-anchor="end" fill="#111" stroke="#111" stroke-width="0.35">800</text>
<line x1="140.9" y1="1206.9" x2="147.9" y2="1206.9" stroke="#2a2a2a" stroke-width="1.5"/>
<text x="135.6" y="1215.9" font-family='"DejaVu Sans", "Liberation Sans", sans-serif' font-size="22.7" text-anchor="end" fill="#111" stroke="#111" stroke-width="0.35">1000</text>
<line x1="976.4" y1="1661.08" x2="983.4" y2="1661.08" stroke="#2a2a2a" stroke-width="1.5"/>
<text x="972.9" y="1670.08" font-family='"DejaVu Sans", "Liberation Sans", sans-serif' font-size="22.7" text-anchor="end" fill="#111" stroke="#111" stroke-width="0.35">0.2</text>
<line x1="976.4" y1="1545.06" x2="983.4" y2="1545.06" stroke="#2a2a2a" stroke-width="1.5"/>
<text x="972.9" y="1554.06" font-family='"DejaVu Sans", "Liberation Sans", sans-serif' font-size="22.7" text-anchor="end" fill="#111" stroke="#111" stroke-width="0.35">0.4</text>
<line x1="976.4" y1="1429.04" x2="983.4" y2="1429.04" stroke="#2a2a2a" stroke-width="1.5"/>
<text x="972.9" y="1438.04" font-family='"DejaVu Sans", "Liberation Sans", sans-serif' font-size="22.7" text-anchor="end" fill="#111" stroke="#111" stroke-width="0.35">0.6</text>
<line x1="976.4" y1="1313.02" x2="983.4" y2="1313.02" stroke="#2a2a2a" stroke-width="1.5"/>
<text x="972.9" y="1322.02" font-family='"DejaVu Sans", "Liberation Sans", sans-serif' font-size="22.7" text-anchor="end" fill="#111" stroke="#111" stroke-width="0.35">0.8</text>
<line x1="976.4" y1="1197" x2="983.4" y2="1197" stroke="#2a2a2a" stroke-width="1.5"/>
<text x="972.9" y="1206" font-family='"DejaVu Sans", "Liberation Sans", sans-serif' font-size="22.7" text-anchor="end" fill="#111" stroke="#111" stroke-width="0.35">1.0</text>
<text x="66.6" y="274.1" font-family='"DejaVu Sans", "Liberation Sans", sans-serif' font-size="22.9" text-anchor="middle" fill="#111" transform="rotate(-90 66.6 274.1)" stroke="#111" stroke-width="0.35">Susceptible (x 1000)</text>
<text x="871.8" y="274.7" font-family='"DejaVu Sans", "Liberation Sans", sans-serif' font-size="22.9" text-anchor="middle" fill="#111" transform="rotate(90 871.8 274.7)" stroke="#111" stroke-width="0.35">Recovered (x 1000)</text>
<text x="909.6" y="273.6" font-family='"DejaVu Sans", "Liberation Sans", sans-serif' font-size="22.9" text-anchor="middle" fill="#111" transform="rotate(-90 909.6 273.6)" stroke="#111" stroke-width="0.35">Reproductive ratio</text>
<text x="69.6" y="858.2" font-family='"DejaVu Sans", "Liberation Sans", sans-serif' font-size="22.9" text-anchor="middle" fill="#111" transform="rotate(-90 69.6 858.2)" stroke="#111" stroke-width="0.35">Infected</text>
<text x="923.2" y="854.5" font-family='"DejaVu Sans", "Liberation Sans", sans-serif' font-size="22.9" text-anchor="middle" fill="#111" transform="rotate(-90 923.2 854.5)" stroke="#111" stroke-width="0.35">Reproductive ratio</text>
<text x="67.2" y="1438.5" font-family='"DejaVu Sans", "Liberation Sans", sans-serif' font-size="22.9" text-anchor="middle" fill="#111" transform="rotate(-90 67.2 1438.5)" stroke="#111" stroke-width="0.35">Vaccinated (x 1000)</text>
<text x="922.8" y="1440.1" font-family='"DejaVu Sans", "Liberation Sans", sans-serif' font-size="22.2" text-anchor="middle" fill="#111" transform="rotate(-90 922.8 1440.1)" stroke="#111" stroke-width="0.35">Social activity, <tspan font-style="italic">s</tspan></text>
<text x="479" y="1783.4" font-family='"DejaVu Sans", "Liberation Sans", sans-serif' font-size="26.8" text-anchor="middle" fill="#111" stroke="#111" stroke-width="0.35">Time (days)</text>
<text x="1327.2" y="1783.4" font-family='"DejaVu Sans", "Liberation Sans", sans-serif' font-size="26.6" text-anchor="middle" fill="#111" stroke="#111" stroke-width="0.35">Time (days)</text>
<rect x="458" y="172.6" width="335.6" height="98.9" rx="3" ry="3" fill="#fff" fill-opacity="0.85" stroke="#d0d0d0" stroke-width="1.3"/>
<polyline points="465.7,189.1 513.3,189.1" fill="none" stroke="#2f6688" stroke-width="2.2" stroke-linejoin="round" stroke-linecap="butt"/>
<text x="531.4" y="197.1" font-family='"DejaVu Sans", "Liberation Sans", sans-serif' font-size="22.9" text-anchor="start" fill="#111" stroke="#111" stroke-width="0.35">Susceptible <tspan font-style="italic">x</tspan></text>
<polyline points="465.7,220.9 513.3,220.9" fill="none" stroke="#9a2442" stroke-width="2.2" stroke-linejoin="round" stroke-linecap="butt"/>
<text x="531.4" y="228.9" font-family='"DejaVu Sans", "Liberation Sans", sans-serif' font-size="22.9" text-anchor="start" fill="#111" stroke="#111" stroke-width="0.35">Recovered from WT <tspan font-style="italic">z</tspan><tspan font-size="15.5" dy="5">1</tspan></text>
<polyline points="465.7,252 513.3,252" fill="none" stroke="#6e5452" stroke-width="2.2" stroke-linejoin="round" stroke-linecap="butt"/>
<text x="531.4" y="260" font-family='"DejaVu Sans", "Liberation Sans", sans-serif' font-size="22.9" text-anchor="start" fill="#111" stroke="#111" stroke-width="0.35">Recovered from MT <tspan font-style="italic">z</tspan><tspan font-size="15.5" dy="5">2</tspan></text>
<rect x="551.7" y="600.8" width="261.3" height="65.8" rx="3" ry="3" fill="#fff" fill-opacity="0.85" stroke="#d0d0d0" stroke-width="1.3"/>
<polyline points="558.3,617 599.1,617" fill="none" stroke="#e8861f" stroke-width="2.2" stroke-linejoin="round" stroke-linecap="butt"/>
<text x="614.9" y="623.8" font-family='"DejaVu Sans", "Liberation Sans", sans-serif' font-size="19.7" text-anchor="start" fill="#111" stroke="#111" stroke-width="0.35">Infected with WT <tspan font-style="italic">y</tspan><tspan font-size="13.5" dy="4.5">1</tspan></text>
<polyline points="558.3,647.4 599.1,647.4" fill="none" stroke="#2d8a3a" stroke-width="2.2" stroke-linejoin="round" stroke-linecap="butt"/>
<text x="614.9" y="654.2" font-family='"DejaVu Sans", "Liberation Sans", sans-serif' font-size="19.7" text-anchor="start" fill="#111" stroke="#111" stroke-width="0.35">Infected with MT <tspan font-style="italic">y</tspan>2</text>
<rect x="400.1" y="1183.1" width="413.7" height="63.9" rx="3" ry="3" fill="#fff" fill-opacity="0.85" stroke="#d0d0d0" stroke-width="1.3"/>
<polyline points="406.4,1199.5 447.6,1199.5" fill="none" stroke="#84679f" stroke-width="2.2" stroke-linejoin="round" stroke-linecap="butt"/>
<text x="463.3" y="1206.3" font-family='"DejaVu Sans", "Liberation Sans", sans-serif' font-size="19.7" text-anchor="start" fill="#111" stroke="#111" stroke-width="0.35">Vaccinated <tspan font-style="italic">w</tspan><tspan font-size="13.5" dy="4.5">1</tspan></text>
<polyline points="406.4,1228 447.6,1228" fill="none" stroke="#cf85bd" stroke-width="2.2" stroke-linejoin="round" stroke-linecap="butt"/>
<text x="463.3" y="1234.8" font-family='"DejaVu Sans", "Liberation Sans", sans-serif' font-size="19.7" text-anchor="start" fill="#111" stroke="#111" stroke-width="0.35">Vaccinated, Recovered from MT <tspan font-style="italic">w</tspan><tspan font-size="13.5" dy="4.5">2</tspan></text>
<text x="-3.8" y="71.9" font-family='Carlito, "Liberation Sans", sans-serif' font-size="66" text-anchor="start" fill="#000" textLength="79.06" lengthAdjust="spacingAndGlyphs" style="font-size-adjust: cap-height 0.6416">(<tspan font-size="64" dx="1" dy="-3.4">A</tspan><tspan dx="1" dy="3.4">)</tspan></text>
<text x="1663.5" y="71.2" font-family='Carlito, "Liberation Sans", sans-serif' font-size="66" text-anchor="start" fill="#000" textLength="76.84" lengthAdjust="spacingAndGlyphs" style="font-size-adjust: cap-height 0.6416">(<tspan font-size="64" dx="1" dy="-2.6">B</tspan><tspan dx="1" dy="2.6">)</tspan></text>
<text x="-3.7" y="661.8" font-family='Carlito, "Liberation Sans", sans-serif' font-size="66" text-anchor="start" fill="#000" textLength="76.16" lengthAdjust="spacingAndGlyphs" style="font-size-adjust: cap-height 0.6416">(<tspan font-size="64" dx="1" dy="-2.3">C</tspan><tspan dx="1" dy="2.3">)</tspan></text>
<text x="1663.5" y="662.3" font-family='Carlito, "Liberation Sans", sans-serif' font-size="66" text-anchor="start" fill="#000" textLength="81.41" lengthAdjust="spacingAndGlyphs" style="font-size-adjust: cap-height 0.6416">(<tspan font-size="64" dx="1" dy="-2.8">D</tspan><tspan dx="1" dy="2.8">)</tspan></text>
<text x="-4" y="1256.9" font-family='Carlito, "Liberation Sans", sans-serif' font-size="66" text-anchor="start" fill="#000" textLength="73.28" lengthAdjust="spacingAndGlyphs" style="font-size-adjust: cap-height 0.6416">(<tspan font-size="64" dx="1" dy="-2.3">E</tspan><tspan dx="1" dy="2.3">)</tspan></text>
<text x="1663.5" y="1256.9" font-family='Carlito, "Liberation Sans", sans-serif' font-size="66" text-anchor="start" fill="#000" textLength="71.44" lengthAdjust="spacingAndGlyphs" style="font-size-adjust: cap-height 0.6416">(<tspan font-size="64" dx="1" dy="-2.3">F</tspan><tspan dx="1" dy="2.3">)</tspan></text>
<text x="198.7" y="422" font-family='Carlito, "Liberation Sans", sans-serif' font-size="66" text-anchor="start" fill="#000" textLength="31.63" lengthAdjust="spacingAndGlyphs" style="font-size-adjust: cap-height 0.6416">a</text>
<text x="1050.6" y="948.1" font-family='Carlito, "Liberation Sans", sans-serif' font-size="66" text-anchor="start" fill="#000" textLength="34.69" lengthAdjust="spacingAndGlyphs" style="font-size-adjust: cap-height 0.6416">b</text>
<text x="189.9" y="1417" font-family='Carlito, "Liberation Sans", sans-serif' font-size="66" text-anchor="start" fill="#000" textLength="27.92" lengthAdjust="spacingAndGlyphs" style="font-size-adjust: cap-height 0.6416">c</text>
<text x="506.3" y="1400.8" font-family='Carlito, "Liberation Sans", sans-serif' font-size="66" text-anchor="start" fill="#000" textLength="34.69" lengthAdjust="spacingAndGlyphs" style="font-size-adjust: cap-height 0.6416">d</text>
<text x="432.3" y="1625.5" font-family='Carlito, "Liberation Sans", sans-serif' font-size="66" text-anchor="start" fill="#000" textLength="32.84" lengthAdjust="spacingAndGlyphs" style="font-size-adjust: cap-height 0.6416">e</text>
<text x="1006.9" y="1487.2" font-family='Carlito, "Liberation Sans", sans-serif' font-size="66" text-anchor="start" fill="#000" textLength="20.16" lengthAdjust="spacingAndGlyphs" style="font-size-adjust: cap-height 0.6416">f</text>
<text x="1278.8" y="1593" font-family='Carlito, "Liberation Sans", sans-serif' font-size="66" text-anchor="start" fill="#000" textLength="31.08" lengthAdjust="spacingAndGlyphs" style="font-size-adjust: cap-height 0.6416">g</text>
<text x="1347.2" y="213.8" font-family='Caladea, "Liberation Serif", serif' font-size="66" text-anchor="start" fill="#000" font-style="italic" textLength="37.89" lengthAdjust="spacingAndGlyphs">R</text>
<text x="1389.4" y="227" font-family='Caladea, "Liberation Serif", serif' font-size="45" text-anchor="start" fill="#000" font-style="italic" textLength="69" lengthAdjust="spacingAndGlyphs">WT</text>
<text x="1328.1" y="866.8" font-family='Caladea, "Liberation Serif", serif' font-size="66" text-anchor="start" fill="#000" font-style="italic" textLength="37.89" lengthAdjust="spacingAndGlyphs">R</text>
<text x="1369" y="880.2" font-family='Caladea, "Liberation Serif", serif' font-size="45" text-anchor="start" fill="#000" font-style="italic" textLength="66" lengthAdjust="spacingAndGlyphs">MT</text>
</svg>
</body></html>
